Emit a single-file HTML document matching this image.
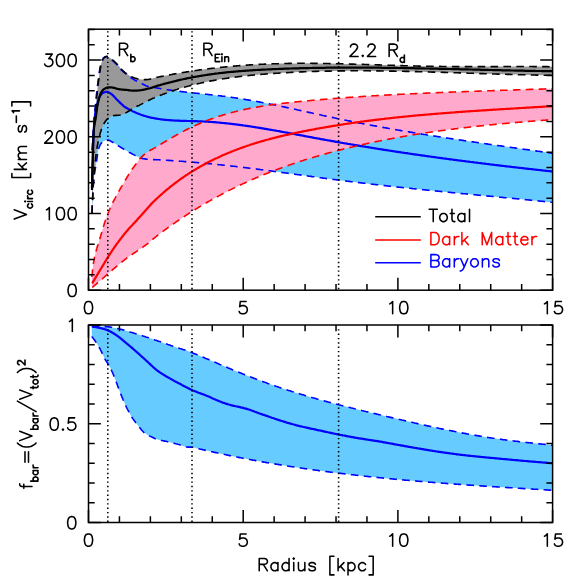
<!DOCTYPE html>
<html><head><meta charset="utf-8"><title>Rotation curve</title>
<style>html,body{margin:0;padding:0;background:#fff;font-family:"Liberation Sans",sans-serif}svg{display:block}</style>
</head><body>
<svg width="581" height="581" viewBox="0 0 581 581">
<rect width="581" height="581" fill="#fff"/>
<path d="M92.6 150.0 L92.8 146.4 L93.1 142.6 L93.3 138.9 L93.6 135.0 L93.8 130.9 L94.1 126.6 L94.3 122.4 L94.6 118.9 L94.8 116.0 L95.1 113.4 L95.3 111.1 L95.6 108.8 L95.8 106.5 L96.1 104.1 L96.3 101.6 L96.6 99.0 L96.8 96.5 L97.1 94.1 L97.3 91.7 L97.6 89.5 L97.8 87.3 L98.1 85.2 L98.3 83.2 L98.6 81.2 L98.8 79.3 L99.1 77.5 L99.3 75.8 L99.6 74.0 L99.8 72.3 L100.1 70.6 L100.3 69.0 L100.6 67.5 L100.8 66.2 L101.1 65.0 L101.3 64.0 L101.6 63.1 L101.8 62.3 L102.1 61.6 L102.3 60.9 L102.6 60.2 L102.8 59.6 L103.1 59.1 L103.3 58.6 L103.6 58.3 L103.8 57.9 L104.1 57.7 L104.3 57.5 L104.6 57.3 L104.8 57.1 L105.1 56.9 L105.3 56.8 L105.6 56.7 L105.8 56.5 L106.1 56.5 L106.3 56.4 L106.6 56.4 L106.8 56.4 L107.1 56.4 L107.3 56.5 L107.6 56.6 L107.8 56.7 L108.1 56.8 L108.3 56.9 L108.6 57.1 L108.8 57.2 L109.1 57.4 L109.3 57.5 L109.6 57.7 L109.8 57.9 L110.1 58.1 L110.3 58.3 L110.6 58.4 L110.8 58.6 L111.1 58.8 L111.3 59.0 L111.6 59.1 L111.8 59.3 L112.1 59.5 L112.3 59.7 L112.6 59.9 L112.8 60.1 L113.1 60.3 L113.3 60.5 L113.6 60.7 L113.8 60.9 L114.1 61.1 L114.3 61.3 L114.6 61.6 L114.8 61.8 L115.1 62.0 L115.3 62.3 L115.6 62.5 L115.8 62.7 L116.1 63.0 L116.3 63.2 L116.6 63.5 L116.8 63.7 L117.1 64.0 L117.3 64.3 L117.6 64.6 L117.8 64.9 L118.1 65.2 L118.3 65.5 L118.6 65.8 L118.8 66.1 L119.1 66.4 L119.3 66.8 L119.6 67.1 L119.8 67.4 L120.1 67.7 L120.3 68.0 L120.6 68.3 L120.8 68.5 L121.1 68.8 L121.3 69.1 L121.6 69.3 L121.8 69.6 L122.1 69.8 L122.3 70.0 L122.6 70.3 L122.8 70.5 L123.1 70.8 L123.3 71.0 L123.6 71.2 L123.8 71.4 L124.1 71.7 L124.3 71.9 L124.6 72.1 L124.8 72.3 L125.1 72.5 L125.3 72.7 L125.6 72.9 L125.8 73.1 L126.1 73.3 L126.3 73.5 L126.6 73.7 L126.8 73.9 L127.1 74.1 L127.3 74.3 L127.6 74.5 L127.8 74.7 L128.1 74.9 L128.3 75.1 L128.6 75.3 L128.8 75.5 L129.1 75.7 L129.3 75.8 L129.6 76.0 L129.8 76.2 L130.6 76.7 L131.6 77.4 L132.6 78.1 L133.6 78.8 L134.6 79.4 L135.6 80.0 L136.6 80.7 L137.6 81.3 L138.6 81.9 L139.6 82.4 L140.6 83.0 L141.6 83.5 L142.6 84.1 L143.6 84.6 L144.6 85.1 L145.6 85.5 L146.6 85.9 L147.6 86.2 L148.6 86.5 L149.6 86.7 L150.6 86.9 L151.6 87.1 L152.6 87.2 L153.6 87.4 L154.6 87.5 L155.6 87.7 L156.6 87.9 L157.6 88.1 L158.6 88.3 L159.6 88.5 L160.6 88.6 L161.6 88.8 L162.6 89.0 L163.6 89.1 L164.6 89.3 L165.6 89.5 L166.6 89.6 L167.6 89.8 L168.6 89.9 L169.6 90.0 L170.6 90.2 L171.6 90.3 L172.6 90.5 L173.6 90.6 L174.6 90.7 L175.6 90.8 L176.6 91.0 L177.6 91.1 L178.6 91.2 L179.6 91.3 L180.6 91.5 L181.6 91.6 L182.6 91.7 L183.6 91.8 L184.6 91.9 L185.6 92.0 L186.6 92.2 L187.6 92.3 L188.6 92.4 L189.6 92.5 L190.6 92.6 L191.6 92.7 L192.6 92.8 L193.6 92.9 L194.6 93.0 L195.6 93.1 L196.6 93.2 L197.6 93.3 L198.6 93.5 L199.6 93.6 L200.6 93.7 L201.6 93.8 L202.6 93.9 L203.6 94.0 L204.6 94.1 L205.6 94.2 L206.6 94.3 L207.6 94.4 L208.6 94.5 L209.6 94.6 L210.6 94.7 L211.6 94.8 L212.6 95.0 L213.6 95.1 L214.6 95.2 L215.6 95.3 L216.6 95.4 L217.6 95.5 L218.6 95.6 L219.6 95.8 L220.6 95.9 L221.6 96.0 L222.6 96.1 L223.6 96.3 L224.6 96.4 L225.6 96.5 L226.6 96.6 L227.6 96.8 L228.6 96.9 L229.6 97.0 L230.6 97.2 L231.6 97.3 L232.6 97.5 L233.6 97.6 L234.6 97.8 L235.6 97.9 L236.6 98.1 L237.6 98.2 L238.6 98.4 L239.6 98.5 L240.6 98.7 L241.6 98.8 L242.6 99.0 L243.6 99.2 L244.6 99.3 L245.6 99.5 L246.6 99.7 L247.6 99.8 L248.6 100.0 L249.6 100.2 L250.6 100.4 L251.6 100.5 L252.6 100.7 L253.6 100.9 L254.6 101.1 L255.6 101.3 L256.6 101.4 L257.6 101.6 L258.6 101.8 L259.6 102.0 L260.6 102.2 L261.6 102.4 L262.6 102.6 L263.6 102.8 L264.6 103.0 L265.6 103.2 L266.6 103.4 L267.6 103.6 L268.6 103.8 L269.6 104.0 L270.6 104.2 L271.6 104.4 L272.6 104.6 L273.6 104.8 L274.6 105.0 L275.6 105.2 L276.6 105.4 L277.6 105.6 L278.6 105.8 L279.6 106.0 L280.6 106.2 L281.6 106.4 L282.6 106.6 L283.6 106.8 L284.6 107.1 L285.6 107.3 L286.6 107.5 L287.6 107.7 L288.6 107.9 L289.6 108.1 L290.6 108.3 L291.6 108.6 L292.6 108.8 L293.6 109.0 L294.6 109.2 L295.6 109.4 L296.6 109.7 L297.6 109.9 L298.6 110.1 L299.6 110.3 L300.6 110.5 L301.6 110.7 L302.6 111.0 L303.6 111.2 L304.6 111.4 L305.6 111.6 L306.6 111.8 L307.6 112.1 L308.6 112.3 L309.6 112.5 L310.6 112.7 L311.6 113.0 L312.6 113.2 L313.6 113.4 L314.6 113.6 L315.6 113.8 L316.6 114.1 L317.6 114.3 L318.6 114.5 L319.6 114.7 L320.6 114.9 L321.6 115.1 L322.6 115.4 L323.6 115.6 L324.6 115.8 L325.6 116.0 L326.6 116.2 L327.6 116.4 L328.6 116.7 L329.6 116.9 L330.6 117.1 L331.6 117.3 L332.6 117.5 L333.6 117.7 L334.6 117.9 L335.6 118.2 L336.6 118.4 L337.6 118.6 L338.6 118.8 L339.6 119.0 L340.6 119.2 L341.6 119.4 L342.6 119.6 L343.6 119.8 L344.6 120.0 L345.6 120.2 L346.6 120.4 L347.6 120.6 L348.6 120.8 L349.6 121.0 L350.6 121.2 L351.6 121.4 L352.6 121.6 L353.6 121.8 L354.6 122.0 L355.6 122.2 L356.6 122.4 L357.6 122.6 L358.6 122.8 L359.6 123.0 L360.6 123.2 L361.6 123.4 L362.6 123.6 L363.6 123.8 L364.6 124.0 L365.6 124.2 L366.6 124.4 L367.6 124.6 L368.6 124.7 L369.6 124.9 L370.6 125.1 L371.6 125.3 L372.6 125.5 L373.6 125.7 L374.6 125.9 L375.6 126.0 L376.6 126.2 L377.6 126.4 L378.6 126.6 L379.6 126.8 L380.6 127.0 L381.6 127.1 L382.6 127.3 L383.6 127.5 L384.6 127.7 L385.6 127.9 L386.6 128.0 L387.6 128.2 L388.6 128.4 L389.6 128.6 L390.6 128.8 L391.6 128.9 L392.6 129.1 L393.6 129.3 L394.6 129.5 L395.6 129.6 L396.6 129.8 L397.6 130.0 L398.6 130.2 L399.6 130.3 L400.6 130.5 L401.6 130.7 L402.6 130.8 L403.6 131.0 L404.6 131.2 L405.6 131.3 L406.6 131.5 L407.6 131.7 L408.6 131.9 L409.6 132.0 L410.6 132.2 L411.6 132.4 L412.6 132.5 L413.6 132.7 L414.6 132.9 L415.6 133.0 L416.6 133.2 L417.6 133.3 L418.6 133.5 L419.6 133.7 L420.6 133.8 L421.6 134.0 L422.6 134.2 L423.6 134.3 L424.6 134.5 L425.6 134.6 L426.6 134.8 L427.6 135.0 L428.6 135.1 L429.6 135.3 L430.6 135.4 L431.6 135.6 L432.6 135.8 L433.6 135.9 L434.6 136.1 L435.6 136.2 L436.6 136.4 L437.6 136.5 L438.6 136.7 L439.6 136.9 L440.6 137.0 L441.6 137.2 L442.6 137.3 L443.6 137.5 L444.6 137.6 L445.6 137.8 L446.6 137.9 L447.6 138.1 L448.6 138.2 L449.6 138.4 L450.6 138.6 L451.6 138.7 L452.6 138.9 L453.6 139.0 L454.6 139.2 L455.6 139.3 L456.6 139.5 L457.6 139.6 L458.6 139.8 L459.6 139.9 L460.6 140.1 L461.6 140.2 L462.6 140.4 L463.6 140.5 L464.6 140.7 L465.6 140.8 L466.6 141.0 L467.6 141.1 L468.6 141.3 L469.6 141.4 L470.6 141.5 L471.6 141.7 L472.6 141.8 L473.6 142.0 L474.6 142.1 L475.6 142.3 L476.6 142.4 L477.6 142.6 L478.6 142.7 L479.6 142.9 L480.6 143.0 L481.6 143.2 L482.6 143.3 L483.6 143.4 L484.6 143.6 L485.6 143.7 L486.6 143.9 L487.6 144.0 L488.6 144.2 L489.6 144.3 L490.6 144.5 L491.6 144.6 L492.6 144.7 L493.6 144.9 L494.6 145.0 L495.6 145.2 L496.6 145.3 L497.6 145.5 L498.6 145.6 L499.6 145.7 L500.6 145.9 L501.6 146.0 L502.6 146.2 L503.6 146.3 L504.6 146.5 L505.6 146.6 L506.6 146.7 L507.6 146.9 L508.6 147.0 L509.6 147.2 L510.6 147.3 L511.6 147.5 L512.6 147.6 L513.6 147.7 L514.6 147.9 L515.6 148.0 L516.6 148.2 L517.6 148.3 L518.6 148.5 L519.6 148.6 L520.6 148.7 L521.6 148.9 L522.6 149.0 L523.6 149.2 L524.6 149.3 L525.6 149.4 L526.6 149.6 L527.6 149.7 L528.6 149.9 L529.6 150.0 L530.6 150.2 L531.6 150.3 L532.6 150.4 L533.6 150.6 L534.6 150.7 L535.6 150.9 L536.6 151.0 L537.6 151.1 L538.6 151.3 L539.6 151.4 L540.6 151.6 L541.6 151.7 L542.6 151.9 L543.6 152.0 L544.6 152.1 L545.6 152.3 L546.6 152.4 L547.6 152.6 L548.6 152.7 L549.6 152.8 L550.6 153.0 L551.6 153.1 L552.6 153.3 L552.6 202.3 L552.0 202.3 L551.0 202.2 L550.0 202.1 L549.0 202.0 L548.0 201.9 L547.0 201.8 L546.0 201.7 L545.0 201.6 L544.0 201.5 L543.0 201.4 L542.0 201.3 L541.0 201.2 L540.0 201.1 L539.0 201.0 L538.0 200.9 L537.0 200.8 L536.0 200.7 L535.0 200.6 L534.0 200.5 L533.0 200.4 L532.0 200.3 L531.0 200.2 L530.0 200.1 L529.0 200.0 L528.0 199.9 L527.0 199.8 L526.0 199.7 L525.0 199.6 L524.0 199.5 L523.0 199.4 L522.0 199.3 L521.0 199.2 L520.0 199.1 L519.0 199.0 L518.0 198.9 L517.0 198.8 L516.0 198.7 L515.0 198.6 L514.0 198.5 L513.0 198.4 L512.0 198.3 L511.0 198.3 L510.0 198.2 L509.0 198.1 L508.0 198.0 L507.0 197.9 L506.0 197.8 L505.0 197.7 L504.0 197.6 L503.0 197.5 L502.0 197.4 L501.0 197.3 L500.0 197.2 L499.0 197.1 L498.0 197.0 L497.0 196.9 L496.0 196.8 L495.0 196.7 L494.0 196.6 L493.0 196.5 L492.0 196.4 L491.0 196.3 L490.0 196.2 L489.0 196.1 L488.0 196.1 L487.0 196.0 L486.0 195.9 L485.0 195.8 L484.0 195.7 L483.0 195.6 L482.0 195.5 L481.0 195.4 L480.0 195.3 L479.0 195.2 L478.0 195.1 L477.0 195.0 L476.0 194.9 L475.0 194.8 L474.0 194.7 L473.0 194.6 L472.0 194.5 L471.0 194.4 L470.0 194.3 L469.0 194.2 L468.0 194.1 L467.0 194.0 L466.0 193.9 L465.0 193.8 L464.0 193.7 L463.0 193.7 L462.0 193.6 L461.0 193.5 L460.0 193.4 L459.0 193.3 L458.0 193.2 L457.0 193.1 L456.0 193.0 L455.0 192.9 L454.0 192.8 L453.0 192.7 L452.0 192.6 L451.0 192.5 L450.0 192.4 L449.0 192.3 L448.0 192.2 L447.0 192.1 L446.0 192.0 L445.0 191.9 L444.0 191.8 L443.0 191.7 L442.0 191.6 L441.0 191.5 L440.0 191.4 L439.0 191.3 L438.0 191.2 L437.0 191.1 L436.0 191.0 L435.0 190.9 L434.0 190.8 L433.0 190.7 L432.0 190.6 L431.0 190.5 L430.0 190.4 L429.0 190.3 L428.0 190.2 L427.0 190.1 L426.0 190.0 L425.0 189.9 L424.0 189.8 L423.0 189.7 L422.0 189.6 L421.0 189.5 L420.0 189.4 L419.0 189.3 L418.0 189.2 L417.0 189.1 L416.0 189.0 L415.0 188.9 L414.0 188.8 L413.0 188.7 L412.0 188.5 L411.0 188.4 L410.0 188.3 L409.0 188.2 L408.0 188.1 L407.0 188.0 L406.0 187.9 L405.0 187.8 L404.0 187.7 L403.0 187.6 L402.0 187.5 L401.0 187.4 L400.0 187.3 L399.0 187.2 L398.0 187.1 L397.0 187.0 L396.0 186.8 L395.0 186.7 L394.0 186.6 L393.0 186.5 L392.0 186.4 L391.0 186.3 L390.0 186.2 L389.0 186.1 L388.0 186.0 L387.0 185.9 L386.0 185.7 L385.0 185.6 L384.0 185.5 L383.0 185.4 L382.0 185.3 L381.0 185.2 L380.0 185.1 L379.0 185.0 L378.0 184.8 L377.0 184.7 L376.0 184.6 L375.0 184.5 L374.0 184.4 L373.0 184.3 L372.0 184.2 L371.0 184.0 L370.0 183.9 L369.0 183.8 L368.0 183.7 L367.0 183.6 L366.0 183.5 L365.0 183.3 L364.0 183.2 L363.0 183.1 L362.0 183.0 L361.0 182.9 L360.0 182.8 L359.0 182.6 L358.0 182.5 L357.0 182.4 L356.0 182.3 L355.0 182.1 L354.0 182.0 L353.0 181.9 L352.0 181.8 L351.0 181.7 L350.0 181.5 L349.0 181.4 L348.0 181.3 L347.0 181.2 L346.0 181.0 L345.0 180.9 L344.0 180.8 L343.0 180.7 L342.0 180.5 L341.0 180.4 L340.0 180.3 L339.0 180.2 L338.0 180.0 L337.0 179.9 L336.0 179.8 L335.0 179.6 L334.0 179.5 L333.0 179.4 L332.0 179.2 L331.0 179.1 L330.0 179.0 L329.0 178.9 L328.0 178.7 L327.0 178.6 L326.0 178.5 L325.0 178.3 L324.0 178.2 L323.0 178.1 L322.0 177.9 L321.0 177.8 L320.0 177.7 L319.0 177.5 L318.0 177.4 L317.0 177.3 L316.0 177.1 L315.0 177.0 L314.0 176.8 L313.0 176.7 L312.0 176.6 L311.0 176.4 L310.0 176.3 L309.0 176.2 L308.0 176.0 L307.0 175.9 L306.0 175.8 L305.0 175.6 L304.0 175.5 L303.0 175.3 L302.0 175.2 L301.0 175.1 L300.0 174.9 L299.0 174.8 L298.0 174.7 L297.0 174.5 L296.0 174.4 L295.0 174.2 L294.0 174.1 L293.0 174.0 L292.0 173.8 L291.0 173.7 L290.0 173.6 L289.0 173.4 L288.0 173.3 L287.0 173.1 L286.0 173.0 L285.0 172.9 L284.0 172.7 L283.0 172.6 L282.0 172.5 L281.0 172.3 L280.0 172.2 L279.0 172.1 L278.0 171.9 L277.0 171.8 L276.0 171.6 L275.0 171.5 L274.0 171.4 L273.0 171.2 L272.0 171.1 L271.0 171.0 L270.0 170.8 L269.0 170.7 L268.0 170.6 L267.0 170.4 L266.0 170.3 L265.0 170.2 L264.0 170.0 L263.0 169.9 L262.0 169.8 L261.0 169.7 L260.0 169.5 L259.0 169.4 L258.0 169.3 L257.0 169.1 L256.0 169.0 L255.0 168.9 L254.0 168.8 L253.0 168.6 L252.0 168.5 L251.0 168.4 L250.0 168.2 L249.0 168.1 L248.0 168.0 L247.0 167.9 L246.0 167.8 L245.0 167.6 L244.0 167.5 L243.0 167.4 L242.0 167.3 L241.0 167.1 L240.0 167.0 L239.0 166.9 L238.0 166.8 L237.0 166.7 L236.0 166.5 L235.0 166.4 L234.0 166.3 L233.0 166.2 L232.0 166.1 L231.0 166.0 L230.0 165.9 L229.0 165.7 L228.0 165.6 L227.0 165.5 L226.0 165.4 L225.0 165.3 L224.0 165.2 L223.0 165.1 L222.0 165.0 L221.0 164.9 L220.0 164.8 L219.0 164.7 L218.0 164.6 L217.0 164.5 L216.0 164.3 L215.0 164.2 L214.0 164.1 L213.0 164.0 L212.0 163.9 L211.0 163.8 L210.0 163.7 L209.0 163.7 L208.0 163.6 L207.0 163.5 L206.0 163.4 L205.0 163.3 L204.0 163.2 L203.0 163.1 L202.0 163.0 L201.0 162.9 L200.0 162.8 L199.0 162.7 L198.0 162.6 L197.0 162.5 L196.0 162.5 L195.0 162.4 L194.0 162.3 L193.0 162.2 L192.0 162.1 L191.0 162.0 L190.0 162.0 L189.0 161.9 L188.0 161.8 L187.0 161.7 L186.0 161.6 L185.0 161.6 L184.0 161.5 L183.0 161.4 L182.0 161.3 L181.0 161.3 L180.0 161.2 L179.0 161.1 L178.0 161.0 L177.0 161.0 L176.0 160.9 L175.0 160.8 L174.0 160.8 L173.0 160.7 L172.0 160.6 L171.0 160.6 L170.0 160.5 L169.0 160.4 L168.0 160.4 L167.0 160.3 L166.0 160.2 L165.0 160.2 L164.0 160.1 L163.0 160.1 L162.0 160.0 L161.0 159.9 L160.0 159.9 L159.0 159.8 L158.0 159.8 L157.0 159.7 L156.0 159.7 L155.0 159.6 L154.0 159.6 L153.0 159.6 L152.0 159.6 L151.0 159.6 L150.0 159.5 L149.0 159.5 L148.0 159.3 L147.0 159.2 L146.0 159.1 L145.0 158.9 L144.0 158.7 L143.0 158.6 L142.0 158.4 L141.0 158.1 L140.0 157.9 L139.0 157.5 L138.0 157.0 L137.0 156.5 L136.0 155.9 L135.0 155.4 L134.0 154.9 L133.0 154.4 L132.0 153.8 L131.0 153.3 L130.0 152.7 L129.8 152.6 L129.5 152.4 L129.2 152.3 L129.0 152.2 L128.8 152.0 L128.5 151.9 L128.2 151.7 L128.0 151.6 L127.8 151.5 L127.5 151.3 L127.2 151.2 L127.0 151.0 L126.8 150.9 L126.5 150.7 L126.2 150.6 L126.0 150.5 L125.8 150.3 L125.5 150.2 L125.2 150.0 L125.0 149.9 L124.8 149.7 L124.5 149.6 L124.2 149.4 L124.0 149.3 L123.8 149.1 L123.5 149.0 L123.2 148.8 L123.0 148.7 L122.8 148.5 L122.5 148.4 L122.2 148.2 L122.0 148.1 L121.8 147.9 L121.5 147.8 L121.2 147.6 L121.0 147.5 L120.8 147.3 L120.5 147.2 L120.2 147.0 L120.0 146.9 L119.8 146.7 L119.5 146.6 L119.2 146.4 L119.0 146.3 L118.8 146.1 L118.5 145.9 L118.2 145.8 L118.0 145.6 L117.8 145.5 L117.5 145.3 L117.2 145.1 L117.0 145.0 L116.8 144.8 L116.5 144.6 L116.2 144.5 L116.0 144.3 L115.8 144.1 L115.5 144.0 L115.2 143.8 L115.0 143.6 L114.8 143.5 L114.5 143.3 L114.2 143.2 L114.0 143.0 L113.8 142.9 L113.5 142.7 L113.2 142.6 L113.0 142.5 L112.8 142.3 L112.5 142.2 L112.2 142.1 L112.0 141.9 L111.8 141.8 L111.5 141.7 L111.2 141.5 L111.0 141.4 L110.8 141.2 L110.5 141.1 L110.2 140.9 L110.0 140.8 L109.8 140.7 L109.5 140.6 L109.2 140.4 L109.0 140.3 L108.8 140.2 L108.5 140.2 L108.2 140.1 L108.0 140.1 L107.8 140.0 L107.5 140.0 L107.2 140.0 L107.0 140.0 L106.8 140.0 L106.5 140.1 L106.2 140.1 L106.0 140.2 L105.8 140.3 L105.5 140.4 L105.2 140.4 L105.0 140.5 L104.8 140.7 L104.5 140.8 L104.2 140.9 L104.0 141.0 L103.8 141.2 L103.5 141.3 L103.2 141.5 L103.0 141.7 L102.8 141.8 L102.5 142.0 L102.2 142.2 L102.0 142.4 L101.8 142.6 L101.5 142.9 L101.2 143.2 L101.0 143.5 L100.8 143.9 L100.5 144.3 L100.2 144.8 L100.0 145.3 L99.8 145.8 L99.5 146.4 L99.2 147.0 L99.0 147.7 L98.8 148.3 L98.5 149.2 L98.2 150.4 L98.0 151.7 L97.8 153.2 L97.5 154.8 L97.2 156.5 L97.0 158.3 L96.8 160.0 L96.5 161.7 L96.2 163.4 L96.0 164.9 L95.8 166.3 L95.5 167.7 L95.2 169.1 L95.0 170.4 L94.8 171.9 L94.5 173.5 L94.2 175.3 L94.0 177.2 L93.8 179.5 L93.5 182.1 L93.2 185.6 L93.0 190.0 L92.8 195.1 L92.5 200.8 L92.2 206.8 L92.0 213.0Z" fill="#66ccff"/>
<path d="M91.8 277.0 L92.0 274.8 L92.3 272.7 L92.5 270.6 L92.8 268.6 L93.0 266.6 L93.3 264.7 L93.5 263.0 L93.8 261.3 L94.0 259.8 L94.3 258.5 L94.5 257.3 L94.8 256.1 L95.0 255.0 L95.3 254.0 L95.5 253.0 L95.8 252.0 L96.0 251.1 L96.3 250.2 L96.5 249.3 L96.8 248.5 L97.0 247.7 L97.3 246.9 L97.5 246.1 L97.8 245.4 L98.0 244.6 L98.3 243.8 L98.5 243.1 L98.8 242.3 L99.0 241.5 L99.3 240.7 L99.5 239.8 L99.8 239.0 L100.0 238.1 L100.3 237.3 L100.5 236.4 L100.8 235.6 L101.0 234.7 L101.3 233.9 L101.5 233.0 L101.8 232.2 L102.0 231.3 L102.3 230.5 L102.5 229.6 L102.8 228.8 L103.0 228.0 L103.3 227.1 L103.5 226.3 L103.8 225.5 L104.0 224.7 L104.3 223.9 L104.5 223.1 L104.8 222.3 L105.0 221.5 L105.3 220.7 L105.5 220.0 L105.8 219.2 L106.0 218.5 L106.3 217.8 L106.5 217.1 L106.8 216.4 L107.0 215.7 L107.3 215.0 L107.5 214.4 L107.8 213.7 L108.0 213.1 L108.3 212.5 L108.5 211.9 L108.8 211.3 L109.0 210.7 L109.3 210.1 L109.5 209.6 L109.8 209.0 L110.0 208.4 L110.3 207.9 L110.5 207.3 L110.8 206.8 L111.0 206.3 L111.3 205.7 L111.5 205.2 L111.8 204.7 L112.0 204.2 L112.3 203.7 L112.5 203.2 L112.8 202.7 L113.0 202.2 L113.3 201.7 L113.5 201.2 L113.8 200.7 L114.0 200.2 L114.3 199.8 L114.5 199.3 L114.8 198.8 L115.0 198.3 L115.3 197.8 L115.5 197.4 L115.8 196.9 L116.0 196.4 L116.3 195.9 L116.5 195.5 L116.8 195.0 L117.0 194.5 L117.3 194.1 L117.5 193.6 L117.8 193.2 L118.0 192.7 L118.3 192.3 L118.5 191.8 L118.8 191.4 L119.0 190.9 L119.3 190.5 L119.5 190.1 L119.8 189.6 L120.0 189.2 L120.3 188.8 L120.5 188.4 L120.8 187.9 L121.0 187.5 L121.3 187.1 L121.5 186.7 L121.8 186.2 L122.0 185.8 L122.3 185.4 L122.5 185.0 L122.8 184.5 L123.0 184.1 L123.3 183.7 L123.5 183.3 L123.8 182.9 L124.0 182.4 L124.3 182.0 L124.5 181.6 L124.8 181.1 L125.0 180.7 L125.3 180.3 L125.5 179.8 L125.8 179.4 L126.0 179.0 L126.3 178.5 L126.5 178.1 L126.8 177.7 L127.0 177.2 L127.3 176.8 L127.5 176.4 L127.8 176.0 L128.1 175.5 L128.3 175.1 L128.6 174.7 L128.8 174.3 L129.1 173.9 L129.3 173.5 L129.6 173.1 L129.8 172.7 L130.8 171.2 L131.8 169.7 L132.8 168.3 L133.8 167.0 L134.8 165.6 L135.8 164.3 L136.8 162.9 L137.8 161.5 L138.8 160.1 L139.8 158.8 L140.8 157.7 L141.8 156.7 L142.8 155.8 L143.8 154.9 L144.8 154.0 L145.8 153.2 L146.8 152.5 L147.8 151.8 L148.8 151.1 L149.8 150.5 L150.8 150.0 L151.8 149.5 L152.8 148.9 L153.8 148.4 L154.8 147.9 L155.8 147.3 L156.8 146.7 L157.8 146.0 L158.8 145.4 L159.8 144.8 L160.8 144.2 L161.8 143.6 L162.8 143.0 L163.8 142.4 L164.8 141.8 L165.8 141.2 L166.8 140.6 L167.8 140.0 L168.8 139.4 L169.8 138.8 L170.8 138.3 L171.8 137.7 L172.8 137.1 L173.8 136.5 L174.8 136.0 L175.8 135.4 L176.8 134.8 L177.8 134.3 L178.8 133.7 L179.8 133.2 L180.8 132.7 L181.8 132.1 L182.8 131.6 L183.8 131.1 L184.8 130.5 L185.8 130.0 L186.8 129.5 L187.8 129.0 L188.8 128.5 L189.8 128.0 L190.8 127.5 L191.8 127.1 L192.8 126.6 L193.8 126.1 L194.8 125.7 L195.8 125.2 L196.8 124.8 L197.8 124.3 L198.8 123.9 L199.8 123.5 L200.8 123.0 L201.8 122.6 L202.8 122.2 L203.8 121.8 L204.8 121.4 L205.8 121.0 L206.8 120.6 L207.8 120.2 L208.8 119.8 L209.8 119.5 L210.8 119.1 L211.8 118.7 L212.8 118.4 L213.8 118.0 L214.8 117.7 L215.8 117.3 L216.8 117.0 L217.8 116.7 L218.8 116.3 L219.8 116.0 L220.8 115.7 L221.8 115.4 L222.8 115.1 L223.8 114.8 L224.8 114.5 L225.8 114.2 L226.8 113.9 L227.8 113.6 L228.8 113.3 L229.8 113.1 L230.8 112.8 L231.8 112.5 L232.8 112.2 L233.8 112.0 L234.8 111.7 L235.8 111.5 L236.8 111.2 L237.8 111.0 L238.8 110.8 L239.8 110.5 L240.8 110.3 L241.8 110.1 L242.8 109.8 L243.8 109.6 L244.8 109.4 L245.8 109.2 L246.8 109.0 L247.8 108.8 L248.8 108.6 L249.8 108.4 L250.8 108.2 L251.8 108.0 L252.8 107.8 L253.8 107.6 L254.8 107.4 L255.8 107.2 L256.8 107.1 L257.8 106.9 L258.8 106.7 L259.8 106.6 L260.8 106.4 L261.8 106.2 L262.8 106.1 L263.8 105.9 L264.8 105.7 L265.8 105.6 L266.8 105.4 L267.8 105.3 L268.8 105.2 L269.8 105.0 L270.8 104.9 L271.8 104.7 L272.8 104.6 L273.8 104.5 L274.8 104.3 L275.8 104.2 L276.8 104.1 L277.8 103.9 L278.8 103.8 L279.8 103.7 L280.8 103.6 L281.8 103.5 L282.8 103.3 L283.8 103.2 L284.8 103.1 L285.8 103.0 L286.8 102.9 L287.8 102.8 L288.8 102.7 L289.8 102.5 L290.8 102.4 L291.8 102.3 L292.8 102.2 L293.8 102.1 L294.8 102.0 L295.8 101.9 L296.8 101.8 L297.8 101.7 L298.8 101.6 L299.8 101.5 L300.8 101.4 L301.8 101.3 L302.8 101.2 L303.8 101.1 L304.8 101.0 L305.8 101.0 L306.8 100.9 L307.8 100.8 L308.8 100.7 L309.8 100.6 L310.8 100.5 L311.8 100.4 L312.8 100.3 L313.8 100.2 L314.8 100.1 L315.8 100.0 L316.8 100.0 L317.8 99.9 L318.8 99.8 L319.8 99.7 L320.8 99.6 L321.8 99.5 L322.8 99.4 L323.8 99.4 L324.8 99.3 L325.8 99.2 L326.8 99.1 L327.8 99.0 L328.8 98.9 L329.8 98.9 L330.8 98.8 L331.8 98.7 L332.8 98.6 L333.8 98.5 L334.8 98.5 L335.8 98.4 L336.8 98.3 L337.8 98.2 L338.8 98.2 L339.8 98.1 L340.8 98.0 L341.8 97.9 L342.8 97.9 L343.8 97.8 L344.8 97.7 L345.8 97.6 L346.8 97.6 L347.8 97.5 L348.8 97.4 L349.8 97.4 L350.8 97.3 L351.8 97.2 L352.8 97.1 L353.8 97.1 L354.8 97.0 L355.8 96.9 L356.8 96.9 L357.8 96.8 L358.8 96.7 L359.8 96.7 L360.8 96.6 L361.8 96.5 L362.8 96.5 L363.8 96.4 L364.8 96.3 L365.8 96.3 L366.8 96.2 L367.8 96.2 L368.8 96.1 L369.8 96.0 L370.8 96.0 L371.8 95.9 L372.8 95.8 L373.8 95.8 L374.8 95.7 L375.8 95.7 L376.8 95.6 L377.8 95.5 L378.8 95.5 L379.8 95.4 L380.8 95.4 L381.8 95.3 L382.8 95.3 L383.8 95.2 L384.8 95.1 L385.8 95.1 L386.8 95.0 L387.8 95.0 L388.8 94.9 L389.8 94.9 L390.8 94.8 L391.8 94.8 L392.8 94.7 L393.8 94.7 L394.8 94.6 L395.8 94.5 L396.8 94.5 L397.8 94.4 L398.8 94.4 L399.8 94.3 L400.8 94.3 L401.8 94.2 L402.8 94.2 L403.8 94.1 L404.8 94.1 L405.8 94.0 L406.8 94.0 L407.8 93.9 L408.8 93.9 L409.8 93.8 L410.8 93.8 L411.8 93.8 L412.8 93.7 L413.8 93.7 L414.8 93.6 L415.8 93.6 L416.8 93.5 L417.8 93.5 L418.8 93.4 L419.8 93.4 L420.8 93.3 L421.8 93.3 L422.8 93.3 L423.8 93.2 L424.8 93.2 L425.8 93.1 L426.8 93.1 L427.8 93.0 L428.8 93.0 L429.8 92.9 L430.8 92.9 L431.8 92.9 L432.8 92.8 L433.8 92.8 L434.8 92.7 L435.8 92.7 L436.8 92.7 L437.8 92.6 L438.8 92.6 L439.8 92.5 L440.8 92.5 L441.8 92.5 L442.8 92.4 L443.8 92.4 L444.8 92.3 L445.8 92.3 L446.8 92.3 L447.8 92.2 L448.8 92.2 L449.8 92.1 L450.8 92.1 L451.8 92.1 L452.8 92.0 L453.8 92.0 L454.8 92.0 L455.8 91.9 L456.8 91.9 L457.8 91.8 L458.8 91.8 L459.8 91.8 L460.8 91.7 L461.8 91.7 L462.8 91.7 L463.8 91.6 L464.8 91.6 L465.8 91.6 L466.8 91.5 L467.8 91.5 L468.8 91.5 L469.8 91.4 L470.8 91.4 L471.8 91.3 L472.8 91.3 L473.8 91.3 L474.8 91.2 L475.8 91.2 L476.8 91.2 L477.8 91.1 L478.8 91.1 L479.8 91.1 L480.8 91.0 L481.8 91.0 L482.8 91.0 L483.8 90.9 L484.8 90.9 L485.8 90.9 L486.8 90.8 L487.8 90.8 L488.8 90.8 L489.8 90.7 L490.8 90.7 L491.8 90.7 L492.8 90.6 L493.8 90.6 L494.8 90.6 L495.8 90.5 L496.8 90.5 L497.8 90.5 L498.8 90.4 L499.8 90.4 L500.8 90.4 L501.8 90.3 L502.8 90.3 L503.8 90.3 L504.8 90.3 L505.8 90.2 L506.8 90.2 L507.8 90.2 L508.8 90.1 L509.8 90.1 L510.8 90.1 L511.8 90.0 L512.8 90.0 L513.8 90.0 L514.8 89.9 L515.8 89.9 L516.8 89.9 L517.8 89.8 L518.8 89.8 L519.8 89.8 L520.8 89.7 L521.8 89.7 L522.8 89.7 L523.8 89.6 L524.8 89.6 L525.8 89.6 L526.8 89.5 L527.8 89.5 L528.8 89.5 L529.8 89.4 L530.8 89.4 L531.8 89.4 L532.8 89.3 L533.8 89.3 L534.8 89.3 L535.8 89.3 L536.8 89.2 L537.8 89.2 L538.8 89.2 L539.8 89.1 L540.8 89.1 L541.8 89.1 L542.8 89.0 L543.8 89.0 L544.8 89.0 L545.8 88.9 L546.8 88.9 L547.8 88.9 L548.8 88.8 L549.8 88.8 L550.8 88.8 L551.8 88.7 L552.6 88.7 L552.6 119.6 L552.2 119.6 L551.2 119.7 L550.2 119.8 L549.2 119.9 L548.2 119.9 L547.2 120.0 L546.2 120.1 L545.2 120.2 L544.2 120.2 L543.2 120.3 L542.2 120.4 L541.2 120.5 L540.2 120.5 L539.2 120.6 L538.2 120.7 L537.2 120.8 L536.2 120.8 L535.2 120.9 L534.2 121.0 L533.2 121.1 L532.2 121.2 L531.2 121.2 L530.2 121.3 L529.2 121.4 L528.2 121.5 L527.2 121.6 L526.2 121.6 L525.2 121.7 L524.2 121.8 L523.2 121.9 L522.2 122.0 L521.2 122.1 L520.2 122.1 L519.2 122.2 L518.2 122.3 L517.2 122.4 L516.2 122.5 L515.2 122.6 L514.2 122.7 L513.2 122.7 L512.2 122.8 L511.2 122.9 L510.2 123.0 L509.2 123.1 L508.2 123.2 L507.2 123.3 L506.2 123.4 L505.2 123.5 L504.2 123.5 L503.2 123.6 L502.2 123.7 L501.2 123.8 L500.2 123.9 L499.2 124.0 L498.2 124.1 L497.2 124.2 L496.2 124.3 L495.2 124.4 L494.2 124.5 L493.2 124.6 L492.2 124.7 L491.2 124.8 L490.2 124.9 L489.2 125.0 L488.2 125.1 L487.2 125.2 L486.2 125.3 L485.2 125.4 L484.2 125.5 L483.2 125.6 L482.2 125.7 L481.2 125.8 L480.2 125.9 L479.2 126.0 L478.2 126.1 L477.2 126.2 L476.2 126.4 L475.2 126.5 L474.2 126.6 L473.2 126.7 L472.2 126.8 L471.2 126.9 L470.2 127.0 L469.2 127.1 L468.2 127.2 L467.2 127.4 L466.2 127.5 L465.2 127.6 L464.2 127.7 L463.2 127.8 L462.2 127.9 L461.2 128.1 L460.2 128.2 L459.2 128.3 L458.2 128.4 L457.2 128.6 L456.2 128.7 L455.2 128.8 L454.2 128.9 L453.2 129.1 L452.2 129.2 L451.2 129.3 L450.2 129.4 L449.2 129.6 L448.2 129.7 L447.2 129.8 L446.2 130.0 L445.2 130.1 L444.2 130.2 L443.2 130.4 L442.2 130.5 L441.2 130.6 L440.2 130.8 L439.2 130.9 L438.2 131.0 L437.2 131.2 L436.2 131.3 L435.2 131.5 L434.2 131.6 L433.2 131.8 L432.2 131.9 L431.2 132.0 L430.2 132.2 L429.2 132.3 L428.2 132.5 L427.2 132.6 L426.2 132.8 L425.2 132.9 L424.2 133.1 L423.2 133.2 L422.2 133.4 L421.2 133.5 L420.2 133.7 L419.2 133.9 L418.2 134.0 L417.2 134.2 L416.2 134.3 L415.2 134.5 L414.2 134.7 L413.2 134.8 L412.2 135.0 L411.2 135.2 L410.2 135.3 L409.2 135.5 L408.2 135.7 L407.2 135.8 L406.2 136.0 L405.2 136.2 L404.2 136.3 L403.2 136.5 L402.2 136.7 L401.2 136.9 L400.2 137.0 L399.2 137.2 L398.2 137.4 L397.2 137.6 L396.2 137.8 L395.2 137.9 L394.2 138.1 L393.2 138.3 L392.2 138.5 L391.2 138.7 L390.2 138.9 L389.2 139.1 L388.2 139.3 L387.2 139.4 L386.2 139.6 L385.2 139.8 L384.2 140.0 L383.2 140.2 L382.2 140.4 L381.2 140.6 L380.2 140.8 L379.2 141.0 L378.2 141.2 L377.2 141.4 L376.2 141.6 L375.2 141.8 L374.2 142.1 L373.2 142.3 L372.2 142.5 L371.2 142.7 L370.2 142.9 L369.2 143.1 L368.2 143.3 L367.2 143.5 L366.2 143.8 L365.2 144.0 L364.2 144.2 L363.2 144.4 L362.2 144.7 L361.2 144.9 L360.2 145.1 L359.2 145.3 L358.2 145.6 L357.2 145.8 L356.2 146.0 L355.2 146.3 L354.2 146.5 L353.2 146.7 L352.2 147.0 L351.2 147.2 L350.2 147.4 L349.2 147.7 L348.2 147.9 L347.2 148.2 L346.2 148.4 L345.2 148.7 L344.2 148.9 L343.2 149.2 L342.2 149.4 L341.2 149.7 L340.2 149.9 L339.2 150.2 L338.2 150.4 L337.2 150.7 L336.2 151.0 L335.2 151.2 L334.2 151.5 L333.2 151.7 L332.2 152.0 L331.2 152.3 L330.2 152.5 L329.2 152.8 L328.2 153.1 L327.2 153.4 L326.2 153.6 L325.2 153.9 L324.2 154.2 L323.2 154.5 L322.2 154.8 L321.2 155.0 L320.2 155.3 L319.2 155.6 L318.2 155.9 L317.2 156.2 L316.2 156.5 L315.2 156.8 L314.2 157.1 L313.2 157.4 L312.2 157.7 L311.2 158.0 L310.2 158.3 L309.2 158.6 L308.2 158.9 L307.2 159.2 L306.2 159.5 L305.2 159.8 L304.2 160.1 L303.2 160.5 L302.2 160.8 L301.2 161.1 L300.2 161.4 L299.2 161.7 L298.2 162.1 L297.2 162.4 L296.2 162.7 L295.2 163.1 L294.2 163.4 L293.2 163.7 L292.2 164.1 L291.2 164.4 L290.2 164.8 L289.2 165.1 L288.2 165.5 L287.2 165.8 L286.2 166.2 L285.2 166.5 L284.2 166.9 L283.2 167.2 L282.2 167.6 L281.2 168.0 L280.2 168.3 L279.2 168.7 L278.2 169.1 L277.2 169.4 L276.2 169.8 L275.2 170.2 L274.2 170.6 L273.2 171.0 L272.2 171.3 L271.2 171.7 L270.2 172.1 L269.2 172.5 L268.2 172.9 L267.2 173.3 L266.2 173.7 L265.2 174.1 L264.2 174.5 L263.2 174.9 L262.2 175.3 L261.2 175.7 L260.2 176.2 L259.2 176.6 L258.2 177.0 L257.2 177.4 L256.2 177.8 L255.2 178.3 L254.2 178.7 L253.2 179.1 L252.2 179.6 L251.2 180.0 L250.2 180.5 L249.2 180.9 L248.2 181.3 L247.2 181.8 L246.2 182.3 L245.2 182.7 L244.2 183.2 L243.2 183.6 L242.2 184.1 L241.2 184.6 L240.2 185.0 L239.2 185.5 L238.2 186.0 L237.2 186.5 L236.2 186.9 L235.2 187.4 L234.2 187.9 L233.2 188.4 L232.2 188.9 L231.2 189.4 L230.2 189.9 L229.2 190.4 L228.2 190.9 L227.2 191.4 L226.2 191.9 L225.2 192.5 L224.2 193.0 L223.2 193.5 L222.2 194.0 L221.2 194.5 L220.2 195.1 L219.2 195.6 L218.2 196.2 L217.2 196.7 L216.2 197.2 L215.2 197.8 L214.2 198.3 L213.2 198.9 L212.2 199.5 L211.2 200.0 L210.2 200.6 L209.2 201.1 L208.2 201.7 L207.2 202.3 L206.2 202.9 L205.2 203.5 L204.2 204.0 L203.2 204.6 L202.2 205.2 L201.2 205.8 L200.2 206.4 L199.2 207.0 L198.2 207.6 L197.2 208.2 L196.2 208.8 L195.2 209.5 L194.2 210.1 L193.2 210.7 L192.2 211.3 L191.2 212.0 L190.2 212.6 L189.2 213.2 L188.2 213.9 L187.2 214.5 L186.2 215.2 L185.2 215.8 L184.2 216.5 L183.2 217.1 L182.2 217.8 L181.2 218.5 L180.2 219.2 L179.2 219.8 L178.2 220.5 L177.2 221.2 L176.2 221.9 L175.2 222.6 L174.2 223.3 L173.2 224.0 L172.2 224.7 L171.2 225.4 L170.2 226.1 L169.2 226.8 L168.2 227.5 L167.2 228.2 L166.2 229.0 L165.2 229.7 L164.2 230.4 L163.2 231.2 L162.2 231.9 L161.2 232.7 L160.2 233.4 L159.2 234.2 L158.2 234.9 L157.2 235.7 L156.2 236.5 L155.2 237.3 L154.2 238.1 L153.2 238.9 L152.2 239.8 L151.2 240.6 L150.2 241.5 L149.2 242.3 L148.2 243.2 L147.2 244.0 L146.2 244.7 L145.2 245.5 L144.2 246.2 L143.2 246.9 L142.2 247.6 L141.2 248.3 L140.2 248.9 L139.2 249.6 L138.2 250.3 L137.2 251.0 L136.2 251.6 L135.2 252.3 L134.2 253.0 L133.2 253.7 L132.2 254.4 L131.2 255.0 L130.2 255.7 L129.9 255.9 L129.7 256.1 L129.4 256.2 L129.2 256.4 L128.9 256.6 L128.7 256.8 L128.4 256.9 L128.2 257.1 L128.0 257.3 L127.7 257.5 L127.5 257.7 L127.2 257.8 L127.0 258.0 L126.7 258.2 L126.5 258.4 L126.2 258.6 L126.0 258.8 L125.7 259.0 L125.5 259.1 L125.2 259.3 L125.0 259.5 L124.7 259.7 L124.5 259.9 L124.2 260.1 L124.0 260.3 L123.7 260.5 L123.5 260.7 L123.2 260.9 L123.0 261.1 L122.7 261.3 L122.5 261.5 L122.2 261.7 L122.0 261.9 L121.7 262.1 L121.5 262.3 L121.2 262.5 L121.0 262.7 L120.7 262.9 L120.5 263.1 L120.2 263.3 L120.0 263.5 L119.7 263.7 L119.5 263.9 L119.2 264.1 L119.0 264.3 L118.7 264.5 L118.5 264.8 L118.2 265.0 L118.0 265.2 L117.7 265.4 L117.5 265.6 L117.2 265.8 L117.0 266.0 L116.7 266.2 L116.5 266.4 L116.2 266.6 L116.0 266.8 L115.7 267.1 L115.5 267.3 L115.2 267.5 L115.0 267.7 L114.7 267.9 L114.5 268.1 L114.2 268.3 L114.0 268.5 L113.7 268.8 L113.5 269.0 L113.2 269.2 L113.0 269.4 L112.7 269.6 L112.5 269.8 L112.2 270.1 L112.0 270.3 L111.7 270.5 L111.5 270.7 L111.2 270.9 L111.0 271.2 L110.7 271.4 L110.5 271.6 L110.2 271.8 L110.0 272.0 L109.7 272.2 L109.5 272.5 L109.2 272.7 L109.0 272.9 L108.7 273.1 L108.5 273.3 L108.2 273.6 L108.0 273.8 L107.7 274.0 L107.5 274.2 L107.2 274.4 L107.0 274.7 L106.7 274.9 L106.5 275.1 L106.2 275.3 L106.0 275.5 L105.7 275.8 L105.5 276.0 L105.2 276.2 L105.0 276.4 L104.7 276.6 L104.5 276.9 L104.2 277.1 L104.0 277.3 L103.7 277.5 L103.5 277.7 L103.2 278.0 L103.0 278.2 L102.7 278.4 L102.5 278.6 L102.2 278.8 L102.0 279.1 L101.7 279.3 L101.5 279.5 L101.2 279.7 L101.0 279.9 L100.7 280.2 L100.5 280.4 L100.2 280.6 L100.0 280.8 L99.7 281.0 L99.5 281.2 L99.2 281.5 L99.0 281.7 L98.7 281.9 L98.5 282.1 L98.2 282.3 L98.0 282.5 L97.7 282.7 L97.5 283.0 L97.2 283.2 L97.0 283.4 L96.7 283.6 L96.5 283.8 L96.2 284.0 L96.0 284.2 L95.7 284.5 L95.5 284.7 L95.2 284.9 L95.0 285.1 L94.7 285.3 L94.5 285.5 L94.2 285.7 L94.0 285.9 L93.7 286.1 L93.5 286.4 L93.2 286.6 L93.0 286.8 L92.7 287.0 L92.5 287.2 L92.2 287.4Z" fill="#ffaacc"/>
<path d="M92.6 150.0 L92.8 146.4 L93.1 142.6 L93.3 138.9 L93.6 135.0 L93.8 130.9 L94.1 126.6 L94.3 122.4 L94.6 118.9 L94.8 116.0 L95.1 113.4 L95.3 111.1 L95.6 108.8 L95.8 106.5 L96.1 104.1 L96.3 101.6 L96.6 99.0 L96.8 96.5 L97.1 94.1 L97.3 91.7 L97.6 89.5 L97.8 87.3 L98.1 85.2 L98.3 83.2 L98.6 81.2 L98.8 79.3 L99.1 77.5 L99.3 75.8 L99.6 74.0 L99.8 72.3 L100.1 70.6 L100.3 69.0 L100.6 67.5 L100.8 66.2 L101.1 65.0 L101.3 64.0 L101.6 63.1 L101.8 62.3 L102.1 61.6 L102.3 60.9 L102.6 60.2 L102.8 59.6 L103.1 59.1 L103.3 58.6 L103.6 58.3 L103.8 57.9 L104.1 57.7 L104.3 57.5 L104.6 57.3 L104.8 57.1 L105.1 56.9 L105.3 56.8 L105.6 56.7 L105.8 56.5 L106.1 56.5 L106.3 56.4 L106.6 56.4 L106.8 56.4 L107.1 56.4 L107.3 56.5 L107.6 56.6 L107.8 56.7 L108.1 56.8 L108.3 56.9 L108.6 57.1 L108.8 57.2 L109.1 57.4 L109.3 57.5 L109.6 57.7 L109.8 57.9 L110.1 58.1 L110.3 58.3 L110.6 58.4 L110.8 58.6 L111.1 58.8 L111.3 59.0 L111.6 59.1 L111.8 59.3 L112.1 59.5 L112.3 59.7 L112.6 59.9 L112.8 60.1 L113.1 60.3 L113.3 60.5 L113.6 60.7 L113.8 60.9 L114.1 61.1 L114.3 61.3 L114.6 61.6 L114.8 61.8 L115.1 62.0 L115.3 62.3 L115.6 62.5 L115.8 62.7 L116.1 63.0 L116.3 63.2 L116.6 63.5 L116.8 63.7 L117.1 64.0 L117.3 64.3 L117.6 64.6 L117.8 64.9 L118.1 65.2 L118.3 65.5 L118.6 65.8 L118.8 66.1 L119.1 66.4 L119.3 66.8 L119.6 67.1 L119.8 67.4 L120.1 67.7 L120.3 68.0 L120.6 68.3 L120.8 68.5 L121.1 68.8 L121.3 69.1 L121.6 69.3 L121.8 69.6 L122.1 69.8 L122.3 70.1 L122.6 70.3 L122.8 70.6 L123.1 70.8 L123.3 71.0 L123.6 71.3 L123.8 71.5 L124.1 71.7 L124.3 71.9 L124.6 72.2 L124.8 72.4 L125.1 72.6 L125.3 72.8 L125.6 73.0 L125.8 73.2 L126.1 73.4 L126.3 73.5 L126.6 73.7 L126.8 73.9 L127.1 74.1 L127.3 74.2 L127.6 74.4 L127.8 74.6 L128.1 74.8 L128.3 74.9 L128.6 75.1 L128.8 75.2 L129.1 75.4 L129.3 75.6 L129.6 75.7 L129.8 75.9 L130.6 76.3 L131.6 76.8 L132.6 77.3 L133.6 77.6 L134.6 78.0 L135.6 78.3 L136.6 78.6 L137.6 78.9 L138.6 79.1 L139.6 79.3 L140.6 79.3 L141.6 79.4 L142.6 79.5 L143.6 79.5 L144.6 79.6 L145.6 79.6 L146.6 79.6 L147.6 79.5 L148.6 79.4 L149.6 79.2 L150.6 78.9 L151.6 78.6 L152.6 78.4 L153.6 78.1 L154.6 77.8 L155.6 77.6 L156.6 77.4 L157.6 77.2 L158.6 77.0 L159.6 76.8 L160.6 76.6 L161.6 76.4 L162.6 76.2 L163.6 76.0 L164.6 75.8 L165.6 75.6 L166.6 75.4 L167.6 75.2 L168.6 75.1 L169.6 74.9 L170.6 74.7 L171.6 74.5 L172.6 74.3 L173.6 74.1 L174.6 73.9 L175.6 73.8 L176.6 73.6 L177.6 73.4 L178.6 73.2 L179.6 73.1 L180.6 72.9 L181.6 72.7 L182.6 72.5 L183.6 72.4 L184.6 72.2 L185.6 72.1 L186.6 71.9 L187.6 71.7 L188.6 71.6 L189.6 71.4 L190.6 71.3 L191.6 71.1 L192.6 71.0 L193.6 70.8 L194.6 70.7 L195.6 70.5 L196.6 70.4 L197.6 70.2 L198.6 70.1 L199.6 69.9 L200.6 69.8 L201.6 69.7 L202.6 69.5 L203.6 69.4 L204.6 69.3 L205.6 69.1 L206.6 69.0 L207.6 68.9 L208.6 68.8 L209.6 68.6 L210.6 68.5 L211.6 68.4 L212.6 68.3 L213.6 68.2 L214.6 68.0 L215.6 67.9 L216.6 67.8 L217.6 67.7 L218.6 67.6 L219.6 67.5 L220.6 67.4 L221.6 67.3 L222.6 67.2 L223.6 67.1 L224.6 67.0 L225.6 66.9 L226.6 66.8 L227.6 66.7 L228.6 66.6 L229.6 66.5 L230.6 66.4 L231.6 66.3 L232.6 66.2 L233.6 66.1 L234.6 66.1 L235.6 66.0 L236.6 65.9 L237.6 65.8 L238.6 65.7 L239.6 65.6 L240.6 65.6 L241.6 65.5 L242.6 65.4 L243.6 65.3 L244.6 65.3 L245.6 65.2 L246.6 65.1 L247.6 65.1 L248.6 65.0 L249.6 64.9 L250.6 64.9 L251.6 64.8 L252.6 64.8 L253.6 64.7 L254.6 64.6 L255.6 64.6 L256.6 64.5 L257.6 64.5 L258.6 64.4 L259.6 64.4 L260.6 64.3 L261.6 64.3 L262.6 64.2 L263.6 64.2 L264.6 64.1 L265.6 64.1 L266.6 64.1 L267.6 64.0 L268.6 64.0 L269.6 63.9 L270.6 63.9 L271.6 63.9 L272.6 63.8 L273.6 63.8 L274.6 63.8 L275.6 63.7 L276.6 63.7 L277.6 63.7 L278.6 63.7 L279.6 63.6 L280.6 63.6 L281.6 63.6 L282.6 63.6 L283.6 63.5 L284.6 63.5 L285.6 63.5 L286.6 63.5 L287.6 63.5 L288.6 63.4 L289.6 63.4 L290.6 63.4 L291.6 63.4 L292.6 63.4 L293.6 63.4 L294.6 63.4 L295.6 63.4 L296.6 63.4 L297.6 63.3 L298.6 63.3 L299.6 63.3 L300.6 63.3 L301.6 63.3 L302.6 63.3 L303.6 63.3 L304.6 63.3 L305.6 63.3 L306.6 63.3 L307.6 63.3 L308.6 63.3 L309.6 63.3 L310.6 63.3 L311.6 63.3 L312.6 63.4 L313.6 63.4 L314.6 63.4 L315.6 63.4 L316.6 63.4 L317.6 63.4 L318.6 63.4 L319.6 63.4 L320.6 63.4 L321.6 63.4 L322.6 63.5 L323.6 63.5 L324.6 63.5 L325.6 63.5 L326.6 63.5 L327.6 63.5 L328.6 63.5 L329.6 63.6 L330.6 63.6 L331.6 63.6 L332.6 63.6 L333.6 63.6 L334.6 63.7 L335.6 63.7 L336.6 63.7 L337.6 63.7 L338.6 63.7 L339.6 63.8 L340.6 63.8 L341.6 63.8 L342.6 63.8 L343.6 63.9 L344.6 63.9 L345.6 63.9 L346.6 63.9 L347.6 64.0 L348.6 64.0 L349.6 64.0 L350.6 64.1 L351.6 64.1 L352.6 64.1 L353.6 64.1 L354.6 64.2 L355.6 64.2 L356.6 64.2 L357.6 64.3 L358.6 64.3 L359.6 64.3 L360.6 64.3 L361.6 64.4 L362.6 64.4 L363.6 64.4 L364.6 64.5 L365.6 64.5 L366.6 64.5 L367.6 64.6 L368.6 64.6 L369.6 64.6 L370.6 64.6 L371.6 64.7 L372.6 64.7 L373.6 64.7 L374.6 64.8 L375.6 64.8 L376.6 64.8 L377.6 64.9 L378.6 64.9 L379.6 64.9 L380.6 65.0 L381.6 65.0 L382.6 65.0 L383.6 65.1 L384.6 65.1 L385.6 65.1 L386.6 65.2 L387.6 65.2 L388.6 65.2 L389.6 65.3 L390.6 65.3 L391.6 65.3 L392.6 65.3 L393.6 65.4 L394.6 65.4 L395.6 65.4 L396.6 65.5 L397.6 65.5 L398.6 65.5 L399.6 65.6 L400.6 65.6 L401.6 65.6 L402.6 65.6 L403.6 65.7 L404.6 65.7 L405.6 65.7 L406.6 65.8 L407.6 65.8 L408.6 65.8 L409.6 65.8 L410.6 65.9 L411.6 65.9 L412.6 65.9 L413.6 65.9 L414.6 66.0 L415.6 66.0 L416.6 66.0 L417.6 66.0 L418.6 66.1 L419.6 66.1 L420.6 66.1 L421.6 66.1 L422.6 66.2 L423.6 66.2 L424.6 66.2 L425.6 66.2 L426.6 66.2 L427.6 66.3 L428.6 66.3 L429.6 66.3 L430.6 66.3 L431.6 66.3 L432.6 66.3 L433.6 66.4 L434.6 66.4 L435.6 66.4 L436.6 66.4 L437.6 66.4 L438.6 66.4 L439.6 66.4 L440.6 66.4 L441.6 66.5 L442.6 66.5 L443.6 66.5 L444.6 66.5 L445.6 66.5 L446.6 66.5 L447.6 66.5 L448.6 66.5 L449.6 66.5 L450.6 66.5 L451.6 66.5 L452.6 66.5 L453.6 66.6 L454.6 66.6 L455.6 66.6 L456.6 66.6 L457.6 66.6 L458.6 66.6 L459.6 66.6 L460.6 66.6 L461.6 66.6 L462.6 66.6 L463.6 66.6 L464.6 66.6 L465.6 66.6 L466.6 66.6 L467.6 66.6 L468.6 66.6 L469.6 66.6 L470.6 66.6 L471.6 66.6 L472.6 66.6 L473.6 66.6 L474.6 66.6 L475.6 66.6 L476.6 66.6 L477.6 66.6 L478.6 66.6 L479.6 66.6 L480.6 66.6 L481.6 66.6 L482.6 66.6 L483.6 66.6 L484.6 66.6 L485.6 66.6 L486.6 66.6 L487.6 66.6 L488.6 66.6 L489.6 66.6 L490.6 66.6 L491.6 66.6 L492.6 66.6 L493.6 66.6 L494.6 66.6 L495.6 66.6 L496.6 66.6 L497.6 66.6 L498.6 66.6 L499.6 66.6 L500.6 66.6 L501.6 66.5 L502.6 66.5 L503.6 66.5 L504.6 66.5 L505.6 66.5 L506.6 66.5 L507.6 66.5 L508.6 66.5 L509.6 66.5 L510.6 66.5 L511.6 66.5 L512.6 66.5 L513.6 66.5 L514.6 66.5 L515.6 66.5 L516.6 66.5 L517.6 66.5 L518.6 66.5 L519.6 66.5 L520.6 66.5 L521.6 66.5 L522.6 66.5 L523.6 66.5 L524.6 66.5 L525.6 66.5 L526.6 66.5 L527.6 66.5 L528.6 66.5 L529.6 66.5 L530.6 66.5 L531.6 66.5 L532.6 66.5 L533.6 66.6 L534.6 66.6 L535.6 66.6 L536.6 66.6 L537.6 66.6 L538.6 66.6 L539.6 66.6 L540.6 66.6 L541.6 66.6 L542.6 66.6 L543.6 66.6 L544.6 66.6 L545.6 66.6 L546.6 66.6 L547.6 66.6 L548.6 66.7 L549.6 66.7 L550.6 66.7 L551.6 66.7 L552.6 66.7 L552.6 75.3 L552.0 75.3 L551.0 75.3 L550.0 75.3 L549.0 75.3 L548.0 75.3 L547.0 75.3 L546.0 75.2 L545.0 75.2 L544.0 75.2 L543.0 75.2 L542.0 75.2 L541.0 75.2 L540.0 75.1 L539.0 75.1 L538.0 75.1 L537.0 75.1 L536.0 75.1 L535.0 75.0 L534.0 75.0 L533.0 75.0 L532.0 75.0 L531.0 75.0 L530.0 74.9 L529.0 74.9 L528.0 74.9 L527.0 74.9 L526.0 74.9 L525.0 74.8 L524.0 74.8 L523.0 74.8 L522.0 74.8 L521.0 74.7 L520.0 74.7 L519.0 74.7 L518.0 74.7 L517.0 74.6 L516.0 74.6 L515.0 74.6 L514.0 74.6 L513.0 74.5 L512.0 74.5 L511.0 74.5 L510.0 74.4 L509.0 74.4 L508.0 74.4 L507.0 74.4 L506.0 74.3 L505.0 74.3 L504.0 74.3 L503.0 74.3 L502.0 74.2 L501.0 74.2 L500.0 74.2 L499.0 74.1 L498.0 74.1 L497.0 74.1 L496.0 74.0 L495.0 74.0 L494.0 74.0 L493.0 74.0 L492.0 73.9 L491.0 73.9 L490.0 73.9 L489.0 73.8 L488.0 73.8 L487.0 73.8 L486.0 73.7 L485.0 73.7 L484.0 73.7 L483.0 73.6 L482.0 73.6 L481.0 73.6 L480.0 73.6 L479.0 73.5 L478.0 73.5 L477.0 73.5 L476.0 73.4 L475.0 73.4 L474.0 73.4 L473.0 73.3 L472.0 73.3 L471.0 73.3 L470.0 73.2 L469.0 73.2 L468.0 73.2 L467.0 73.1 L466.0 73.1 L465.0 73.1 L464.0 73.0 L463.0 73.0 L462.0 73.0 L461.0 72.9 L460.0 72.9 L459.0 72.9 L458.0 72.8 L457.0 72.8 L456.0 72.8 L455.0 72.8 L454.0 72.7 L453.0 72.7 L452.0 72.7 L451.0 72.6 L450.0 72.6 L449.0 72.6 L448.0 72.5 L447.0 72.5 L446.0 72.5 L445.0 72.4 L444.0 72.4 L443.0 72.4 L442.0 72.3 L441.0 72.3 L440.0 72.3 L439.0 72.3 L438.0 72.2 L437.0 72.2 L436.0 72.2 L435.0 72.1 L434.0 72.1 L433.0 72.1 L432.0 72.1 L431.0 72.0 L430.0 72.0 L429.0 72.0 L428.0 71.9 L427.0 71.9 L426.0 71.9 L425.0 71.9 L424.0 71.8 L423.0 71.8 L422.0 71.8 L421.0 71.7 L420.0 71.7 L419.0 71.7 L418.0 71.7 L417.0 71.6 L416.0 71.6 L415.0 71.6 L414.0 71.6 L413.0 71.5 L412.0 71.5 L411.0 71.5 L410.0 71.5 L409.0 71.5 L408.0 71.4 L407.0 71.4 L406.0 71.4 L405.0 71.4 L404.0 71.3 L403.0 71.3 L402.0 71.3 L401.0 71.3 L400.0 71.3 L399.0 71.2 L398.0 71.2 L397.0 71.2 L396.0 71.2 L395.0 71.2 L394.0 71.1 L393.0 71.1 L392.0 71.1 L391.0 71.1 L390.0 71.1 L389.0 71.1 L388.0 71.1 L387.0 71.0 L386.0 71.0 L385.0 71.0 L384.0 71.0 L383.0 71.0 L382.0 71.0 L381.0 71.0 L380.0 70.9 L379.0 70.9 L378.0 70.9 L377.0 70.9 L376.0 70.9 L375.0 70.9 L374.0 70.9 L373.0 70.9 L372.0 70.9 L371.0 70.9 L370.0 70.9 L369.0 70.8 L368.0 70.8 L367.0 70.8 L366.0 70.8 L365.0 70.8 L364.0 70.8 L363.0 70.8 L362.0 70.8 L361.0 70.8 L360.0 70.8 L359.0 70.8 L358.0 70.8 L357.0 70.8 L356.0 70.8 L355.0 70.8 L354.0 70.8 L353.0 70.8 L352.0 70.8 L351.0 70.8 L350.0 70.8 L349.0 70.8 L348.0 70.8 L347.0 70.9 L346.0 70.9 L345.0 70.9 L344.0 70.9 L343.0 70.9 L342.0 70.9 L341.0 70.9 L340.0 70.9 L339.0 70.9 L338.0 70.9 L337.0 71.0 L336.0 71.0 L335.0 71.0 L334.0 71.0 L333.0 71.0 L332.0 71.0 L331.0 71.0 L330.0 71.1 L329.0 71.1 L328.0 71.1 L327.0 71.1 L326.0 71.1 L325.0 71.2 L324.0 71.2 L323.0 71.2 L322.0 71.2 L321.0 71.3 L320.0 71.3 L319.0 71.3 L318.0 71.3 L317.0 71.4 L316.0 71.4 L315.0 71.4 L314.0 71.5 L313.0 71.5 L312.0 71.5 L311.0 71.6 L310.0 71.6 L309.0 71.6 L308.0 71.7 L307.0 71.7 L306.0 71.7 L305.0 71.8 L304.0 71.8 L303.0 71.9 L302.0 71.9 L301.0 71.9 L300.0 72.0 L299.0 72.0 L298.0 72.1 L297.0 72.1 L296.0 72.2 L295.0 72.2 L294.0 72.3 L293.0 72.3 L292.0 72.4 L291.0 72.4 L290.0 72.5 L289.0 72.5 L288.0 72.6 L287.0 72.6 L286.0 72.7 L285.0 72.7 L284.0 72.8 L283.0 72.8 L282.0 72.9 L281.0 73.0 L280.0 73.0 L279.0 73.1 L278.0 73.2 L277.0 73.2 L276.0 73.3 L275.0 73.4 L274.0 73.4 L273.0 73.5 L272.0 73.6 L271.0 73.6 L270.0 73.7 L269.0 73.8 L268.0 73.8 L267.0 73.9 L266.0 74.0 L265.0 74.1 L264.0 74.2 L263.0 74.2 L262.0 74.3 L261.0 74.4 L260.0 74.5 L259.0 74.6 L258.0 74.7 L257.0 74.7 L256.0 74.8 L255.0 74.9 L254.0 75.0 L253.0 75.1 L252.0 75.2 L251.0 75.3 L250.0 75.4 L249.0 75.5 L248.0 75.6 L247.0 75.7 L246.0 75.8 L245.0 75.9 L244.0 76.0 L243.0 76.2 L242.0 76.3 L241.0 76.4 L240.0 76.5 L239.0 76.6 L238.0 76.7 L237.0 76.9 L236.0 77.0 L235.0 77.1 L234.0 77.3 L233.0 77.4 L232.0 77.5 L231.0 77.7 L230.0 77.8 L229.0 77.9 L228.0 78.1 L227.0 78.2 L226.0 78.4 L225.0 78.5 L224.0 78.7 L223.0 78.8 L222.0 79.0 L221.0 79.2 L220.0 79.3 L219.0 79.5 L218.0 79.7 L217.0 79.8 L216.0 80.0 L215.0 80.2 L214.0 80.4 L213.0 80.6 L212.0 80.8 L211.0 80.9 L210.0 81.1 L209.0 81.3 L208.0 81.5 L207.0 81.7 L206.0 82.0 L205.0 82.2 L204.0 82.4 L203.0 82.6 L202.0 82.8 L201.0 83.0 L200.0 83.3 L199.0 83.5 L198.0 83.7 L197.0 84.0 L196.0 84.2 L195.0 84.4 L194.0 84.7 L193.0 84.9 L192.0 85.2 L191.0 85.4 L190.0 85.7 L189.0 86.0 L188.0 86.2 L187.0 86.5 L186.0 86.8 L185.0 87.1 L184.0 87.4 L183.0 87.6 L182.0 87.9 L181.0 88.2 L180.0 88.5 L179.0 88.8 L178.0 89.1 L177.0 89.5 L176.0 89.8 L175.0 90.1 L174.0 90.4 L173.0 90.7 L172.0 91.1 L171.0 91.4 L170.0 91.8 L169.0 92.1 L168.0 92.5 L167.0 92.8 L166.0 93.2 L165.0 93.5 L164.0 93.9 L163.0 94.3 L162.0 94.7 L161.0 95.0 L160.0 95.4 L159.0 95.8 L158.0 96.2 L157.0 96.6 L156.0 97.0 L155.0 97.4 L154.0 97.9 L153.0 98.3 L152.0 98.8 L151.0 99.2 L150.0 99.7 L149.0 100.2 L148.0 100.7 L147.0 101.3 L146.0 101.8 L145.0 102.4 L144.0 102.9 L143.0 103.4 L142.0 103.9 L141.0 104.4 L140.0 104.9 L139.0 105.4 L138.0 105.8 L137.0 106.3 L136.0 106.9 L135.0 107.4 L134.0 107.9 L133.0 108.5 L132.0 109.1 L131.0 109.7 L130.0 110.4 L129.8 110.5 L129.5 110.7 L129.2 110.8 L129.0 111.0 L128.8 111.1 L128.5 111.3 L128.2 111.4 L128.0 111.6 L127.8 111.7 L127.5 111.9 L127.2 112.0 L127.0 112.2 L126.8 112.3 L126.5 112.4 L126.2 112.6 L126.0 112.7 L125.8 112.8 L125.5 113.0 L125.2 113.1 L125.0 113.2 L124.8 113.4 L124.5 113.5 L124.2 113.6 L124.0 113.8 L123.8 113.9 L123.5 114.1 L123.2 114.2 L123.0 114.3 L122.8 114.4 L122.5 114.6 L122.2 114.7 L122.0 114.8 L121.8 114.8 L121.5 114.9 L121.2 115.0 L121.0 115.1 L120.8 115.1 L120.5 115.1 L120.2 115.2 L120.0 115.2 L119.8 115.2 L119.5 115.2 L119.2 115.2 L119.0 115.3 L118.8 115.3 L118.5 115.3 L118.2 115.3 L118.0 115.3 L117.8 115.3 L117.5 115.3 L117.2 115.4 L117.0 115.4 L116.8 115.4 L116.5 115.4 L116.2 115.4 L116.0 115.4 L115.8 115.4 L115.5 115.4 L115.2 115.5 L115.0 115.5 L114.8 115.5 L114.5 115.5 L114.2 115.5 L114.0 115.6 L113.8 115.6 L113.5 115.6 L113.2 115.7 L113.0 115.8 L112.8 115.8 L112.5 115.9 L112.2 116.0 L112.0 116.1 L111.8 116.2 L111.5 116.3 L111.2 116.4 L111.0 116.5 L110.8 116.7 L110.5 116.8 L110.2 117.0 L110.0 117.1 L109.8 117.3 L109.5 117.4 L109.2 117.6 L109.0 117.8 L108.8 118.0 L108.5 118.2 L108.2 118.4 L108.0 118.6 L107.8 118.8 L107.5 119.0 L107.2 119.2 L107.0 119.4 L106.8 119.6 L106.5 119.9 L106.2 120.2 L106.0 120.5 L105.8 120.8 L105.5 121.1 L105.2 121.5 L105.0 121.9 L104.8 122.3 L104.5 122.7 L104.2 123.2 L104.0 123.7 L103.8 124.1 L103.5 124.6 L103.2 125.2 L103.0 125.7 L102.8 126.2 L102.5 126.8 L102.2 127.4 L102.0 128.0 L101.8 128.6 L101.5 129.3 L101.2 130.0 L101.0 130.7 L100.8 131.5 L100.5 132.3 L100.2 133.1 L100.0 134.0 L99.8 134.9 L99.5 135.9 L99.2 136.9 L99.0 137.9 L98.8 139.0 L98.5 140.1 L98.2 141.3 L98.0 142.5 L97.8 143.8 L97.5 145.1 L97.2 146.5 L97.0 148.1 L96.8 149.7 L96.5 151.4 L96.2 153.3 L96.0 155.2 L95.8 157.2 L95.5 159.4 L95.2 161.6 L95.0 164.0 L94.8 166.4 L94.5 169.0 L94.2 171.8 L94.0 174.9 L93.8 178.3 L93.5 182.1 L93.2 186.1 L93.0 190.4 L92.8 195.0 L92.5 200.2 L92.2 206.4 L92.0 213.0Z" fill="#999999"/>
<path d="M91.8 326.2 L92.0 326.2 L92.3 326.2 L92.5 326.2 L92.8 326.2 L93.0 326.2 L93.3 326.2 L93.5 326.2 L93.8 326.2 L94.0 326.2 L94.3 326.2 L94.5 326.2 L94.8 326.2 L95.0 326.2 L95.3 326.2 L95.5 326.2 L95.8 326.2 L96.0 326.3 L96.3 326.3 L96.5 326.3 L96.8 326.3 L97.0 326.3 L97.3 326.3 L97.5 326.3 L97.8 326.3 L98.0 326.3 L98.3 326.3 L98.5 326.3 L98.8 326.3 L99.0 326.3 L99.3 326.4 L99.5 326.4 L99.8 326.4 L100.0 326.4 L100.3 326.4 L100.5 326.4 L100.8 326.4 L101.0 326.4 L101.3 326.4 L101.5 326.4 L101.8 326.5 L102.0 326.5 L102.3 326.5 L102.5 326.5 L102.8 326.5 L103.0 326.5 L103.3 326.5 L103.5 326.6 L103.8 326.6 L104.0 326.6 L104.3 326.6 L104.5 326.6 L104.8 326.6 L105.0 326.6 L105.3 326.7 L105.5 326.7 L105.8 326.7 L106.0 326.7 L106.3 326.7 L106.5 326.7 L106.8 326.7 L107.0 326.8 L107.3 326.8 L107.5 326.8 L107.8 326.8 L108.0 326.8 L108.3 326.8 L108.5 326.9 L108.8 326.9 L109.0 326.9 L109.3 326.9 L109.5 327.0 L109.8 327.0 L110.0 327.0 L110.3 327.1 L110.5 327.1 L110.8 327.2 L111.0 327.2 L111.3 327.2 L111.5 327.3 L111.8 327.3 L112.0 327.4 L112.3 327.4 L112.5 327.5 L112.8 327.5 L113.0 327.6 L113.3 327.6 L113.5 327.7 L113.8 327.7 L114.0 327.8 L114.3 327.8 L114.5 327.9 L114.8 327.9 L115.0 328.0 L115.3 328.0 L115.5 328.1 L115.8 328.1 L116.0 328.2 L116.3 328.3 L116.5 328.3 L116.8 328.4 L117.0 328.4 L117.3 328.5 L117.5 328.5 L117.8 328.6 L118.0 328.7 L118.3 328.7 L118.5 328.8 L118.8 328.8 L119.0 328.9 L119.3 328.9 L119.5 329.0 L119.8 329.1 L120.0 329.1 L120.3 329.2 L120.5 329.2 L120.8 329.3 L121.0 329.4 L121.3 329.4 L121.5 329.5 L121.8 329.5 L122.0 329.6 L122.3 329.7 L122.5 329.7 L122.8 329.8 L123.0 329.9 L123.3 329.9 L123.5 330.0 L123.8 330.1 L124.0 330.1 L124.3 330.2 L124.5 330.3 L124.8 330.4 L125.0 330.4 L125.3 330.5 L125.5 330.6 L125.8 330.6 L126.0 330.7 L126.3 330.8 L126.5 330.9 L126.8 330.9 L127.0 331.0 L127.3 331.1 L127.5 331.2 L127.8 331.2 L128.1 331.3 L128.3 331.4 L128.6 331.5 L128.8 331.5 L129.1 331.6 L129.3 331.7 L129.6 331.8 L129.8 331.9 L130.8 332.2 L131.8 332.5 L132.8 332.8 L133.8 333.1 L134.8 333.4 L135.8 333.7 L136.8 334.0 L137.8 334.3 L138.8 334.6 L139.8 335.0 L140.8 335.3 L141.8 335.6 L142.8 335.9 L143.8 336.2 L144.8 336.5 L145.8 336.9 L146.8 337.2 L147.8 337.5 L148.8 337.8 L149.8 338.2 L150.8 338.5 L151.8 338.8 L152.8 339.2 L153.8 339.5 L154.8 339.9 L155.8 340.2 L156.8 340.6 L157.8 340.9 L158.8 341.3 L159.8 341.6 L160.8 342.0 L161.8 342.4 L162.8 342.7 L163.8 343.1 L164.8 343.4 L165.8 343.8 L166.8 344.1 L167.8 344.5 L168.8 344.8 L169.8 345.1 L170.8 345.5 L171.8 345.8 L172.8 346.2 L173.8 346.5 L174.8 346.8 L175.8 347.2 L176.8 347.5 L177.8 347.8 L178.8 348.1 L179.8 348.5 L180.8 348.8 L181.8 349.1 L182.8 349.4 L183.8 349.7 L184.8 350.0 L185.8 350.3 L186.8 350.6 L187.8 351.0 L188.8 351.4 L189.8 351.8 L190.8 352.2 L191.8 352.6 L192.8 353.0 L193.8 353.4 L194.8 353.8 L195.8 354.2 L196.8 354.6 L197.8 355.0 L198.8 355.4 L199.8 355.8 L200.8 356.3 L201.8 356.7 L202.8 357.1 L203.8 357.5 L204.8 357.9 L205.8 358.4 L206.8 358.8 L207.8 359.2 L208.8 359.6 L209.8 360.1 L210.8 360.5 L211.8 360.9 L212.8 361.4 L213.8 361.8 L214.8 362.2 L215.8 362.6 L216.8 363.1 L217.8 363.5 L218.8 363.9 L219.8 364.4 L220.8 364.8 L221.8 365.2 L222.8 365.6 L223.8 366.1 L224.8 366.5 L225.8 366.9 L226.8 367.3 L227.8 367.8 L228.8 368.2 L229.8 368.6 L230.8 369.0 L231.8 369.4 L232.8 369.9 L233.8 370.3 L234.8 370.7 L235.8 371.1 L236.8 371.5 L237.8 371.9 L238.8 372.3 L239.8 372.7 L240.8 373.1 L241.8 373.5 L242.8 373.9 L243.8 374.3 L244.8 374.7 L245.8 375.1 L246.8 375.5 L247.8 375.9 L248.8 376.3 L249.8 376.7 L250.8 377.0 L251.8 377.4 L252.8 377.8 L253.8 378.2 L254.8 378.6 L255.8 379.0 L256.8 379.3 L257.8 379.7 L258.8 380.1 L259.8 380.4 L260.8 380.8 L261.8 381.2 L262.8 381.6 L263.8 381.9 L264.8 382.3 L265.8 382.6 L266.8 383.0 L267.8 383.4 L268.8 383.7 L269.8 384.1 L270.8 384.4 L271.8 384.8 L272.8 385.1 L273.8 385.5 L274.8 385.8 L275.8 386.2 L276.8 386.5 L277.8 386.8 L278.8 387.2 L279.8 387.5 L280.8 387.9 L281.8 388.2 L282.8 388.5 L283.8 388.9 L284.8 389.2 L285.8 389.5 L286.8 389.8 L287.8 390.2 L288.8 390.5 L289.8 390.8 L290.8 391.1 L291.8 391.5 L292.8 391.8 L293.8 392.1 L294.8 392.4 L295.8 392.7 L296.8 393.0 L297.8 393.3 L298.8 393.6 L299.8 393.9 L300.8 394.2 L301.8 394.5 L302.8 394.8 L303.8 395.1 L304.8 395.4 L305.8 395.7 L306.8 396.0 L307.8 396.3 L308.8 396.6 L309.8 396.9 L310.8 397.2 L311.8 397.5 L312.8 397.8 L313.8 398.0 L314.8 398.3 L315.8 398.6 L316.8 398.9 L317.8 399.2 L318.8 399.4 L319.8 399.7 L320.8 400.0 L321.8 400.3 L322.8 400.5 L323.8 400.8 L324.8 401.1 L325.8 401.4 L326.8 401.6 L327.8 401.9 L328.8 402.2 L329.8 402.4 L330.8 402.7 L331.8 403.0 L332.8 403.2 L333.8 403.5 L334.8 403.7 L335.8 404.0 L336.8 404.3 L337.8 404.5 L338.8 404.8 L339.8 405.0 L340.8 405.3 L341.8 405.5 L342.8 405.8 L343.8 406.0 L344.8 406.3 L345.8 406.6 L346.8 406.8 L347.8 407.1 L348.8 407.3 L349.8 407.5 L350.8 407.8 L351.8 408.0 L352.8 408.3 L353.8 408.5 L354.8 408.8 L355.8 409.0 L356.8 409.3 L357.8 409.5 L358.8 409.8 L359.8 410.0 L360.8 410.2 L361.8 410.5 L362.8 410.7 L363.8 411.0 L364.8 411.2 L365.8 411.5 L366.8 411.7 L367.8 411.9 L368.8 412.2 L369.8 412.4 L370.8 412.7 L371.8 412.9 L372.8 413.1 L373.8 413.4 L374.8 413.6 L375.8 413.8 L376.8 414.1 L377.8 414.3 L378.8 414.6 L379.8 414.8 L380.8 415.0 L381.8 415.3 L382.8 415.5 L383.8 415.7 L384.8 416.0 L385.8 416.2 L386.8 416.5 L387.8 416.7 L388.8 416.9 L389.8 417.2 L390.8 417.4 L391.8 417.6 L392.8 417.9 L393.8 418.1 L394.8 418.3 L395.8 418.6 L396.8 418.8 L397.8 419.0 L398.8 419.3 L399.8 419.5 L400.8 419.7 L401.8 420.0 L402.8 420.2 L403.8 420.4 L404.8 420.7 L405.8 420.9 L406.8 421.1 L407.8 421.4 L408.8 421.6 L409.8 421.8 L410.8 422.1 L411.8 422.3 L412.8 422.5 L413.8 422.7 L414.8 423.0 L415.8 423.2 L416.8 423.4 L417.8 423.7 L418.8 423.9 L419.8 424.1 L420.8 424.3 L421.8 424.6 L422.8 424.8 L423.8 425.0 L424.8 425.2 L425.8 425.4 L426.8 425.7 L427.8 425.9 L428.8 426.1 L429.8 426.3 L430.8 426.5 L431.8 426.8 L432.8 427.0 L433.8 427.2 L434.8 427.4 L435.8 427.6 L436.8 427.8 L437.8 428.0 L438.8 428.3 L439.8 428.5 L440.8 428.7 L441.8 428.9 L442.8 429.1 L443.8 429.3 L444.8 429.5 L445.8 429.7 L446.8 429.9 L447.8 430.1 L448.8 430.3 L449.8 430.5 L450.8 430.7 L451.8 430.9 L452.8 431.1 L453.8 431.3 L454.8 431.5 L455.8 431.7 L456.8 431.9 L457.8 432.1 L458.8 432.3 L459.8 432.5 L460.8 432.7 L461.8 432.9 L462.8 433.1 L463.8 433.3 L464.8 433.4 L465.8 433.6 L466.8 433.8 L467.8 434.0 L468.8 434.2 L469.8 434.4 L470.8 434.5 L471.8 434.7 L472.8 434.9 L473.8 435.1 L474.8 435.2 L475.8 435.4 L476.8 435.6 L477.8 435.8 L478.8 435.9 L479.8 436.1 L480.8 436.3 L481.8 436.4 L482.8 436.6 L483.8 436.8 L484.8 436.9 L485.8 437.1 L486.8 437.2 L487.8 437.4 L488.8 437.5 L489.8 437.7 L490.8 437.9 L491.8 438.0 L492.8 438.2 L493.8 438.3 L494.8 438.5 L495.8 438.6 L496.8 438.7 L497.8 438.9 L498.8 439.0 L499.8 439.2 L500.8 439.3 L501.8 439.4 L502.8 439.6 L503.8 439.7 L504.8 439.8 L505.8 440.0 L506.8 440.1 L507.8 440.2 L508.8 440.4 L509.8 440.5 L510.8 440.6 L511.8 440.7 L512.8 440.8 L513.8 441.0 L514.8 441.1 L515.8 441.2 L516.8 441.3 L517.8 441.4 L518.8 441.6 L519.8 441.7 L520.8 441.8 L521.8 441.9 L522.8 442.0 L523.8 442.1 L524.8 442.2 L525.8 442.4 L526.8 442.5 L527.8 442.6 L528.8 442.7 L529.8 442.8 L530.8 442.9 L531.8 443.0 L532.8 443.1 L533.8 443.2 L534.8 443.3 L535.8 443.4 L536.8 443.6 L537.8 443.7 L538.8 443.8 L539.8 443.9 L540.8 444.0 L541.8 444.1 L542.8 444.2 L543.8 444.3 L544.8 444.4 L545.8 444.5 L546.8 444.6 L547.8 444.7 L548.8 444.8 L549.8 445.0 L550.8 445.1 L551.8 445.2 L552.6 445.3 L552.6 490.3 L551.8 490.2 L550.8 490.2 L549.8 490.1 L548.8 490.1 L547.8 490.0 L546.8 489.9 L545.8 489.9 L544.8 489.8 L543.8 489.8 L542.8 489.7 L541.8 489.6 L540.8 489.6 L539.8 489.5 L538.8 489.5 L537.8 489.4 L536.8 489.3 L535.8 489.3 L534.8 489.2 L533.8 489.2 L532.8 489.1 L531.8 489.0 L530.8 489.0 L529.8 488.9 L528.8 488.9 L527.8 488.8 L526.8 488.7 L525.8 488.7 L524.8 488.6 L523.8 488.6 L522.8 488.5 L521.8 488.4 L520.8 488.4 L519.8 488.3 L518.8 488.3 L517.8 488.2 L516.8 488.1 L515.8 488.1 L514.8 488.0 L513.8 488.0 L512.8 487.9 L511.8 487.8 L510.8 487.8 L509.8 487.7 L508.8 487.6 L507.8 487.6 L506.8 487.5 L505.8 487.5 L504.8 487.4 L503.8 487.3 L502.8 487.3 L501.8 487.2 L500.8 487.2 L499.8 487.1 L498.8 487.0 L497.8 487.0 L496.8 486.9 L495.8 486.8 L494.8 486.8 L493.8 486.7 L492.8 486.6 L491.8 486.6 L490.8 486.5 L489.8 486.5 L488.8 486.4 L487.8 486.3 L486.8 486.3 L485.8 486.2 L484.8 486.1 L483.8 486.1 L482.8 486.0 L481.8 485.9 L480.8 485.9 L479.8 485.8 L478.8 485.7 L477.8 485.7 L476.8 485.6 L475.8 485.5 L474.8 485.5 L473.8 485.4 L472.8 485.3 L471.8 485.3 L470.8 485.2 L469.8 485.1 L468.8 485.1 L467.8 485.0 L466.8 484.9 L465.8 484.9 L464.8 484.8 L463.8 484.7 L462.8 484.6 L461.8 484.6 L460.8 484.5 L459.8 484.4 L458.8 484.4 L457.8 484.3 L456.8 484.2 L455.8 484.1 L454.8 484.1 L453.8 484.0 L452.8 483.9 L451.8 483.9 L450.8 483.8 L449.8 483.7 L448.8 483.6 L447.8 483.6 L446.8 483.5 L445.8 483.4 L444.8 483.3 L443.8 483.3 L442.8 483.2 L441.8 483.1 L440.8 483.0 L439.8 483.0 L438.8 482.9 L437.8 482.8 L436.8 482.7 L435.8 482.7 L434.8 482.6 L433.8 482.5 L432.8 482.4 L431.8 482.3 L430.8 482.3 L429.8 482.2 L428.8 482.1 L427.8 482.0 L426.8 481.9 L425.8 481.9 L424.8 481.8 L423.8 481.7 L422.8 481.6 L421.8 481.5 L420.8 481.5 L419.8 481.4 L418.8 481.3 L417.8 481.2 L416.8 481.1 L415.8 481.0 L414.8 480.9 L413.8 480.9 L412.8 480.8 L411.8 480.7 L410.8 480.6 L409.8 480.5 L408.8 480.4 L407.8 480.3 L406.8 480.3 L405.8 480.2 L404.8 480.1 L403.8 480.0 L402.8 479.9 L401.8 479.8 L400.8 479.7 L399.8 479.6 L398.8 479.5 L397.8 479.4 L396.8 479.4 L395.8 479.3 L394.8 479.2 L393.8 479.1 L392.8 479.0 L391.8 478.9 L390.8 478.8 L389.8 478.7 L388.8 478.6 L387.8 478.5 L386.8 478.4 L385.8 478.3 L384.8 478.2 L383.8 478.1 L382.8 478.0 L381.8 477.9 L380.8 477.8 L379.8 477.7 L378.8 477.6 L377.8 477.5 L376.8 477.4 L375.8 477.3 L374.8 477.2 L373.8 477.1 L372.8 477.0 L371.8 476.9 L370.8 476.8 L369.8 476.7 L368.8 476.6 L367.8 476.5 L366.8 476.4 L365.8 476.3 L364.8 476.2 L363.8 476.0 L362.8 475.9 L361.8 475.8 L360.8 475.7 L359.8 475.6 L358.8 475.5 L357.8 475.4 L356.8 475.3 L355.8 475.2 L354.8 475.0 L353.8 474.9 L352.8 474.8 L351.8 474.7 L350.8 474.6 L349.8 474.5 L348.8 474.4 L347.8 474.2 L346.8 474.1 L345.8 474.0 L344.8 473.9 L343.8 473.8 L342.8 473.6 L341.8 473.5 L340.8 473.4 L339.8 473.3 L338.8 473.2 L337.8 473.0 L336.8 472.9 L335.8 472.8 L334.8 472.7 L333.8 472.5 L332.8 472.4 L331.8 472.3 L330.8 472.2 L329.8 472.0 L328.8 471.9 L327.8 471.8 L326.8 471.6 L325.8 471.5 L324.8 471.4 L323.8 471.2 L322.8 471.1 L321.8 471.0 L320.8 470.8 L319.8 470.7 L318.8 470.6 L317.8 470.4 L316.8 470.3 L315.8 470.2 L314.8 470.0 L313.8 469.9 L312.8 469.8 L311.8 469.6 L310.8 469.5 L309.8 469.3 L308.8 469.2 L307.8 469.0 L306.8 468.9 L305.8 468.8 L304.8 468.6 L303.8 468.5 L302.8 468.3 L301.8 468.2 L300.8 468.0 L299.8 467.9 L298.8 467.7 L297.8 467.6 L296.8 467.4 L295.8 467.3 L294.8 467.1 L293.8 467.0 L292.8 466.8 L291.8 466.7 L290.8 466.5 L289.8 466.4 L288.8 466.2 L287.8 466.0 L286.8 465.9 L285.8 465.7 L284.8 465.6 L283.8 465.4 L282.8 465.3 L281.8 465.1 L280.8 464.9 L279.8 464.8 L278.8 464.6 L277.8 464.4 L276.8 464.3 L275.8 464.1 L274.8 463.9 L273.8 463.8 L272.8 463.6 L271.8 463.4 L270.8 463.3 L269.8 463.1 L268.8 462.9 L267.8 462.7 L266.8 462.6 L265.8 462.4 L264.8 462.2 L263.8 462.1 L262.8 461.9 L261.8 461.7 L260.8 461.5 L259.8 461.3 L258.8 461.2 L257.8 461.0 L256.8 460.8 L255.8 460.6 L254.8 460.4 L253.8 460.2 L252.8 460.1 L251.8 459.9 L250.8 459.7 L249.8 459.5 L248.8 459.3 L247.8 459.1 L246.8 458.9 L245.8 458.7 L244.8 458.6 L243.8 458.4 L242.8 458.2 L241.8 458.0 L240.8 457.8 L239.8 457.6 L238.8 457.4 L237.8 457.2 L236.8 457.0 L235.8 456.8 L234.8 456.6 L233.8 456.4 L232.8 456.2 L231.8 456.0 L230.8 455.8 L229.8 455.6 L228.8 455.4 L227.8 455.2 L226.8 454.9 L225.8 454.7 L224.8 454.5 L223.8 454.3 L222.8 454.1 L221.8 453.9 L220.8 453.7 L219.8 453.5 L218.8 453.2 L217.8 453.0 L216.8 452.8 L215.8 452.6 L214.8 452.4 L213.8 452.2 L212.8 451.9 L211.8 451.7 L210.8 451.5 L209.8 451.3 L208.8 451.0 L207.8 450.8 L206.8 450.6 L205.8 450.4 L204.8 450.1 L203.8 449.9 L202.8 449.7 L201.8 449.4 L200.8 449.2 L199.8 449.0 L198.8 448.7 L197.8 448.5 L196.8 448.3 L195.8 448.0 L194.8 447.8 L193.8 447.5 L192.8 447.3 L191.8 447.1 L190.8 447.1 L189.8 447.1 L188.8 447.1 L187.8 447.1 L186.8 447.0 L185.8 446.8 L184.8 446.6 L183.8 446.3 L182.8 445.9 L181.8 445.6 L180.8 445.2 L179.8 444.8 L178.8 444.5 L177.8 444.3 L176.8 444.0 L175.8 443.8 L174.8 443.5 L173.8 443.2 L172.8 443.0 L171.8 442.7 L170.8 442.5 L169.8 442.2 L168.8 442.0 L167.8 441.8 L166.8 441.5 L165.8 441.3 L164.8 441.1 L163.8 440.9 L162.8 440.7 L161.8 440.5 L160.8 440.3 L159.8 440.1 L158.8 439.8 L157.8 439.5 L156.8 439.2 L155.8 438.9 L154.8 438.5 L153.8 438.0 L152.8 437.5 L151.8 437.0 L150.8 436.6 L149.8 436.1 L148.8 435.6 L147.8 435.0 L146.8 434.5 L145.8 433.8 L144.8 433.1 L143.8 432.3 L142.8 431.3 L141.8 430.2 L140.8 429.0 L139.8 427.7 L138.8 426.5 L137.8 425.3 L136.8 424.1 L135.8 422.8 L134.8 421.4 L133.8 420.0 L132.8 418.6 L131.8 417.0 L130.8 415.3 L129.8 413.6 L129.6 413.1 L129.3 412.7 L129.1 412.2 L128.8 411.7 L128.6 411.3 L128.3 410.8 L128.1 410.3 L127.8 409.8 L127.5 409.3 L127.3 408.8 L127.0 408.3 L126.8 407.8 L126.5 407.3 L126.3 406.8 L126.0 406.3 L125.8 405.8 L125.5 405.2 L125.3 404.7 L125.0 404.1 L124.8 403.6 L124.5 403.0 L124.3 402.5 L124.0 401.9 L123.8 401.3 L123.5 400.7 L123.3 400.1 L123.0 399.5 L122.8 398.9 L122.5 398.3 L122.3 397.7 L122.0 397.1 L121.8 396.5 L121.5 395.9 L121.3 395.3 L121.0 394.7 L120.8 394.0 L120.5 393.4 L120.3 392.8 L120.0 392.2 L119.8 391.5 L119.5 390.9 L119.3 390.2 L119.0 389.6 L118.8 388.9 L118.5 388.2 L118.3 387.5 L118.0 386.9 L117.8 386.2 L117.5 385.5 L117.3 384.8 L117.0 384.1 L116.8 383.4 L116.5 382.7 L116.3 382.0 L116.0 381.3 L115.8 380.6 L115.5 380.0 L115.3 379.3 L115.0 378.7 L114.8 378.0 L114.5 377.4 L114.3 376.8 L114.0 376.2 L113.8 375.6 L113.5 375.0 L113.3 374.4 L113.0 373.8 L112.8 373.2 L112.5 372.7 L112.3 372.1 L112.0 371.5 L111.8 371.0 L111.5 370.4 L111.3 369.9 L111.0 369.4 L110.8 368.8 L110.5 368.3 L110.3 367.8 L110.0 367.3 L109.8 366.8 L109.5 366.4 L109.3 365.9 L109.0 365.4 L108.8 365.0 L108.5 364.6 L108.3 364.2 L108.0 363.8 L107.8 363.4 L107.5 363.1 L107.3 362.7 L107.0 362.3 L106.8 362.0 L106.5 361.6 L106.3 361.3 L106.0 360.9 L105.8 360.5 L105.5 360.0 L105.3 359.6 L105.0 359.1 L104.8 358.7 L104.5 358.2 L104.3 357.7 L104.0 357.2 L103.8 356.7 L103.5 356.1 L103.3 355.6 L103.0 355.1 L102.8 354.5 L102.5 354.0 L102.3 353.5 L102.0 352.9 L101.8 352.4 L101.5 351.9 L101.3 351.3 L101.0 350.8 L100.8 350.3 L100.5 349.8 L100.3 349.4 L100.0 348.9 L99.8 348.4 L99.5 348.0 L99.3 347.6 L99.0 347.1 L98.8 346.7 L98.5 346.3 L98.3 345.9 L98.0 345.5 L97.8 345.1 L97.5 344.7 L97.3 344.3 L97.0 343.9 L96.8 343.5 L96.5 343.1 L96.3 342.7 L96.0 342.3 L95.8 341.9 L95.5 341.6 L95.3 341.2 L95.0 340.8 L94.8 340.5 L94.5 340.1 L94.3 339.7 L94.0 339.4 L93.8 339.1 L93.5 338.7 L93.3 338.4 L93.0 338.1 L92.8 337.7 L92.5 337.4 L92.3 337.1 L92.0 336.8 L91.8 336.5Z" fill="#66ccff"/>
<path d="M92.0 150.3 L92.2 146.7 L92.5 142.9 L92.8 139.2 L93.0 135.3 L93.2 131.2 L93.5 126.9 L93.8 122.7 L94.0 119.2 L94.2 116.3 L94.5 113.7 L94.8 111.4 L95.0 109.1 L95.2 106.8 L95.5 104.4 L95.8 101.9 L96.0 99.3 L96.2 96.8 L96.5 94.4 L96.8 92.0 L97.0 89.8 L97.2 87.6 L97.5 85.5 L97.8 83.5 L98.0 81.5 L98.2 79.6 L98.5 77.8 L98.8 76.1 L99.0 74.3 L99.2 72.6 L99.5 70.9 L99.8 69.3 L100.0 67.8 L100.2 66.5 L100.5 65.3 L100.8 64.3 L101.0 63.4 L101.2 62.6 L101.5 61.9 L101.8 61.2 L102.0 60.5 L102.2 59.9 L102.5 59.4 L102.8 58.9 L103.0 58.6 L103.2 58.2 L103.5 58.0 L103.8 57.8 L104.0 57.6 L104.2 57.4 L104.5 57.2 L104.8 57.1 L105.0 57.0 L105.2 56.8 L105.5 56.8 L105.8 56.7 L106.0 56.7 L106.2 56.7 L106.5 56.7 L106.8 56.8 L107.0 56.9 L107.2 57.0 L107.5 57.1 L107.8 57.2 L108.0 57.4 L108.2 57.5 L108.5 57.7 L108.8 57.8 L109.0 58.0 L109.2 58.2 L109.5 58.4 L109.8 58.6 L110.0 58.7 L110.2 58.9 L110.5 59.1 L110.8 59.3 L111.0 59.4 L111.2 59.6 L111.5 59.8 L111.8 60.0 L112.0 60.2 L112.2 60.4 L112.5 60.6 L112.8 60.8 L113.0 61.0 L113.2 61.2 L113.5 61.4 L113.8 61.6 L114.0 61.9 L114.2 62.1 L114.5 62.3 L114.8 62.6 L115.0 62.8 L115.2 63.0 L115.5 63.3 L115.8 63.5 L116.0 63.8 L116.2 64.0 L116.5 64.3 L116.8 64.6 L117.0 64.9 L117.2 65.2 L117.5 65.5 L117.8 65.8 L118.0 66.1 L118.2 66.4 L118.5 66.7 L118.8 67.1 L119.0 67.4 L119.2 67.7 L119.5 68.0 L119.8 68.3 L120.0 68.6 L120.2 68.8 L120.5 69.1 L120.8 69.4 L121.0 69.6 L121.2 69.9 L121.5 70.1 L121.8 70.3 L122.0 70.6 L122.2 70.8 L122.5 71.1 L122.8 71.3 L123.0 71.5 L123.2 71.7 L123.5 72.0 L123.8 72.2 L124.0 72.4 L124.2 72.6 L124.5 72.8 L124.8 73.0 L125.0 73.2 L125.2 73.4 L125.5 73.6 L125.8 73.8 L126.0 74.0 L126.2 74.2 L126.5 74.4 L126.8 74.6 L127.0 74.8 L127.2 75.0 L127.5 75.2 L127.8 75.4 L128.0 75.6 L128.2 75.8 L128.5 76.0 L128.8 76.2 L129.0 76.4 L129.2 76.5 L129.5 76.7 L129.8 76.9 L130.0 77.1 L131.0 77.8 L132.0 78.4 L133.0 79.0 L134.0 79.6 L135.0 80.2 L136.0 80.7 L137.0 81.2 L138.0 81.7 L139.0 82.2 L140.0 82.6 L141.0 83.2 L142.0 83.7 L143.0 84.2 L144.0 84.7 L145.0 85.2 L146.0 85.7 L147.0 86.1 L148.0 86.4 L149.0 86.6 L150.0 86.8 L151.0 87.0 L152.0 87.1 L153.0 87.3 L154.0 87.4 L155.0 87.6 L156.0 87.8 L157.0 88.0 L158.0 88.2 L159.0 88.3 L160.0 88.5 L161.0 88.7 L162.0 88.9 L163.0 89.0 L164.0 89.2 L165.0 89.4 L166.0 89.5 L167.0 89.7 L168.0 89.8 L169.0 90.0 L170.0 90.1 L171.0 90.2 L172.0 90.4 L173.0 90.5 L174.0 90.6 L175.0 90.8 L176.0 90.9 L177.0 91.0 L178.0 91.2 L179.0 91.3 L180.0 91.4 L181.0 91.5 L182.0 91.6 L183.0 91.7 L184.0 91.9 L185.0 92.0 L186.0 92.1 L187.0 92.2 L188.0 92.3 L189.0 92.4 L190.0 92.5 L191.0 92.6 L192.0 92.7 L193.0 92.9 L194.0 93.0 L195.0 93.1 L196.0 93.2 L197.0 93.3 L198.0 93.4 L199.0 93.5 L200.0 93.6 L201.0 93.7 L202.0 93.8 L203.0 93.9 L204.0 94.0 L205.0 94.1 L206.0 94.2 L207.0 94.3 L208.0 94.5 L209.0 94.6 L210.0 94.7 L211.0 94.8 L212.0 94.9 L213.0 95.0 L214.0 95.1 L215.0 95.2 L216.0 95.3 L217.0 95.5 L218.0 95.6 L219.0 95.7 L220.0 95.8 L221.0 95.9 L222.0 96.1 L223.0 96.2 L224.0 96.3 L225.0 96.4 L226.0 96.6 L227.0 96.7 L228.0 96.8 L229.0 97.0 L230.0 97.1 L231.0 97.2 L232.0 97.4 L233.0 97.5 L234.0 97.7 L235.0 97.8 L236.0 98.0 L237.0 98.1 L238.0 98.3 L239.0 98.4 L240.0 98.6 L241.0 98.7 L242.0 98.9 L243.0 99.1 L244.0 99.2 L245.0 99.4 L246.0 99.6 L247.0 99.7 L248.0 99.9 L249.0 100.1 L250.0 100.3 L251.0 100.4 L252.0 100.6 L253.0 100.8 L254.0 101.0 L255.0 101.1 L256.0 101.3 L257.0 101.5 L258.0 101.7 L259.0 101.9 L260.0 102.1 L261.0 102.3 L262.0 102.5 L263.0 102.7 L264.0 102.8 L265.0 103.0 L266.0 103.2 L267.0 103.4 L268.0 103.6 L269.0 103.8 L270.0 104.0 L271.0 104.2 L272.0 104.4 L273.0 104.6 L274.0 104.8 L275.0 105.0 L276.0 105.3 L277.0 105.5 L278.0 105.7 L279.0 105.9 L280.0 106.1 L281.0 106.3 L282.0 106.5 L283.0 106.7 L284.0 106.9 L285.0 107.1 L286.0 107.4 L287.0 107.6 L288.0 107.8 L289.0 108.0 L290.0 108.2 L291.0 108.4 L292.0 108.6 L293.0 108.9 L294.0 109.1 L295.0 109.3 L296.0 109.5 L297.0 109.7 L298.0 110.0 L299.0 110.2 L300.0 110.4 L301.0 110.6 L302.0 110.8 L303.0 111.1 L304.0 111.3 L305.0 111.5 L306.0 111.7 L307.0 111.9 L308.0 112.2 L309.0 112.4 L310.0 112.6 L311.0 112.8 L312.0 113.0 L313.0 113.3 L314.0 113.5 L315.0 113.7 L316.0 113.9 L317.0 114.1 L318.0 114.4 L319.0 114.6 L320.0 114.8 L321.0 115.0 L322.0 115.2 L323.0 115.5 L324.0 115.7 L325.0 115.9 L326.0 116.1 L327.0 116.3 L328.0 116.5 L329.0 116.8 L330.0 117.0 L331.0 117.2 L332.0 117.4 L333.0 117.6 L334.0 117.8 L335.0 118.0 L336.0 118.2 L337.0 118.5 L338.0 118.7 L339.0 118.9 L340.0 119.1 L341.0 119.3 L342.0 119.5 L343.0 119.7 L344.0 119.9 L345.0 120.1 L346.0 120.3 L347.0 120.5 L348.0 120.7 L349.0 120.9 L350.0 121.1 L351.0 121.3 L352.0 121.5 L353.0 121.7 L354.0 121.9 L355.0 122.1 L356.0 122.3 L357.0 122.5 L358.0 122.7 L359.0 122.9 L360.0 123.1 L361.0 123.3 L362.0 123.5 L363.0 123.7 L364.0 123.9 L365.0 124.1 L366.0 124.2 L367.0 124.4 L368.0 124.6 L369.0 124.8 L370.0 125.0 L371.0 125.2 L372.0 125.4 L373.0 125.6 L374.0 125.8 L375.0 125.9 L376.0 126.1 L377.0 126.3 L378.0 126.5 L379.0 126.7 L380.0 126.9 L381.0 127.0 L382.0 127.2 L383.0 127.4 L384.0 127.6 L385.0 127.8 L386.0 127.9 L387.0 128.1 L388.0 128.3 L389.0 128.5 L390.0 128.7 L391.0 128.8 L392.0 129.0 L393.0 129.2 L394.0 129.4 L395.0 129.5 L396.0 129.7 L397.0 129.9 L398.0 130.0 L399.0 130.2 L400.0 130.4 L401.0 130.6 L402.0 130.7 L403.0 130.9 L404.0 131.1 L405.0 131.2 L406.0 131.4 L407.0 131.6 L408.0 131.8 L409.0 131.9 L410.0 132.1 L411.0 132.3 L412.0 132.4 L413.0 132.6 L414.0 132.8 L415.0 132.9 L416.0 133.1 L417.0 133.2 L418.0 133.4 L419.0 133.6 L420.0 133.7 L421.0 133.9 L422.0 134.1 L423.0 134.2 L424.0 134.4 L425.0 134.5 L426.0 134.7 L427.0 134.9 L428.0 135.0 L429.0 135.2 L430.0 135.3 L431.0 135.5 L432.0 135.7 L433.0 135.8 L434.0 136.0 L435.0 136.1 L436.0 136.3 L437.0 136.5 L438.0 136.6 L439.0 136.8 L440.0 136.9 L441.0 137.1 L442.0 137.2 L443.0 137.4 L444.0 137.5 L445.0 137.7 L446.0 137.9 L447.0 138.0 L448.0 138.2 L449.0 138.3 L450.0 138.5 L451.0 138.6 L452.0 138.8 L453.0 138.9 L454.0 139.1 L455.0 139.2 L456.0 139.4 L457.0 139.5 L458.0 139.7 L459.0 139.8 L460.0 140.0 L461.0 140.1 L462.0 140.3 L463.0 140.4 L464.0 140.6 L465.0 140.7 L466.0 140.9 L467.0 141.0 L468.0 141.2 L469.0 141.3 L470.0 141.5 L471.0 141.6 L472.0 141.8 L473.0 141.9 L474.0 142.0 L475.0 142.2 L476.0 142.3 L477.0 142.5 L478.0 142.6 L479.0 142.8 L480.0 142.9 L481.0 143.1 L482.0 143.2 L483.0 143.4 L484.0 143.5 L485.0 143.7 L486.0 143.8 L487.0 143.9 L488.0 144.1 L489.0 144.2 L490.0 144.4 L491.0 144.5 L492.0 144.7 L493.0 144.8 L494.0 144.9 L495.0 145.1 L496.0 145.2 L497.0 145.4 L498.0 145.5 L499.0 145.7 L500.0 145.8 L501.0 145.9 L502.0 146.1 L503.0 146.2 L504.0 146.4 L505.0 146.5 L506.0 146.7 L507.0 146.8 L508.0 146.9 L509.0 147.1 L510.0 147.2 L511.0 147.4 L512.0 147.5 L513.0 147.7 L514.0 147.8 L515.0 147.9 L516.0 148.1 L517.0 148.2 L518.0 148.4 L519.0 148.5 L520.0 148.6 L521.0 148.8 L522.0 148.9 L523.0 149.1 L524.0 149.2 L525.0 149.4 L526.0 149.5 L527.0 149.6 L528.0 149.8 L529.0 149.9 L530.0 150.1 L531.0 150.2 L532.0 150.3 L533.0 150.5 L534.0 150.6 L535.0 150.8 L536.0 150.9 L537.0 151.1 L538.0 151.2 L539.0 151.3 L540.0 151.5 L541.0 151.6 L542.0 151.8 L543.0 151.9 L544.0 152.1 L545.0 152.2 L546.0 152.3 L547.0 152.5 L548.0 152.6 L549.0 152.8 L550.0 152.9 L551.0 153.0 L552.0 153.2 L552.6 153.3" fill="none" stroke="#0000ff" stroke-width="1.6" stroke-dasharray="7.6 5.3"/>
<path d="M92.0 213.0 L92.2 206.8 L92.5 200.8 L92.8 195.1 L93.0 190.0 L93.2 185.6 L93.5 182.1 L93.8 179.5 L94.0 177.2 L94.2 175.3 L94.5 173.5 L94.8 171.9 L95.0 170.4 L95.2 169.1 L95.5 167.7 L95.8 166.3 L96.0 164.9 L96.2 163.4 L96.5 161.7 L96.8 160.0 L97.0 158.3 L97.2 156.5 L97.5 154.8 L97.8 153.2 L98.0 151.7 L98.2 150.4 L98.5 149.2 L98.8 148.3 L99.0 147.7 L99.2 147.0 L99.5 146.4 L99.8 145.8 L100.0 145.3 L100.2 144.8 L100.5 144.3 L100.8 143.9 L101.0 143.5 L101.2 143.2 L101.5 142.9 L101.8 142.6 L102.0 142.4 L102.2 142.2 L102.5 142.0 L102.8 141.8 L103.0 141.7 L103.2 141.5 L103.5 141.3 L103.8 141.2 L104.0 141.0 L104.2 140.9 L104.5 140.8 L104.8 140.7 L105.0 140.5 L105.2 140.4 L105.5 140.4 L105.8 140.3 L106.0 140.2 L106.2 140.1 L106.5 140.1 L106.8 140.0 L107.0 140.0 L107.2 140.0 L107.5 140.0 L107.8 140.0 L108.0 140.1 L108.2 140.1 L108.5 140.2 L108.8 140.2 L109.0 140.3 L109.2 140.4 L109.5 140.6 L109.8 140.7 L110.0 140.8 L110.2 140.9 L110.5 141.1 L110.8 141.2 L111.0 141.4 L111.2 141.5 L111.5 141.7 L111.8 141.8 L112.0 141.9 L112.2 142.1 L112.5 142.2 L112.8 142.3 L113.0 142.5 L113.2 142.6 L113.5 142.7 L113.8 142.9 L114.0 143.0 L114.2 143.2 L114.5 143.3 L114.8 143.5 L115.0 143.6 L115.2 143.8 L115.5 144.0 L115.8 144.1 L116.0 144.3 L116.2 144.5 L116.5 144.6 L116.8 144.8 L117.0 145.0 L117.2 145.1 L117.5 145.3 L117.8 145.5 L118.0 145.6 L118.2 145.8 L118.5 145.9 L118.8 146.1 L119.0 146.3 L119.2 146.4 L119.5 146.6 L119.8 146.7 L120.0 146.9 L120.2 147.0 L120.5 147.2 L120.8 147.3 L121.0 147.5 L121.2 147.6 L121.5 147.8 L121.8 147.9 L122.0 148.1 L122.2 148.2 L122.5 148.4 L122.8 148.5 L123.0 148.7 L123.2 148.8 L123.5 149.0 L123.8 149.1 L124.0 149.3 L124.2 149.4 L124.5 149.6 L124.8 149.7 L125.0 149.9 L125.2 150.0 L125.5 150.2 L125.8 150.3 L126.0 150.5 L126.2 150.6 L126.5 150.7 L126.8 150.9 L127.0 151.0 L127.2 151.2 L127.5 151.3 L127.8 151.5 L128.0 151.6 L128.2 151.7 L128.5 151.9 L128.8 152.0 L129.0 152.2 L129.2 152.3 L129.5 152.4 L129.8 152.6 L130.0 152.7 L131.0 153.3 L132.0 153.8 L133.0 154.4 L134.0 154.9 L135.0 155.4 L136.0 155.9 L137.0 156.5 L138.0 157.0 L139.0 157.5 L140.0 157.9 L141.0 158.1 L142.0 158.4 L143.0 158.6 L144.0 158.7 L145.0 158.9 L146.0 159.1 L147.0 159.2 L148.0 159.3 L149.0 159.5 L150.0 159.5 L151.0 159.6 L152.0 159.6 L153.0 159.6 L154.0 159.6 L155.0 159.6 L156.0 159.7 L157.0 159.7 L158.0 159.8 L159.0 159.8 L160.0 159.9 L161.0 159.9 L162.0 160.0 L163.0 160.1 L164.0 160.1 L165.0 160.2 L166.0 160.2 L167.0 160.3 L168.0 160.4 L169.0 160.4 L170.0 160.5 L171.0 160.6 L172.0 160.6 L173.0 160.7 L174.0 160.8 L175.0 160.8 L176.0 160.9 L177.0 161.0 L178.0 161.0 L179.0 161.1 L180.0 161.2 L181.0 161.3 L182.0 161.3 L183.0 161.4 L184.0 161.5 L185.0 161.6 L186.0 161.6 L187.0 161.7 L188.0 161.8 L189.0 161.9 L190.0 162.0 L191.0 162.0 L192.0 162.1 L193.0 162.2 L194.0 162.3 L195.0 162.4 L196.0 162.5 L197.0 162.5 L198.0 162.6 L199.0 162.7 L200.0 162.8 L201.0 162.9 L202.0 163.0 L203.0 163.1 L204.0 163.2 L205.0 163.3 L206.0 163.4 L207.0 163.5 L208.0 163.6 L209.0 163.7 L210.0 163.7 L211.0 163.8 L212.0 163.9 L213.0 164.0 L214.0 164.1 L215.0 164.2 L216.0 164.3 L217.0 164.5 L218.0 164.6 L219.0 164.7 L220.0 164.8 L221.0 164.9 L222.0 165.0 L223.0 165.1 L224.0 165.2 L225.0 165.3 L226.0 165.4 L227.0 165.5 L228.0 165.6 L229.0 165.7 L230.0 165.9 L231.0 166.0 L232.0 166.1 L233.0 166.2 L234.0 166.3 L235.0 166.4 L236.0 166.5 L237.0 166.7 L238.0 166.8 L239.0 166.9 L240.0 167.0 L241.0 167.1 L242.0 167.3 L243.0 167.4 L244.0 167.5 L245.0 167.6 L246.0 167.8 L247.0 167.9 L248.0 168.0 L249.0 168.1 L250.0 168.2 L251.0 168.4 L252.0 168.5 L253.0 168.6 L254.0 168.8 L255.0 168.9 L256.0 169.0 L257.0 169.1 L258.0 169.3 L259.0 169.4 L260.0 169.5 L261.0 169.7 L262.0 169.8 L263.0 169.9 L264.0 170.0 L265.0 170.2 L266.0 170.3 L267.0 170.4 L268.0 170.6 L269.0 170.7 L270.0 170.8 L271.0 171.0 L272.0 171.1 L273.0 171.2 L274.0 171.4 L275.0 171.5 L276.0 171.6 L277.0 171.8 L278.0 171.9 L279.0 172.1 L280.0 172.2 L281.0 172.3 L282.0 172.5 L283.0 172.6 L284.0 172.7 L285.0 172.9 L286.0 173.0 L287.0 173.1 L288.0 173.3 L289.0 173.4 L290.0 173.6 L291.0 173.7 L292.0 173.8 L293.0 174.0 L294.0 174.1 L295.0 174.2 L296.0 174.4 L297.0 174.5 L298.0 174.7 L299.0 174.8 L300.0 174.9 L301.0 175.1 L302.0 175.2 L303.0 175.3 L304.0 175.5 L305.0 175.6 L306.0 175.8 L307.0 175.9 L308.0 176.0 L309.0 176.2 L310.0 176.3 L311.0 176.4 L312.0 176.6 L313.0 176.7 L314.0 176.8 L315.0 177.0 L316.0 177.1 L317.0 177.3 L318.0 177.4 L319.0 177.5 L320.0 177.7 L321.0 177.8 L322.0 177.9 L323.0 178.1 L324.0 178.2 L325.0 178.3 L326.0 178.5 L327.0 178.6 L328.0 178.7 L329.0 178.9 L330.0 179.0 L331.0 179.1 L332.0 179.2 L333.0 179.4 L334.0 179.5 L335.0 179.6 L336.0 179.8 L337.0 179.9 L338.0 180.0 L339.0 180.2 L340.0 180.3 L341.0 180.4 L342.0 180.5 L343.0 180.7 L344.0 180.8 L345.0 180.9 L346.0 181.0 L347.0 181.2 L348.0 181.3 L349.0 181.4 L350.0 181.5 L351.0 181.7 L352.0 181.8 L353.0 181.9 L354.0 182.0 L355.0 182.1 L356.0 182.3 L357.0 182.4 L358.0 182.5 L359.0 182.6 L360.0 182.8 L361.0 182.9 L362.0 183.0 L363.0 183.1 L364.0 183.2 L365.0 183.3 L366.0 183.5 L367.0 183.6 L368.0 183.7 L369.0 183.8 L370.0 183.9 L371.0 184.0 L372.0 184.2 L373.0 184.3 L374.0 184.4 L375.0 184.5 L376.0 184.6 L377.0 184.7 L378.0 184.8 L379.0 185.0 L380.0 185.1 L381.0 185.2 L382.0 185.3 L383.0 185.4 L384.0 185.5 L385.0 185.6 L386.0 185.7 L387.0 185.9 L388.0 186.0 L389.0 186.1 L390.0 186.2 L391.0 186.3 L392.0 186.4 L393.0 186.5 L394.0 186.6 L395.0 186.7 L396.0 186.8 L397.0 187.0 L398.0 187.1 L399.0 187.2 L400.0 187.3 L401.0 187.4 L402.0 187.5 L403.0 187.6 L404.0 187.7 L405.0 187.8 L406.0 187.9 L407.0 188.0 L408.0 188.1 L409.0 188.2 L410.0 188.3 L411.0 188.4 L412.0 188.5 L413.0 188.7 L414.0 188.8 L415.0 188.9 L416.0 189.0 L417.0 189.1 L418.0 189.2 L419.0 189.3 L420.0 189.4 L421.0 189.5 L422.0 189.6 L423.0 189.7 L424.0 189.8 L425.0 189.9 L426.0 190.0 L427.0 190.1 L428.0 190.2 L429.0 190.3 L430.0 190.4 L431.0 190.5 L432.0 190.6 L433.0 190.7 L434.0 190.8 L435.0 190.9 L436.0 191.0 L437.0 191.1 L438.0 191.2 L439.0 191.3 L440.0 191.4 L441.0 191.5 L442.0 191.6 L443.0 191.7 L444.0 191.8 L445.0 191.9 L446.0 192.0 L447.0 192.1 L448.0 192.2 L449.0 192.3 L450.0 192.4 L451.0 192.5 L452.0 192.6 L453.0 192.7 L454.0 192.8 L455.0 192.9 L456.0 193.0 L457.0 193.1 L458.0 193.2 L459.0 193.3 L460.0 193.4 L461.0 193.5 L462.0 193.6 L463.0 193.7 L464.0 193.7 L465.0 193.8 L466.0 193.9 L467.0 194.0 L468.0 194.1 L469.0 194.2 L470.0 194.3 L471.0 194.4 L472.0 194.5 L473.0 194.6 L474.0 194.7 L475.0 194.8 L476.0 194.9 L477.0 195.0 L478.0 195.1 L479.0 195.2 L480.0 195.3 L481.0 195.4 L482.0 195.5 L483.0 195.6 L484.0 195.7 L485.0 195.8 L486.0 195.9 L487.0 196.0 L488.0 196.1 L489.0 196.1 L490.0 196.2 L491.0 196.3 L492.0 196.4 L493.0 196.5 L494.0 196.6 L495.0 196.7 L496.0 196.8 L497.0 196.9 L498.0 197.0 L499.0 197.1 L500.0 197.2 L501.0 197.3 L502.0 197.4 L503.0 197.5 L504.0 197.6 L505.0 197.7 L506.0 197.8 L507.0 197.9 L508.0 198.0 L509.0 198.1 L510.0 198.2 L511.0 198.3 L512.0 198.3 L513.0 198.4 L514.0 198.5 L515.0 198.6 L516.0 198.7 L517.0 198.8 L518.0 198.9 L519.0 199.0 L520.0 199.1 L521.0 199.2 L522.0 199.3 L523.0 199.4 L524.0 199.5 L525.0 199.6 L526.0 199.7 L527.0 199.8 L528.0 199.9 L529.0 200.0 L530.0 200.1 L531.0 200.2 L532.0 200.3 L533.0 200.4 L534.0 200.5 L535.0 200.6 L536.0 200.7 L537.0 200.8 L538.0 200.9 L539.0 201.0 L540.0 201.1 L541.0 201.2 L542.0 201.3 L543.0 201.4 L544.0 201.5 L545.0 201.6 L546.0 201.7 L547.0 201.8 L548.0 201.9 L549.0 202.0 L550.0 202.1 L551.0 202.2 L552.0 202.3 L552.6 202.3" fill="none" stroke="#0000ff" stroke-width="1.6" stroke-dasharray="7.6 5.3"/>
<path d="M92.0 188.0 L92.2 177.1 L92.5 167.1 L92.8 158.0 L93.0 150.0 L93.2 142.7 L93.5 136.2 L93.8 130.9 L94.0 126.7 L94.2 123.1 L94.5 119.9 L94.8 117.4 L95.0 115.3 L95.2 113.6 L95.5 112.0 L95.8 110.6 L96.0 109.4 L96.2 108.2 L96.5 107.1 L96.8 106.1 L97.0 105.1 L97.2 104.1 L97.5 103.2 L97.8 102.3 L98.0 101.4 L98.2 100.5 L98.5 99.7 L98.8 99.0 L99.0 98.3 L99.2 97.7 L99.5 97.2 L99.8 96.7 L100.0 96.3 L100.2 95.9 L100.5 95.5 L100.8 95.1 L101.0 94.8 L101.2 94.4 L101.5 94.1 L101.8 93.8 L102.0 93.6 L102.2 93.3 L102.5 93.1 L102.8 92.9 L103.0 92.8 L103.2 92.7 L103.5 92.6 L103.8 92.5 L104.0 92.4 L104.2 92.3 L104.5 92.2 L104.8 92.1 L105.0 92.1 L105.2 92.0 L105.5 92.0 L105.8 91.9 L106.0 91.9 L106.2 91.8 L106.5 91.8 L106.8 91.8 L107.0 91.8 L107.2 91.8 L107.5 91.9 L107.8 91.9 L108.0 92.0 L108.2 92.1 L108.5 92.2 L108.8 92.3 L109.0 92.5 L109.2 92.6 L109.5 92.8 L109.8 93.0 L110.0 93.1 L110.2 93.3 L110.5 93.5 L110.8 93.7 L111.0 93.8 L111.2 94.0 L111.5 94.2 L111.8 94.3 L112.0 94.5 L112.2 94.7 L112.5 95.0 L112.8 95.2 L113.0 95.4 L113.2 95.7 L113.5 95.9 L113.8 96.2 L114.0 96.5 L114.2 96.7 L114.5 97.0 L114.8 97.3 L115.0 97.6 L115.2 97.8 L115.5 98.1 L115.8 98.4 L116.0 98.7 L116.2 98.9 L116.5 99.2 L116.8 99.5 L117.0 99.7 L117.2 99.9 L117.5 100.2 L117.8 100.4 L118.0 100.7 L118.2 100.9 L118.5 101.2 L118.8 101.4 L119.0 101.6 L119.2 101.9 L119.5 102.1 L119.8 102.4 L120.0 102.6 L120.2 102.9 L120.5 103.1 L120.8 103.3 L121.0 103.6 L121.2 103.8 L121.5 104.1 L121.8 104.3 L122.0 104.5 L122.2 104.8 L122.5 105.0 L122.8 105.2 L123.0 105.4 L123.2 105.6 L123.5 105.9 L123.8 106.1 L124.0 106.3 L124.2 106.4 L124.5 106.6 L124.8 106.8 L125.0 107.0 L125.2 107.2 L125.5 107.3 L125.8 107.5 L126.0 107.6 L126.2 107.8 L126.5 107.9 L126.8 108.1 L127.0 108.2 L127.2 108.4 L127.5 108.5 L127.8 108.7 L128.0 108.8 L128.2 108.9 L128.5 109.1 L128.8 109.2 L129.0 109.3 L129.2 109.5 L129.5 109.6 L129.8 109.7 L130.0 109.8 L131.0 110.3 L132.0 110.9 L133.0 111.4 L134.0 111.8 L135.0 112.3 L136.0 112.7 L137.0 113.2 L138.0 113.6 L139.0 114.0 L140.0 114.3 L141.0 114.7 L142.0 115.0 L143.0 115.4 L144.0 115.7 L145.0 116.0 L146.0 116.3 L147.0 116.6 L148.0 116.8 L149.0 117.1 L150.0 117.3 L151.0 117.6 L152.0 117.8 L153.0 118.0 L154.0 118.2 L155.0 118.4 L156.0 118.6 L157.0 118.7 L158.0 118.9 L159.0 119.0 L160.0 119.2 L161.0 119.3 L162.0 119.5 L163.0 119.6 L164.0 119.7 L165.0 119.8 L166.0 119.9 L167.0 120.0 L168.0 120.1 L169.0 120.2 L170.0 120.2 L171.0 120.3 L172.0 120.4 L173.0 120.4 L174.0 120.5 L175.0 120.6 L176.0 120.6 L177.0 120.7 L178.0 120.7 L179.0 120.7 L180.0 120.8 L181.0 120.8 L182.0 120.8 L183.0 120.9 L184.0 120.9 L185.0 120.9 L186.0 120.9 L187.0 121.0 L188.0 121.0 L189.0 121.0 L190.0 121.0 L191.0 121.1 L192.0 121.1 L193.0 121.1 L194.0 121.1 L195.0 121.2 L196.0 121.2 L197.0 121.2 L198.0 121.3 L199.0 121.3 L200.0 121.3 L201.0 121.4 L202.0 121.4 L203.0 121.5 L204.0 121.5 L205.0 121.6 L206.0 121.6 L207.0 121.7 L208.0 121.7 L209.0 121.8 L210.0 121.9 L211.0 121.9 L212.0 122.0 L213.0 122.1 L214.0 122.2 L215.0 122.2 L216.0 122.3 L217.0 122.4 L218.0 122.5 L219.0 122.6 L220.0 122.7 L221.0 122.8 L222.0 122.9 L223.0 123.0 L224.0 123.1 L225.0 123.2 L226.0 123.3 L227.0 123.4 L228.0 123.5 L229.0 123.6 L230.0 123.7 L231.0 123.8 L232.0 123.9 L233.0 124.1 L234.0 124.2 L235.0 124.3 L236.0 124.4 L237.0 124.6 L238.0 124.7 L239.0 124.8 L240.0 124.9 L241.0 125.1 L242.0 125.2 L243.0 125.4 L244.0 125.5 L245.0 125.6 L246.0 125.8 L247.0 125.9 L248.0 126.1 L249.0 126.2 L250.0 126.4 L251.0 126.5 L252.0 126.7 L253.0 126.8 L254.0 127.0 L255.0 127.1 L256.0 127.3 L257.0 127.5 L258.0 127.6 L259.0 127.8 L260.0 127.9 L261.0 128.1 L262.0 128.3 L263.0 128.4 L264.0 128.6 L265.0 128.8 L266.0 128.9 L267.0 129.1 L268.0 129.3 L269.0 129.5 L270.0 129.6 L271.0 129.8 L272.0 130.0 L273.0 130.2 L274.0 130.3 L275.0 130.5 L276.0 130.7 L277.0 130.9 L278.0 131.0 L279.0 131.2 L280.0 131.4 L281.0 131.6 L282.0 131.8 L283.0 132.0 L284.0 132.1 L285.0 132.3 L286.0 132.5 L287.0 132.7 L288.0 132.9 L289.0 133.1 L290.0 133.3 L291.0 133.4 L292.0 133.6 L293.0 133.8 L294.0 134.0 L295.0 134.2 L296.0 134.4 L297.0 134.6 L298.0 134.8 L299.0 134.9 L300.0 135.1 L301.0 135.3 L302.0 135.5 L303.0 135.7 L304.0 135.9 L305.0 136.1 L306.0 136.3 L307.0 136.5 L308.0 136.6 L309.0 136.8 L310.0 137.0 L311.0 137.2 L312.0 137.4 L313.0 137.6 L314.0 137.8 L315.0 138.0 L316.0 138.1 L317.0 138.3 L318.0 138.5 L319.0 138.7 L320.0 138.9 L321.0 139.1 L322.0 139.3 L323.0 139.4 L324.0 139.6 L325.0 139.8 L326.0 140.0 L327.0 140.2 L328.0 140.3 L329.0 140.5 L330.0 140.7 L331.0 140.9 L332.0 141.1 L333.0 141.2 L334.0 141.4 L335.0 141.6 L336.0 141.8 L337.0 141.9 L338.0 142.1 L339.0 142.3 L340.0 142.5 L341.0 142.7 L342.0 142.8 L343.0 143.0 L344.0 143.2 L345.0 143.3 L346.0 143.5 L347.0 143.7 L348.0 143.9 L349.0 144.0 L350.0 144.2 L351.0 144.4 L352.0 144.5 L353.0 144.7 L354.0 144.9 L355.0 145.1 L356.0 145.2 L357.0 145.4 L358.0 145.6 L359.0 145.7 L360.0 145.9 L361.0 146.1 L362.0 146.2 L363.0 146.4 L364.0 146.5 L365.0 146.7 L366.0 146.9 L367.0 147.0 L368.0 147.2 L369.0 147.4 L370.0 147.5 L371.0 147.7 L372.0 147.9 L373.0 148.0 L374.0 148.2 L375.0 148.3 L376.0 148.5 L377.0 148.7 L378.0 148.8 L379.0 149.0 L380.0 149.1 L381.0 149.3 L382.0 149.4 L383.0 149.6 L384.0 149.8 L385.0 149.9 L386.0 150.1 L387.0 150.2 L388.0 150.4 L389.0 150.5 L390.0 150.7 L391.0 150.8 L392.0 151.0 L393.0 151.1 L394.0 151.3 L395.0 151.5 L396.0 151.6 L397.0 151.8 L398.0 151.9 L399.0 152.1 L400.0 152.2 L401.0 152.4 L402.0 152.5 L403.0 152.7 L404.0 152.8 L405.0 153.0 L406.0 153.1 L407.0 153.2 L408.0 153.4 L409.0 153.5 L410.0 153.7 L411.0 153.8 L412.0 154.0 L413.0 154.1 L414.0 154.3 L415.0 154.4 L416.0 154.6 L417.0 154.7 L418.0 154.8 L419.0 155.0 L420.0 155.1 L421.0 155.3 L422.0 155.4 L423.0 155.6 L424.0 155.7 L425.0 155.8 L426.0 156.0 L427.0 156.1 L428.0 156.3 L429.0 156.4 L430.0 156.5 L431.0 156.7 L432.0 156.8 L433.0 157.0 L434.0 157.1 L435.0 157.2 L436.0 157.4 L437.0 157.5 L438.0 157.7 L439.0 157.8 L440.0 157.9 L441.0 158.1 L442.0 158.2 L443.0 158.3 L444.0 158.5 L445.0 158.6 L446.0 158.7 L447.0 158.9 L448.0 159.0 L449.0 159.1 L450.0 159.3 L451.0 159.4 L452.0 159.5 L453.0 159.7 L454.0 159.8 L455.0 159.9 L456.0 160.1 L457.0 160.2 L458.0 160.3 L459.0 160.5 L460.0 160.6 L461.0 160.7 L462.0 160.8 L463.0 161.0 L464.0 161.1 L465.0 161.2 L466.0 161.4 L467.0 161.5 L468.0 161.6 L469.0 161.7 L470.0 161.9 L471.0 162.0 L472.0 162.1 L473.0 162.2 L474.0 162.4 L475.0 162.5 L476.0 162.6 L477.0 162.7 L478.0 162.9 L479.0 163.0 L480.0 163.1 L481.0 163.2 L482.0 163.4 L483.0 163.5 L484.0 163.6 L485.0 163.7 L486.0 163.9 L487.0 164.0 L488.0 164.1 L489.0 164.2 L490.0 164.4 L491.0 164.5 L492.0 164.6 L493.0 164.7 L494.0 164.8 L495.0 165.0 L496.0 165.1 L497.0 165.2 L498.0 165.3 L499.0 165.4 L500.0 165.6 L501.0 165.7 L502.0 165.8 L503.0 165.9 L504.0 166.0 L505.0 166.1 L506.0 166.3 L507.0 166.4 L508.0 166.5 L509.0 166.6 L510.0 166.7 L511.0 166.8 L512.0 167.0 L513.0 167.1 L514.0 167.2 L515.0 167.3 L516.0 167.4 L517.0 167.5 L518.0 167.7 L519.0 167.8 L520.0 167.9 L521.0 168.0 L522.0 168.1 L523.0 168.2 L524.0 168.3 L525.0 168.5 L526.0 168.6 L527.0 168.7 L528.0 168.8 L529.0 168.9 L530.0 169.0 L531.0 169.1 L532.0 169.2 L533.0 169.3 L534.0 169.5 L535.0 169.6 L536.0 169.7 L537.0 169.8 L538.0 169.9 L539.0 170.0 L540.0 170.1 L541.0 170.2 L542.0 170.3 L543.0 170.5 L544.0 170.6 L545.0 170.7 L546.0 170.8 L547.0 170.9 L548.0 171.0 L549.0 171.1 L550.0 171.2 L551.0 171.3 L552.0 171.4 L552.6 171.5" fill="none" stroke="#0000ff" stroke-width="2.2"/>
<path d="M91.8 277.0 L92.0 274.8 L92.3 272.7 L92.5 270.6 L92.8 268.6 L93.0 266.6 L93.3 264.7 L93.5 263.0 L93.8 261.3 L94.0 259.8 L94.3 258.5 L94.5 257.3 L94.8 256.1 L95.0 255.0 L95.3 254.0 L95.5 253.0 L95.8 252.0 L96.0 251.1 L96.3 250.2 L96.5 249.3 L96.8 248.5 L97.0 247.7 L97.3 246.9 L97.5 246.1 L97.8 245.4 L98.0 244.6 L98.3 243.8 L98.5 243.1 L98.8 242.3 L99.0 241.5 L99.3 240.7 L99.5 239.8 L99.8 239.0 L100.0 238.1 L100.3 237.3 L100.5 236.4 L100.8 235.6 L101.0 234.7 L101.3 233.9 L101.5 233.0 L101.8 232.2 L102.0 231.3 L102.3 230.5 L102.5 229.6 L102.8 228.8 L103.0 228.0 L103.3 227.1 L103.5 226.3 L103.8 225.5 L104.0 224.7 L104.3 223.9 L104.5 223.1 L104.8 222.3 L105.0 221.5 L105.3 220.7 L105.5 220.0 L105.8 219.2 L106.0 218.5 L106.3 217.8 L106.5 217.1 L106.8 216.4 L107.0 215.7 L107.3 215.0 L107.5 214.4 L107.8 213.7 L108.0 213.1 L108.3 212.5 L108.5 211.9 L108.8 211.3 L109.0 210.7 L109.3 210.1 L109.5 209.6 L109.8 209.0 L110.0 208.4 L110.3 207.9 L110.5 207.3 L110.8 206.8 L111.0 206.3 L111.3 205.7 L111.5 205.2 L111.8 204.7 L112.0 204.2 L112.3 203.7 L112.5 203.2 L112.8 202.7 L113.0 202.2 L113.3 201.7 L113.5 201.2 L113.8 200.7 L114.0 200.2 L114.3 199.8 L114.5 199.3 L114.8 198.8 L115.0 198.3 L115.3 197.8 L115.5 197.4 L115.8 196.9 L116.0 196.4 L116.3 195.9 L116.5 195.5 L116.8 195.0 L117.0 194.5 L117.3 194.1 L117.5 193.6 L117.8 193.2 L118.0 192.7 L118.3 192.3 L118.5 191.8 L118.8 191.4 L119.0 190.9 L119.3 190.5 L119.5 190.1 L119.8 189.6 L120.0 189.2 L120.3 188.8 L120.5 188.4 L120.8 187.9 L121.0 187.5 L121.3 187.1 L121.5 186.7 L121.8 186.2 L122.0 185.8 L122.3 185.4 L122.5 185.0 L122.8 184.5 L123.0 184.1 L123.3 183.7 L123.5 183.3 L123.8 182.9 L124.0 182.4 L124.3 182.0 L124.5 181.6 L124.8 181.1 L125.0 180.7 L125.3 180.3 L125.5 179.8 L125.8 179.4 L126.0 179.0 L126.3 178.5 L126.5 178.1 L126.8 177.7 L127.0 177.2 L127.3 176.8 L127.5 176.4 L127.8 176.0 L128.1 175.5 L128.3 175.1 L128.6 174.7 L128.8 174.3 L129.1 173.9 L129.3 173.5 L129.6 173.1 L129.8 172.7 L130.8 171.2 L131.8 169.7 L132.8 168.3 L133.8 167.0 L134.8 165.6 L135.8 164.3 L136.8 162.9 L137.8 161.5 L138.8 160.1 L139.8 158.8 L140.8 157.7 L141.8 156.7 L142.8 155.8 L143.8 154.9 L144.8 154.0 L145.8 153.2 L146.8 152.5 L147.8 151.8 L148.8 151.1 L149.8 150.5 L150.8 150.0 L151.8 149.5 L152.8 148.9 L153.8 148.4 L154.8 147.9 L155.8 147.3 L156.8 146.7 L157.8 146.0 L158.8 145.4 L159.8 144.8 L160.8 144.2 L161.8 143.6 L162.8 143.0 L163.8 142.4 L164.8 141.8 L165.8 141.2 L166.8 140.6 L167.8 140.0 L168.8 139.4 L169.8 138.8 L170.8 138.3 L171.8 137.7 L172.8 137.1 L173.8 136.5 L174.8 136.0 L175.8 135.4 L176.8 134.8 L177.8 134.3 L178.8 133.7 L179.8 133.2 L180.8 132.7 L181.8 132.1 L182.8 131.6 L183.8 131.1 L184.8 130.5 L185.8 130.0 L186.8 129.5 L187.8 129.0 L188.8 128.5 L189.8 128.0 L190.8 127.5 L191.8 127.1 L192.8 126.6 L193.8 126.1 L194.8 125.7 L195.8 125.2 L196.8 124.8 L197.8 124.3 L198.8 123.9 L199.8 123.5 L200.8 123.0 L201.8 122.6 L202.8 122.2 L203.8 121.8 L204.8 121.4 L205.8 121.0 L206.8 120.6 L207.8 120.2 L208.8 119.8 L209.8 119.5 L210.8 119.1 L211.8 118.7 L212.8 118.4 L213.8 118.0 L214.8 117.7 L215.8 117.3 L216.8 117.0 L217.8 116.7 L218.8 116.3 L219.8 116.0 L220.8 115.7 L221.8 115.4 L222.8 115.1 L223.8 114.8 L224.8 114.5 L225.8 114.2 L226.8 113.9 L227.8 113.6 L228.8 113.3 L229.8 113.1 L230.8 112.8 L231.8 112.5 L232.8 112.2 L233.8 112.0 L234.8 111.7 L235.8 111.5 L236.8 111.2 L237.8 111.0 L238.8 110.8 L239.8 110.5 L240.8 110.3 L241.8 110.1 L242.8 109.8 L243.8 109.6 L244.8 109.4 L245.8 109.2 L246.8 109.0 L247.8 108.8 L248.8 108.6 L249.8 108.4 L250.8 108.2 L251.8 108.0 L252.8 107.8 L253.8 107.6 L254.8 107.4 L255.8 107.2 L256.8 107.1 L257.8 106.9 L258.8 106.7 L259.8 106.6 L260.8 106.4 L261.8 106.2 L262.8 106.1 L263.8 105.9 L264.8 105.7 L265.8 105.6 L266.8 105.4 L267.8 105.3 L268.8 105.2 L269.8 105.0 L270.8 104.9 L271.8 104.7 L272.8 104.6 L273.8 104.5 L274.8 104.3 L275.8 104.2 L276.8 104.1 L277.8 103.9 L278.8 103.8 L279.8 103.7 L280.8 103.6 L281.8 103.5 L282.8 103.3 L283.8 103.2 L284.8 103.1 L285.8 103.0 L286.8 102.9 L287.8 102.8 L288.8 102.7 L289.8 102.5 L290.8 102.4 L291.8 102.3 L292.8 102.2 L293.8 102.1 L294.8 102.0 L295.8 101.9 L296.8 101.8 L297.8 101.7 L298.8 101.6 L299.8 101.5 L300.8 101.4 L301.8 101.3 L302.8 101.2 L303.8 101.1 L304.8 101.0 L305.8 101.0 L306.8 100.9 L307.8 100.8 L308.8 100.7 L309.8 100.6 L310.8 100.5 L311.8 100.4 L312.8 100.3 L313.8 100.2 L314.8 100.1 L315.8 100.0 L316.8 100.0 L317.8 99.9 L318.8 99.8 L319.8 99.7 L320.8 99.6 L321.8 99.5 L322.8 99.4 L323.8 99.4 L324.8 99.3 L325.8 99.2 L326.8 99.1 L327.8 99.0 L328.8 98.9 L329.8 98.9 L330.8 98.8 L331.8 98.7 L332.8 98.6 L333.8 98.5 L334.8 98.5 L335.8 98.4 L336.8 98.3 L337.8 98.2 L338.8 98.2 L339.8 98.1 L340.8 98.0 L341.8 97.9 L342.8 97.9 L343.8 97.8 L344.8 97.7 L345.8 97.6 L346.8 97.6 L347.8 97.5 L348.8 97.4 L349.8 97.4 L350.8 97.3 L351.8 97.2 L352.8 97.1 L353.8 97.1 L354.8 97.0 L355.8 96.9 L356.8 96.9 L357.8 96.8 L358.8 96.7 L359.8 96.7 L360.8 96.6 L361.8 96.5 L362.8 96.5 L363.8 96.4 L364.8 96.3 L365.8 96.3 L366.8 96.2 L367.8 96.2 L368.8 96.1 L369.8 96.0 L370.8 96.0 L371.8 95.9 L372.8 95.8 L373.8 95.8 L374.8 95.7 L375.8 95.7 L376.8 95.6 L377.8 95.5 L378.8 95.5 L379.8 95.4 L380.8 95.4 L381.8 95.3 L382.8 95.3 L383.8 95.2 L384.8 95.1 L385.8 95.1 L386.8 95.0 L387.8 95.0 L388.8 94.9 L389.8 94.9 L390.8 94.8 L391.8 94.8 L392.8 94.7 L393.8 94.7 L394.8 94.6 L395.8 94.5 L396.8 94.5 L397.8 94.4 L398.8 94.4 L399.8 94.3 L400.8 94.3 L401.8 94.2 L402.8 94.2 L403.8 94.1 L404.8 94.1 L405.8 94.0 L406.8 94.0 L407.8 93.9 L408.8 93.9 L409.8 93.8 L410.8 93.8 L411.8 93.8 L412.8 93.7 L413.8 93.7 L414.8 93.6 L415.8 93.6 L416.8 93.5 L417.8 93.5 L418.8 93.4 L419.8 93.4 L420.8 93.3 L421.8 93.3 L422.8 93.3 L423.8 93.2 L424.8 93.2 L425.8 93.1 L426.8 93.1 L427.8 93.0 L428.8 93.0 L429.8 92.9 L430.8 92.9 L431.8 92.9 L432.8 92.8 L433.8 92.8 L434.8 92.7 L435.8 92.7 L436.8 92.7 L437.8 92.6 L438.8 92.6 L439.8 92.5 L440.8 92.5 L441.8 92.5 L442.8 92.4 L443.8 92.4 L444.8 92.3 L445.8 92.3 L446.8 92.3 L447.8 92.2 L448.8 92.2 L449.8 92.1 L450.8 92.1 L451.8 92.1 L452.8 92.0 L453.8 92.0 L454.8 92.0 L455.8 91.9 L456.8 91.9 L457.8 91.8 L458.8 91.8 L459.8 91.8 L460.8 91.7 L461.8 91.7 L462.8 91.7 L463.8 91.6 L464.8 91.6 L465.8 91.6 L466.8 91.5 L467.8 91.5 L468.8 91.5 L469.8 91.4 L470.8 91.4 L471.8 91.3 L472.8 91.3 L473.8 91.3 L474.8 91.2 L475.8 91.2 L476.8 91.2 L477.8 91.1 L478.8 91.1 L479.8 91.1 L480.8 91.0 L481.8 91.0 L482.8 91.0 L483.8 90.9 L484.8 90.9 L485.8 90.9 L486.8 90.8 L487.8 90.8 L488.8 90.8 L489.8 90.7 L490.8 90.7 L491.8 90.7 L492.8 90.6 L493.8 90.6 L494.8 90.6 L495.8 90.5 L496.8 90.5 L497.8 90.5 L498.8 90.4 L499.8 90.4 L500.8 90.4 L501.8 90.3 L502.8 90.3 L503.8 90.3 L504.8 90.3 L505.8 90.2 L506.8 90.2 L507.8 90.2 L508.8 90.1 L509.8 90.1 L510.8 90.1 L511.8 90.0 L512.8 90.0 L513.8 90.0 L514.8 89.9 L515.8 89.9 L516.8 89.9 L517.8 89.8 L518.8 89.8 L519.8 89.8 L520.8 89.7 L521.8 89.7 L522.8 89.7 L523.8 89.6 L524.8 89.6 L525.8 89.6 L526.8 89.5 L527.8 89.5 L528.8 89.5 L529.8 89.4 L530.8 89.4 L531.8 89.4 L532.8 89.3 L533.8 89.3 L534.8 89.3 L535.8 89.3 L536.8 89.2 L537.8 89.2 L538.8 89.2 L539.8 89.1 L540.8 89.1 L541.8 89.1 L542.8 89.0 L543.8 89.0 L544.8 89.0 L545.8 88.9 L546.8 88.9 L547.8 88.9 L548.8 88.8 L549.8 88.8 L550.8 88.8 L551.8 88.7 L552.6 88.7" fill="none" stroke="#ff0000" stroke-width="1.6" stroke-dasharray="7.6 5.3"/>
<path d="M92.2 287.4 L92.5 287.2 L92.7 287.0 L93.0 286.8 L93.2 286.6 L93.5 286.4 L93.7 286.1 L94.0 285.9 L94.2 285.7 L94.5 285.5 L94.7 285.3 L95.0 285.1 L95.2 284.9 L95.5 284.7 L95.7 284.5 L96.0 284.2 L96.2 284.0 L96.5 283.8 L96.7 283.6 L97.0 283.4 L97.2 283.2 L97.5 283.0 L97.7 282.7 L98.0 282.5 L98.2 282.3 L98.5 282.1 L98.7 281.9 L99.0 281.7 L99.2 281.5 L99.5 281.2 L99.7 281.0 L100.0 280.8 L100.2 280.6 L100.5 280.4 L100.7 280.2 L101.0 279.9 L101.2 279.7 L101.5 279.5 L101.7 279.3 L102.0 279.1 L102.2 278.8 L102.5 278.6 L102.7 278.4 L103.0 278.2 L103.2 278.0 L103.5 277.7 L103.7 277.5 L104.0 277.3 L104.2 277.1 L104.5 276.9 L104.7 276.6 L105.0 276.4 L105.2 276.2 L105.5 276.0 L105.7 275.8 L106.0 275.5 L106.2 275.3 L106.5 275.1 L106.7 274.9 L107.0 274.7 L107.2 274.4 L107.5 274.2 L107.7 274.0 L108.0 273.8 L108.2 273.6 L108.5 273.3 L108.7 273.1 L109.0 272.9 L109.2 272.7 L109.5 272.5 L109.7 272.2 L110.0 272.0 L110.2 271.8 L110.5 271.6 L110.7 271.4 L111.0 271.2 L111.2 270.9 L111.5 270.7 L111.7 270.5 L112.0 270.3 L112.2 270.1 L112.5 269.8 L112.7 269.6 L113.0 269.4 L113.2 269.2 L113.5 269.0 L113.7 268.8 L114.0 268.5 L114.2 268.3 L114.5 268.1 L114.7 267.9 L115.0 267.7 L115.2 267.5 L115.5 267.3 L115.7 267.1 L116.0 266.8 L116.2 266.6 L116.5 266.4 L116.7 266.2 L117.0 266.0 L117.2 265.8 L117.5 265.6 L117.7 265.4 L118.0 265.2 L118.2 265.0 L118.5 264.8 L118.7 264.5 L119.0 264.3 L119.2 264.1 L119.5 263.9 L119.7 263.7 L120.0 263.5 L120.2 263.3 L120.5 263.1 L120.7 262.9 L121.0 262.7 L121.2 262.5 L121.5 262.3 L121.7 262.1 L122.0 261.9 L122.2 261.7 L122.5 261.5 L122.7 261.3 L123.0 261.1 L123.2 260.9 L123.5 260.7 L123.7 260.5 L124.0 260.3 L124.2 260.1 L124.5 259.9 L124.7 259.7 L125.0 259.5 L125.2 259.3 L125.5 259.1 L125.7 259.0 L126.0 258.8 L126.2 258.6 L126.5 258.4 L126.7 258.2 L127.0 258.0 L127.2 257.8 L127.5 257.7 L127.7 257.5 L128.0 257.3 L128.2 257.1 L128.4 256.9 L128.7 256.8 L128.9 256.6 L129.2 256.4 L129.4 256.2 L129.7 256.1 L129.9 255.9 L130.2 255.7 L131.2 255.0 L132.2 254.4 L133.2 253.7 L134.2 253.0 L135.2 252.3 L136.2 251.6 L137.2 251.0 L138.2 250.3 L139.2 249.6 L140.2 248.9 L141.2 248.3 L142.2 247.6 L143.2 246.9 L144.2 246.2 L145.2 245.5 L146.2 244.7 L147.2 244.0 L148.2 243.2 L149.2 242.3 L150.2 241.5 L151.2 240.6 L152.2 239.8 L153.2 238.9 L154.2 238.1 L155.2 237.3 L156.2 236.5 L157.2 235.7 L158.2 234.9 L159.2 234.2 L160.2 233.4 L161.2 232.7 L162.2 231.9 L163.2 231.2 L164.2 230.4 L165.2 229.7 L166.2 229.0 L167.2 228.2 L168.2 227.5 L169.2 226.8 L170.2 226.1 L171.2 225.4 L172.2 224.7 L173.2 224.0 L174.2 223.3 L175.2 222.6 L176.2 221.9 L177.2 221.2 L178.2 220.5 L179.2 219.8 L180.2 219.2 L181.2 218.5 L182.2 217.8 L183.2 217.1 L184.2 216.5 L185.2 215.8 L186.2 215.2 L187.2 214.5 L188.2 213.9 L189.2 213.2 L190.2 212.6 L191.2 212.0 L192.2 211.3 L193.2 210.7 L194.2 210.1 L195.2 209.5 L196.2 208.8 L197.2 208.2 L198.2 207.6 L199.2 207.0 L200.2 206.4 L201.2 205.8 L202.2 205.2 L203.2 204.6 L204.2 204.0 L205.2 203.5 L206.2 202.9 L207.2 202.3 L208.2 201.7 L209.2 201.1 L210.2 200.6 L211.2 200.0 L212.2 199.5 L213.2 198.9 L214.2 198.3 L215.2 197.8 L216.2 197.2 L217.2 196.7 L218.2 196.2 L219.2 195.6 L220.2 195.1 L221.2 194.5 L222.2 194.0 L223.2 193.5 L224.2 193.0 L225.2 192.5 L226.2 191.9 L227.2 191.4 L228.2 190.9 L229.2 190.4 L230.2 189.9 L231.2 189.4 L232.2 188.9 L233.2 188.4 L234.2 187.9 L235.2 187.4 L236.2 186.9 L237.2 186.5 L238.2 186.0 L239.2 185.5 L240.2 185.0 L241.2 184.6 L242.2 184.1 L243.2 183.6 L244.2 183.2 L245.2 182.7 L246.2 182.3 L247.2 181.8 L248.2 181.3 L249.2 180.9 L250.2 180.5 L251.2 180.0 L252.2 179.6 L253.2 179.1 L254.2 178.7 L255.2 178.3 L256.2 177.8 L257.2 177.4 L258.2 177.0 L259.2 176.6 L260.2 176.2 L261.2 175.7 L262.2 175.3 L263.2 174.9 L264.2 174.5 L265.2 174.1 L266.2 173.7 L267.2 173.3 L268.2 172.9 L269.2 172.5 L270.2 172.1 L271.2 171.7 L272.2 171.3 L273.2 171.0 L274.2 170.6 L275.2 170.2 L276.2 169.8 L277.2 169.4 L278.2 169.1 L279.2 168.7 L280.2 168.3 L281.2 168.0 L282.2 167.6 L283.2 167.2 L284.2 166.9 L285.2 166.5 L286.2 166.2 L287.2 165.8 L288.2 165.5 L289.2 165.1 L290.2 164.8 L291.2 164.4 L292.2 164.1 L293.2 163.7 L294.2 163.4 L295.2 163.1 L296.2 162.7 L297.2 162.4 L298.2 162.1 L299.2 161.7 L300.2 161.4 L301.2 161.1 L302.2 160.8 L303.2 160.5 L304.2 160.1 L305.2 159.8 L306.2 159.5 L307.2 159.2 L308.2 158.9 L309.2 158.6 L310.2 158.3 L311.2 158.0 L312.2 157.7 L313.2 157.4 L314.2 157.1 L315.2 156.8 L316.2 156.5 L317.2 156.2 L318.2 155.9 L319.2 155.6 L320.2 155.3 L321.2 155.0 L322.2 154.8 L323.2 154.5 L324.2 154.2 L325.2 153.9 L326.2 153.6 L327.2 153.4 L328.2 153.1 L329.2 152.8 L330.2 152.5 L331.2 152.3 L332.2 152.0 L333.2 151.7 L334.2 151.5 L335.2 151.2 L336.2 151.0 L337.2 150.7 L338.2 150.4 L339.2 150.2 L340.2 149.9 L341.2 149.7 L342.2 149.4 L343.2 149.2 L344.2 148.9 L345.2 148.7 L346.2 148.4 L347.2 148.2 L348.2 147.9 L349.2 147.7 L350.2 147.4 L351.2 147.2 L352.2 147.0 L353.2 146.7 L354.2 146.5 L355.2 146.3 L356.2 146.0 L357.2 145.8 L358.2 145.6 L359.2 145.3 L360.2 145.1 L361.2 144.9 L362.2 144.7 L363.2 144.4 L364.2 144.2 L365.2 144.0 L366.2 143.8 L367.2 143.5 L368.2 143.3 L369.2 143.1 L370.2 142.9 L371.2 142.7 L372.2 142.5 L373.2 142.3 L374.2 142.1 L375.2 141.8 L376.2 141.6 L377.2 141.4 L378.2 141.2 L379.2 141.0 L380.2 140.8 L381.2 140.6 L382.2 140.4 L383.2 140.2 L384.2 140.0 L385.2 139.8 L386.2 139.6 L387.2 139.4 L388.2 139.3 L389.2 139.1 L390.2 138.9 L391.2 138.7 L392.2 138.5 L393.2 138.3 L394.2 138.1 L395.2 137.9 L396.2 137.8 L397.2 137.6 L398.2 137.4 L399.2 137.2 L400.2 137.0 L401.2 136.9 L402.2 136.7 L403.2 136.5 L404.2 136.3 L405.2 136.2 L406.2 136.0 L407.2 135.8 L408.2 135.7 L409.2 135.5 L410.2 135.3 L411.2 135.2 L412.2 135.0 L413.2 134.8 L414.2 134.7 L415.2 134.5 L416.2 134.3 L417.2 134.2 L418.2 134.0 L419.2 133.9 L420.2 133.7 L421.2 133.5 L422.2 133.4 L423.2 133.2 L424.2 133.1 L425.2 132.9 L426.2 132.8 L427.2 132.6 L428.2 132.5 L429.2 132.3 L430.2 132.2 L431.2 132.0 L432.2 131.9 L433.2 131.8 L434.2 131.6 L435.2 131.5 L436.2 131.3 L437.2 131.2 L438.2 131.0 L439.2 130.9 L440.2 130.8 L441.2 130.6 L442.2 130.5 L443.2 130.4 L444.2 130.2 L445.2 130.1 L446.2 130.0 L447.2 129.8 L448.2 129.7 L449.2 129.6 L450.2 129.4 L451.2 129.3 L452.2 129.2 L453.2 129.1 L454.2 128.9 L455.2 128.8 L456.2 128.7 L457.2 128.6 L458.2 128.4 L459.2 128.3 L460.2 128.2 L461.2 128.1 L462.2 127.9 L463.2 127.8 L464.2 127.7 L465.2 127.6 L466.2 127.5 L467.2 127.4 L468.2 127.2 L469.2 127.1 L470.2 127.0 L471.2 126.9 L472.2 126.8 L473.2 126.7 L474.2 126.6 L475.2 126.5 L476.2 126.4 L477.2 126.2 L478.2 126.1 L479.2 126.0 L480.2 125.9 L481.2 125.8 L482.2 125.7 L483.2 125.6 L484.2 125.5 L485.2 125.4 L486.2 125.3 L487.2 125.2 L488.2 125.1 L489.2 125.0 L490.2 124.9 L491.2 124.8 L492.2 124.7 L493.2 124.6 L494.2 124.5 L495.2 124.4 L496.2 124.3 L497.2 124.2 L498.2 124.1 L499.2 124.0 L500.2 123.9 L501.2 123.8 L502.2 123.7 L503.2 123.6 L504.2 123.5 L505.2 123.5 L506.2 123.4 L507.2 123.3 L508.2 123.2 L509.2 123.1 L510.2 123.0 L511.2 122.9 L512.2 122.8 L513.2 122.7 L514.2 122.7 L515.2 122.6 L516.2 122.5 L517.2 122.4 L518.2 122.3 L519.2 122.2 L520.2 122.1 L521.2 122.1 L522.2 122.0 L523.2 121.9 L524.2 121.8 L525.2 121.7 L526.2 121.6 L527.2 121.6 L528.2 121.5 L529.2 121.4 L530.2 121.3 L531.2 121.2 L532.2 121.2 L533.2 121.1 L534.2 121.0 L535.2 120.9 L536.2 120.8 L537.2 120.8 L538.2 120.7 L539.2 120.6 L540.2 120.5 L541.2 120.5 L542.2 120.4 L543.2 120.3 L544.2 120.2 L545.2 120.2 L546.2 120.1 L547.2 120.0 L548.2 119.9 L549.2 119.9 L550.2 119.8 L551.2 119.7 L552.2 119.6 L552.6 119.6" fill="none" stroke="#ff0000" stroke-width="1.6" stroke-dasharray="7.6 5.3"/>
<path d="M92.2 283.3 L92.5 282.9 L92.7 282.4 L93.0 282.0 L93.2 281.6 L93.5 281.2 L93.7 280.8 L94.0 280.3 L94.2 279.9 L94.5 279.5 L94.7 279.1 L95.0 278.6 L95.2 278.2 L95.5 277.8 L95.7 277.4 L96.0 276.9 L96.2 276.5 L96.5 276.1 L96.7 275.7 L97.0 275.3 L97.2 274.8 L97.5 274.4 L97.7 274.0 L98.0 273.6 L98.2 273.2 L98.5 272.8 L98.7 272.3 L99.0 271.9 L99.2 271.5 L99.5 271.1 L99.7 270.7 L100.0 270.2 L100.2 269.8 L100.5 269.4 L100.7 269.0 L101.0 268.6 L101.2 268.2 L101.5 267.7 L101.7 267.3 L102.0 266.9 L102.2 266.5 L102.5 266.1 L102.7 265.7 L103.0 265.2 L103.2 264.8 L103.5 264.4 L103.7 264.0 L104.0 263.6 L104.2 263.2 L104.5 262.7 L104.7 262.3 L105.0 261.9 L105.2 261.5 L105.5 261.1 L105.7 260.7 L106.0 260.3 L106.2 259.9 L106.5 259.5 L106.7 259.1 L107.0 258.7 L107.2 258.3 L107.5 257.9 L107.7 257.5 L108.0 257.1 L108.2 256.7 L108.5 256.3 L108.7 255.9 L109.0 255.5 L109.2 255.1 L109.5 254.8 L109.7 254.4 L110.0 254.0 L110.2 253.6 L110.5 253.2 L110.7 252.8 L111.0 252.4 L111.2 252.1 L111.5 251.7 L111.7 251.3 L112.0 250.9 L112.2 250.5 L112.5 250.2 L112.7 249.8 L113.0 249.4 L113.2 249.0 L113.5 248.7 L113.7 248.3 L114.0 247.9 L114.2 247.6 L114.5 247.2 L114.7 246.8 L115.0 246.5 L115.2 246.1 L115.5 245.8 L115.7 245.4 L116.0 245.1 L116.2 244.7 L116.5 244.4 L116.7 244.0 L117.0 243.7 L117.2 243.3 L117.5 243.0 L117.7 242.7 L118.0 242.3 L118.2 242.0 L118.5 241.6 L118.7 241.3 L119.0 241.0 L119.2 240.6 L119.5 240.3 L119.7 240.0 L120.0 239.6 L120.2 239.3 L120.5 239.0 L120.7 238.7 L121.0 238.3 L121.2 238.0 L121.5 237.7 L121.7 237.4 L122.0 237.1 L122.2 236.7 L122.5 236.4 L122.7 236.1 L123.0 235.8 L123.2 235.5 L123.5 235.2 L123.7 234.9 L124.0 234.5 L124.2 234.2 L124.5 233.9 L124.7 233.6 L125.0 233.3 L125.2 233.0 L125.5 232.7 L125.7 232.4 L126.0 232.1 L126.2 231.8 L126.5 231.5 L126.7 231.2 L127.0 230.9 L127.2 230.6 L127.5 230.4 L127.7 230.1 L128.0 229.8 L128.2 229.5 L128.4 229.2 L128.7 228.9 L128.9 228.7 L129.2 228.4 L129.4 228.1 L129.7 227.8 L129.9 227.6 L130.2 227.3 L131.2 226.2 L132.2 225.2 L133.2 224.1 L134.2 223.0 L135.2 221.9 L136.2 220.9 L137.2 219.7 L138.2 218.6 L139.2 217.5 L140.2 216.4 L141.2 215.3 L142.2 214.2 L143.2 213.0 L144.2 211.9 L145.2 210.8 L146.2 209.7 L147.2 208.5 L148.2 207.4 L149.2 206.3 L150.2 205.2 L151.2 204.1 L152.2 203.0 L153.2 202.0 L154.2 201.0 L155.2 200.1 L156.2 199.1 L157.2 198.2 L158.2 197.3 L159.2 196.4 L160.2 195.5 L161.2 194.6 L162.2 193.7 L163.2 192.8 L164.2 191.9 L165.2 191.1 L166.2 190.2 L167.2 189.4 L168.2 188.6 L169.2 187.8 L170.2 186.9 L171.2 186.1 L172.2 185.4 L173.2 184.6 L174.2 183.8 L175.2 183.0 L176.2 182.3 L177.2 181.6 L178.2 180.8 L179.2 180.1 L180.2 179.4 L181.2 178.7 L182.2 178.0 L183.2 177.3 L184.2 176.6 L185.2 175.9 L186.2 175.2 L187.2 174.6 L188.2 173.9 L189.2 173.3 L190.2 172.6 L191.2 172.0 L192.2 171.4 L193.2 170.8 L194.2 170.2 L195.2 169.6 L196.2 169.0 L197.2 168.4 L198.2 167.8 L199.2 167.2 L200.2 166.6 L201.2 166.1 L202.2 165.5 L203.2 165.0 L204.2 164.4 L205.2 163.9 L206.2 163.4 L207.2 162.8 L208.2 162.3 L209.2 161.8 L210.2 161.3 L211.2 160.8 L212.2 160.3 L213.2 159.8 L214.2 159.3 L215.2 158.8 L216.2 158.3 L217.2 157.9 L218.2 157.4 L219.2 156.9 L220.2 156.5 L221.2 156.0 L222.2 155.6 L223.2 155.1 L224.2 154.7 L225.2 154.3 L226.2 153.8 L227.2 153.4 L228.2 153.0 L229.2 152.6 L230.2 152.2 L231.2 151.7 L232.2 151.3 L233.2 151.0 L234.2 150.6 L235.2 150.2 L236.2 149.8 L237.2 149.4 L238.2 149.0 L239.2 148.7 L240.2 148.3 L241.2 147.9 L242.2 147.6 L243.2 147.2 L244.2 146.9 L245.2 146.5 L246.2 146.2 L247.2 145.8 L248.2 145.5 L249.2 145.2 L250.2 144.8 L251.2 144.5 L252.2 144.2 L253.2 143.9 L254.2 143.5 L255.2 143.2 L256.2 142.9 L257.2 142.6 L258.2 142.3 L259.2 142.0 L260.2 141.7 L261.2 141.4 L262.2 141.1 L263.2 140.9 L264.2 140.6 L265.2 140.3 L266.2 140.0 L267.2 139.7 L268.2 139.5 L269.2 139.2 L270.2 138.9 L271.2 138.7 L272.2 138.4 L273.2 138.2 L274.2 137.9 L275.2 137.6 L276.2 137.4 L277.2 137.1 L278.2 136.9 L279.2 136.7 L280.2 136.4 L281.2 136.2 L282.2 135.9 L283.2 135.7 L284.2 135.5 L285.2 135.2 L286.2 135.0 L287.2 134.8 L288.2 134.6 L289.2 134.3 L290.2 134.1 L291.2 133.9 L292.2 133.7 L293.2 133.5 L294.2 133.3 L295.2 133.0 L296.2 132.8 L297.2 132.6 L298.2 132.4 L299.2 132.2 L300.2 132.0 L301.2 131.8 L302.2 131.6 L303.2 131.4 L304.2 131.2 L305.2 131.0 L306.2 130.8 L307.2 130.6 L308.2 130.4 L309.2 130.2 L310.2 130.0 L311.2 129.8 L312.2 129.6 L313.2 129.5 L314.2 129.3 L315.2 129.1 L316.2 128.9 L317.2 128.7 L318.2 128.5 L319.2 128.4 L320.2 128.2 L321.2 128.0 L322.2 127.8 L323.2 127.6 L324.2 127.5 L325.2 127.3 L326.2 127.1 L327.2 127.0 L328.2 126.8 L329.2 126.6 L330.2 126.4 L331.2 126.3 L332.2 126.1 L333.2 125.9 L334.2 125.8 L335.2 125.6 L336.2 125.5 L337.2 125.3 L338.2 125.1 L339.2 125.0 L340.2 124.8 L341.2 124.7 L342.2 124.5 L343.2 124.4 L344.2 124.2 L345.2 124.0 L346.2 123.9 L347.2 123.7 L348.2 123.6 L349.2 123.4 L350.2 123.3 L351.2 123.2 L352.2 123.0 L353.2 122.9 L354.2 122.7 L355.2 122.6 L356.2 122.4 L357.2 122.3 L358.2 122.2 L359.2 122.0 L360.2 121.9 L361.2 121.7 L362.2 121.6 L363.2 121.5 L364.2 121.3 L365.2 121.2 L366.2 121.1 L367.2 120.9 L368.2 120.8 L369.2 120.7 L370.2 120.6 L371.2 120.4 L372.2 120.3 L373.2 120.2 L374.2 120.1 L375.2 119.9 L376.2 119.8 L377.2 119.7 L378.2 119.6 L379.2 119.4 L380.2 119.3 L381.2 119.2 L382.2 119.1 L383.2 119.0 L384.2 118.9 L385.2 118.7 L386.2 118.6 L387.2 118.5 L388.2 118.4 L389.2 118.3 L390.2 118.2 L391.2 118.1 L392.2 118.0 L393.2 117.8 L394.2 117.7 L395.2 117.6 L396.2 117.5 L397.2 117.4 L398.2 117.3 L399.2 117.2 L400.2 117.1 L401.2 117.0 L402.2 116.9 L403.2 116.8 L404.2 116.7 L405.2 116.6 L406.2 116.5 L407.2 116.4 L408.2 116.3 L409.2 116.2 L410.2 116.1 L411.2 116.0 L412.2 115.9 L413.2 115.8 L414.2 115.7 L415.2 115.6 L416.2 115.5 L417.2 115.4 L418.2 115.3 L419.2 115.2 L420.2 115.2 L421.2 115.1 L422.2 115.0 L423.2 114.9 L424.2 114.8 L425.2 114.7 L426.2 114.6 L427.2 114.5 L428.2 114.5 L429.2 114.4 L430.2 114.3 L431.2 114.2 L432.2 114.1 L433.2 114.0 L434.2 113.9 L435.2 113.9 L436.2 113.8 L437.2 113.7 L438.2 113.6 L439.2 113.5 L440.2 113.5 L441.2 113.4 L442.2 113.3 L443.2 113.2 L444.2 113.1 L445.2 113.1 L446.2 113.0 L447.2 112.9 L448.2 112.8 L449.2 112.8 L450.2 112.7 L451.2 112.6 L452.2 112.5 L453.2 112.5 L454.2 112.4 L455.2 112.3 L456.2 112.2 L457.2 112.2 L458.2 112.1 L459.2 112.0 L460.2 111.9 L461.2 111.9 L462.2 111.8 L463.2 111.7 L464.2 111.7 L465.2 111.6 L466.2 111.5 L467.2 111.4 L468.2 111.4 L469.2 111.3 L470.2 111.2 L471.2 111.2 L472.2 111.1 L473.2 111.0 L474.2 111.0 L475.2 110.9 L476.2 110.8 L477.2 110.8 L478.2 110.7 L479.2 110.6 L480.2 110.6 L481.2 110.5 L482.2 110.4 L483.2 110.4 L484.2 110.3 L485.2 110.3 L486.2 110.2 L487.2 110.1 L488.2 110.1 L489.2 110.0 L490.2 109.9 L491.2 109.9 L492.2 109.8 L493.2 109.7 L494.2 109.7 L495.2 109.6 L496.2 109.6 L497.2 109.5 L498.2 109.4 L499.2 109.4 L500.2 109.3 L501.2 109.2 L502.2 109.2 L503.2 109.1 L504.2 109.1 L505.2 109.0 L506.2 108.9 L507.2 108.9 L508.2 108.8 L509.2 108.8 L510.2 108.7 L511.2 108.6 L512.2 108.6 L513.2 108.5 L514.2 108.5 L515.2 108.4 L516.2 108.3 L517.2 108.3 L518.2 108.2 L519.2 108.2 L520.2 108.1 L521.2 108.0 L522.2 108.0 L523.2 107.9 L524.2 107.9 L525.2 107.8 L526.2 107.7 L527.2 107.7 L528.2 107.6 L529.2 107.6 L530.2 107.5 L531.2 107.4 L532.2 107.4 L533.2 107.3 L534.2 107.2 L535.2 107.2 L536.2 107.1 L537.2 107.1 L538.2 107.0 L539.2 106.9 L540.2 106.9 L541.2 106.8 L542.2 106.8 L543.2 106.7 L544.2 106.6 L545.2 106.6 L546.2 106.5 L547.2 106.5 L548.2 106.4 L549.2 106.3 L550.2 106.3 L551.2 106.2 L552.2 106.1 L552.6 106.1" fill="none" stroke="#ff0000" stroke-width="2.2"/>
<path d="M92.6 150.0 L92.8 146.4 L93.1 142.6 L93.3 138.9 L93.6 135.0 L93.8 130.9 L94.1 126.6 L94.3 122.4 L94.6 118.9 L94.8 116.0 L95.1 113.4 L95.3 111.1 L95.6 108.8 L95.8 106.5 L96.1 104.1 L96.3 101.6 L96.6 99.0 L96.8 96.5 L97.1 94.1 L97.3 91.7 L97.6 89.5 L97.8 87.3 L98.1 85.2 L98.3 83.2 L98.6 81.2 L98.8 79.3 L99.1 77.5 L99.3 75.8 L99.6 74.0 L99.8 72.3 L100.1 70.6 L100.3 69.0 L100.6 67.5 L100.8 66.2 L101.1 65.0 L101.3 64.0 L101.6 63.1 L101.8 62.3 L102.1 61.6 L102.3 60.9 L102.6 60.2 L102.8 59.6 L103.1 59.1 L103.3 58.6 L103.6 58.3 L103.8 57.9 L104.1 57.7 L104.3 57.5 L104.6 57.3 L104.8 57.1 L105.1 56.9 L105.3 56.8 L105.6 56.7 L105.8 56.5 L106.1 56.5 L106.3 56.4 L106.6 56.4 L106.8 56.4 L107.1 56.4 L107.3 56.5 L107.6 56.6 L107.8 56.7 L108.1 56.8 L108.3 56.9 L108.6 57.1 L108.8 57.2 L109.1 57.4 L109.3 57.5 L109.6 57.7 L109.8 57.9 L110.1 58.1 L110.3 58.3 L110.6 58.4 L110.8 58.6 L111.1 58.8 L111.3 59.0 L111.6 59.1 L111.8 59.3 L112.1 59.5 L112.3 59.7 L112.6 59.9 L112.8 60.1 L113.1 60.3 L113.3 60.5 L113.6 60.7 L113.8 60.9 L114.1 61.1 L114.3 61.3 L114.6 61.6 L114.8 61.8 L115.1 62.0 L115.3 62.3 L115.6 62.5 L115.8 62.7 L116.1 63.0 L116.3 63.2 L116.6 63.5 L116.8 63.7 L117.1 64.0 L117.3 64.3 L117.6 64.6 L117.8 64.9 L118.1 65.2 L118.3 65.5 L118.6 65.8 L118.8 66.1 L119.1 66.4 L119.3 66.8 L119.6 67.1 L119.8 67.4 L120.1 67.7 L120.3 68.0 L120.6 68.3 L120.8 68.5 L121.1 68.8 L121.3 69.1 L121.6 69.3 L121.8 69.6 L122.1 69.8 L122.3 70.1 L122.6 70.3 L122.8 70.6 L123.1 70.8 L123.3 71.0 L123.6 71.3 L123.8 71.5 L124.1 71.7 L124.3 71.9 L124.6 72.2 L124.8 72.4 L125.1 72.6 L125.3 72.8 L125.6 73.0 L125.8 73.2 L126.1 73.4 L126.3 73.5 L126.6 73.7 L126.8 73.9 L127.1 74.1 L127.3 74.2 L127.6 74.4 L127.8 74.6 L128.1 74.8 L128.3 74.9 L128.6 75.1 L128.8 75.2 L129.1 75.4 L129.3 75.6 L129.6 75.7 L129.8 75.9 L130.6 76.3 L131.6 76.8 L132.6 77.3 L133.6 77.6 L134.6 78.0 L135.6 78.3 L136.6 78.6 L137.6 78.9 L138.6 79.1 L139.6 79.3 L140.6 79.3 L141.6 79.4 L142.6 79.5 L143.6 79.5 L144.6 79.6 L145.6 79.6 L146.6 79.6 L147.6 79.5 L148.6 79.4 L149.6 79.2 L150.6 78.9 L151.6 78.6 L152.6 78.4 L153.6 78.1 L154.6 77.8 L155.6 77.6 L156.6 77.4 L157.6 77.2 L158.6 77.0 L159.6 76.8 L160.6 76.6 L161.6 76.4 L162.6 76.2 L163.6 76.0 L164.6 75.8 L165.6 75.6 L166.6 75.4 L167.6 75.2 L168.6 75.1 L169.6 74.9 L170.6 74.7 L171.6 74.5 L172.6 74.3 L173.6 74.1 L174.6 73.9 L175.6 73.8 L176.6 73.6 L177.6 73.4 L178.6 73.2 L179.6 73.1 L180.6 72.9 L181.6 72.7 L182.6 72.5 L183.6 72.4 L184.6 72.2 L185.6 72.1 L186.6 71.9 L187.6 71.7 L188.6 71.6 L189.6 71.4 L190.6 71.3 L191.6 71.1 L192.6 71.0 L193.6 70.8 L194.6 70.7 L195.6 70.5 L196.6 70.4 L197.6 70.2 L198.6 70.1 L199.6 69.9 L200.6 69.8 L201.6 69.7 L202.6 69.5 L203.6 69.4 L204.6 69.3 L205.6 69.1 L206.6 69.0 L207.6 68.9 L208.6 68.8 L209.6 68.6 L210.6 68.5 L211.6 68.4 L212.6 68.3 L213.6 68.2 L214.6 68.0 L215.6 67.9 L216.6 67.8 L217.6 67.7 L218.6 67.6 L219.6 67.5 L220.6 67.4 L221.6 67.3 L222.6 67.2 L223.6 67.1 L224.6 67.0 L225.6 66.9 L226.6 66.8 L227.6 66.7 L228.6 66.6 L229.6 66.5 L230.6 66.4 L231.6 66.3 L232.6 66.2 L233.6 66.1 L234.6 66.1 L235.6 66.0 L236.6 65.9 L237.6 65.8 L238.6 65.7 L239.6 65.6 L240.6 65.6 L241.6 65.5 L242.6 65.4 L243.6 65.3 L244.6 65.3 L245.6 65.2 L246.6 65.1 L247.6 65.1 L248.6 65.0 L249.6 64.9 L250.6 64.9 L251.6 64.8 L252.6 64.8 L253.6 64.7 L254.6 64.6 L255.6 64.6 L256.6 64.5 L257.6 64.5 L258.6 64.4 L259.6 64.4 L260.6 64.3 L261.6 64.3 L262.6 64.2 L263.6 64.2 L264.6 64.1 L265.6 64.1 L266.6 64.1 L267.6 64.0 L268.6 64.0 L269.6 63.9 L270.6 63.9 L271.6 63.9 L272.6 63.8 L273.6 63.8 L274.6 63.8 L275.6 63.7 L276.6 63.7 L277.6 63.7 L278.6 63.7 L279.6 63.6 L280.6 63.6 L281.6 63.6 L282.6 63.6 L283.6 63.5 L284.6 63.5 L285.6 63.5 L286.6 63.5 L287.6 63.5 L288.6 63.4 L289.6 63.4 L290.6 63.4 L291.6 63.4 L292.6 63.4 L293.6 63.4 L294.6 63.4 L295.6 63.4 L296.6 63.4 L297.6 63.3 L298.6 63.3 L299.6 63.3 L300.6 63.3 L301.6 63.3 L302.6 63.3 L303.6 63.3 L304.6 63.3 L305.6 63.3 L306.6 63.3 L307.6 63.3 L308.6 63.3 L309.6 63.3 L310.6 63.3 L311.6 63.3 L312.6 63.4 L313.6 63.4 L314.6 63.4 L315.6 63.4 L316.6 63.4 L317.6 63.4 L318.6 63.4 L319.6 63.4 L320.6 63.4 L321.6 63.4 L322.6 63.5 L323.6 63.5 L324.6 63.5 L325.6 63.5 L326.6 63.5 L327.6 63.5 L328.6 63.5 L329.6 63.6 L330.6 63.6 L331.6 63.6 L332.6 63.6 L333.6 63.6 L334.6 63.7 L335.6 63.7 L336.6 63.7 L337.6 63.7 L338.6 63.7 L339.6 63.8 L340.6 63.8 L341.6 63.8 L342.6 63.8 L343.6 63.9 L344.6 63.9 L345.6 63.9 L346.6 63.9 L347.6 64.0 L348.6 64.0 L349.6 64.0 L350.6 64.1 L351.6 64.1 L352.6 64.1 L353.6 64.1 L354.6 64.2 L355.6 64.2 L356.6 64.2 L357.6 64.3 L358.6 64.3 L359.6 64.3 L360.6 64.3 L361.6 64.4 L362.6 64.4 L363.6 64.4 L364.6 64.5 L365.6 64.5 L366.6 64.5 L367.6 64.6 L368.6 64.6 L369.6 64.6 L370.6 64.6 L371.6 64.7 L372.6 64.7 L373.6 64.7 L374.6 64.8 L375.6 64.8 L376.6 64.8 L377.6 64.9 L378.6 64.9 L379.6 64.9 L380.6 65.0 L381.6 65.0 L382.6 65.0 L383.6 65.1 L384.6 65.1 L385.6 65.1 L386.6 65.2 L387.6 65.2 L388.6 65.2 L389.6 65.3 L390.6 65.3 L391.6 65.3 L392.6 65.3 L393.6 65.4 L394.6 65.4 L395.6 65.4 L396.6 65.5 L397.6 65.5 L398.6 65.5 L399.6 65.6 L400.6 65.6 L401.6 65.6 L402.6 65.6 L403.6 65.7 L404.6 65.7 L405.6 65.7 L406.6 65.8 L407.6 65.8 L408.6 65.8 L409.6 65.8 L410.6 65.9 L411.6 65.9 L412.6 65.9 L413.6 65.9 L414.6 66.0 L415.6 66.0 L416.6 66.0 L417.6 66.0 L418.6 66.1 L419.6 66.1 L420.6 66.1 L421.6 66.1 L422.6 66.2 L423.6 66.2 L424.6 66.2 L425.6 66.2 L426.6 66.2 L427.6 66.3 L428.6 66.3 L429.6 66.3 L430.6 66.3 L431.6 66.3 L432.6 66.3 L433.6 66.4 L434.6 66.4 L435.6 66.4 L436.6 66.4 L437.6 66.4 L438.6 66.4 L439.6 66.4 L440.6 66.4 L441.6 66.5 L442.6 66.5 L443.6 66.5 L444.6 66.5 L445.6 66.5 L446.6 66.5 L447.6 66.5 L448.6 66.5 L449.6 66.5 L450.6 66.5 L451.6 66.5 L452.6 66.5 L453.6 66.6 L454.6 66.6 L455.6 66.6 L456.6 66.6 L457.6 66.6 L458.6 66.6 L459.6 66.6 L460.6 66.6 L461.6 66.6 L462.6 66.6 L463.6 66.6 L464.6 66.6 L465.6 66.6 L466.6 66.6 L467.6 66.6 L468.6 66.6 L469.6 66.6 L470.6 66.6 L471.6 66.6 L472.6 66.6 L473.6 66.6 L474.6 66.6 L475.6 66.6 L476.6 66.6 L477.6 66.6 L478.6 66.6 L479.6 66.6 L480.6 66.6 L481.6 66.6 L482.6 66.6 L483.6 66.6 L484.6 66.6 L485.6 66.6 L486.6 66.6 L487.6 66.6 L488.6 66.6 L489.6 66.6 L490.6 66.6 L491.6 66.6 L492.6 66.6 L493.6 66.6 L494.6 66.6 L495.6 66.6 L496.6 66.6 L497.6 66.6 L498.6 66.6 L499.6 66.6 L500.6 66.6 L501.6 66.5 L502.6 66.5 L503.6 66.5 L504.6 66.5 L505.6 66.5 L506.6 66.5 L507.6 66.5 L508.6 66.5 L509.6 66.5 L510.6 66.5 L511.6 66.5 L512.6 66.5 L513.6 66.5 L514.6 66.5 L515.6 66.5 L516.6 66.5 L517.6 66.5 L518.6 66.5 L519.6 66.5 L520.6 66.5 L521.6 66.5 L522.6 66.5 L523.6 66.5 L524.6 66.5 L525.6 66.5 L526.6 66.5 L527.6 66.5 L528.6 66.5 L529.6 66.5 L530.6 66.5 L531.6 66.5 L532.6 66.5 L533.6 66.6 L534.6 66.6 L535.6 66.6 L536.6 66.6 L537.6 66.6 L538.6 66.6 L539.6 66.6 L540.6 66.6 L541.6 66.6 L542.6 66.6 L543.6 66.6 L544.6 66.6 L545.6 66.6 L546.6 66.6 L547.6 66.6 L548.6 66.7 L549.6 66.7 L550.6 66.7 L551.6 66.7 L552.6 66.7" fill="none" stroke="#000" stroke-width="1.6" stroke-dasharray="7.6 5.3"/>
<path d="M92.0 213.0 L92.2 206.4 L92.5 200.2 L92.8 195.0 L93.0 190.4 L93.2 186.1 L93.5 182.1 L93.8 178.3 L94.0 174.9 L94.2 171.8 L94.5 169.0 L94.8 166.4 L95.0 164.0 L95.2 161.6 L95.5 159.4 L95.8 157.2 L96.0 155.2 L96.2 153.3 L96.5 151.4 L96.8 149.7 L97.0 148.1 L97.2 146.5 L97.5 145.1 L97.8 143.8 L98.0 142.5 L98.2 141.3 L98.5 140.1 L98.8 139.0 L99.0 137.9 L99.2 136.9 L99.5 135.9 L99.8 134.9 L100.0 134.0 L100.2 133.1 L100.5 132.3 L100.8 131.5 L101.0 130.7 L101.2 130.0 L101.5 129.3 L101.8 128.6 L102.0 128.0 L102.2 127.4 L102.5 126.8 L102.8 126.2 L103.0 125.7 L103.2 125.2 L103.5 124.6 L103.8 124.1 L104.0 123.7 L104.2 123.2 L104.5 122.7 L104.8 122.3 L105.0 121.9 L105.2 121.5 L105.5 121.1 L105.8 120.8 L106.0 120.5 L106.2 120.2 L106.5 119.9 L106.8 119.6 L107.0 119.4 L107.2 119.2 L107.5 119.0 L107.8 118.8 L108.0 118.6 L108.2 118.4 L108.5 118.2 L108.8 118.0 L109.0 117.8 L109.2 117.6 L109.5 117.4 L109.8 117.3 L110.0 117.1 L110.2 117.0 L110.5 116.8 L110.8 116.7 L111.0 116.5 L111.2 116.4 L111.5 116.3 L111.8 116.2 L112.0 116.1 L112.2 116.0 L112.5 115.9 L112.8 115.8 L113.0 115.8 L113.2 115.7 L113.5 115.6 L113.8 115.6 L114.0 115.6 L114.2 115.5 L114.5 115.5 L114.8 115.5 L115.0 115.5 L115.2 115.5 L115.5 115.4 L115.8 115.4 L116.0 115.4 L116.2 115.4 L116.5 115.4 L116.8 115.4 L117.0 115.4 L117.2 115.4 L117.5 115.3 L117.8 115.3 L118.0 115.3 L118.2 115.3 L118.5 115.3 L118.8 115.3 L119.0 115.3 L119.2 115.2 L119.5 115.2 L119.8 115.2 L120.0 115.2 L120.2 115.2 L120.5 115.1 L120.8 115.1 L121.0 115.1 L121.2 115.0 L121.5 114.9 L121.8 114.8 L122.0 114.8 L122.2 114.7 L122.5 114.6 L122.8 114.4 L123.0 114.3 L123.2 114.2 L123.5 114.1 L123.8 113.9 L124.0 113.8 L124.2 113.6 L124.5 113.5 L124.8 113.4 L125.0 113.2 L125.2 113.1 L125.5 113.0 L125.8 112.8 L126.0 112.7 L126.2 112.6 L126.5 112.4 L126.8 112.3 L127.0 112.2 L127.2 112.0 L127.5 111.9 L127.8 111.7 L128.0 111.6 L128.2 111.4 L128.5 111.3 L128.8 111.1 L129.0 111.0 L129.2 110.8 L129.5 110.7 L129.8 110.5 L130.0 110.4 L131.0 109.7 L132.0 109.1 L133.0 108.5 L134.0 107.9 L135.0 107.4 L136.0 106.9 L137.0 106.3 L138.0 105.8 L139.0 105.4 L140.0 104.9 L141.0 104.4 L142.0 103.9 L143.0 103.4 L144.0 102.9 L145.0 102.4 L146.0 101.8 L147.0 101.3 L148.0 100.7 L149.0 100.2 L150.0 99.7 L151.0 99.2 L152.0 98.8 L153.0 98.3 L154.0 97.9 L155.0 97.4 L156.0 97.0 L157.0 96.6 L158.0 96.2 L159.0 95.8 L160.0 95.4 L161.0 95.0 L162.0 94.7 L163.0 94.3 L164.0 93.9 L165.0 93.5 L166.0 93.2 L167.0 92.8 L168.0 92.5 L169.0 92.1 L170.0 91.8 L171.0 91.4 L172.0 91.1 L173.0 90.7 L174.0 90.4 L175.0 90.1 L176.0 89.8 L177.0 89.5 L178.0 89.1 L179.0 88.8 L180.0 88.5 L181.0 88.2 L182.0 87.9 L183.0 87.6 L184.0 87.4 L185.0 87.1 L186.0 86.8 L187.0 86.5 L188.0 86.2 L189.0 86.0 L190.0 85.7 L191.0 85.4 L192.0 85.2 L193.0 84.9 L194.0 84.7 L195.0 84.4 L196.0 84.2 L197.0 84.0 L198.0 83.7 L199.0 83.5 L200.0 83.3 L201.0 83.0 L202.0 82.8 L203.0 82.6 L204.0 82.4 L205.0 82.2 L206.0 82.0 L207.0 81.7 L208.0 81.5 L209.0 81.3 L210.0 81.1 L211.0 80.9 L212.0 80.8 L213.0 80.6 L214.0 80.4 L215.0 80.2 L216.0 80.0 L217.0 79.8 L218.0 79.7 L219.0 79.5 L220.0 79.3 L221.0 79.2 L222.0 79.0 L223.0 78.8 L224.0 78.7 L225.0 78.5 L226.0 78.4 L227.0 78.2 L228.0 78.1 L229.0 77.9 L230.0 77.8 L231.0 77.7 L232.0 77.5 L233.0 77.4 L234.0 77.3 L235.0 77.1 L236.0 77.0 L237.0 76.9 L238.0 76.7 L239.0 76.6 L240.0 76.5 L241.0 76.4 L242.0 76.3 L243.0 76.2 L244.0 76.0 L245.0 75.9 L246.0 75.8 L247.0 75.7 L248.0 75.6 L249.0 75.5 L250.0 75.4 L251.0 75.3 L252.0 75.2 L253.0 75.1 L254.0 75.0 L255.0 74.9 L256.0 74.8 L257.0 74.7 L258.0 74.7 L259.0 74.6 L260.0 74.5 L261.0 74.4 L262.0 74.3 L263.0 74.2 L264.0 74.2 L265.0 74.1 L266.0 74.0 L267.0 73.9 L268.0 73.8 L269.0 73.8 L270.0 73.7 L271.0 73.6 L272.0 73.6 L273.0 73.5 L274.0 73.4 L275.0 73.4 L276.0 73.3 L277.0 73.2 L278.0 73.2 L279.0 73.1 L280.0 73.0 L281.0 73.0 L282.0 72.9 L283.0 72.8 L284.0 72.8 L285.0 72.7 L286.0 72.7 L287.0 72.6 L288.0 72.6 L289.0 72.5 L290.0 72.5 L291.0 72.4 L292.0 72.4 L293.0 72.3 L294.0 72.3 L295.0 72.2 L296.0 72.2 L297.0 72.1 L298.0 72.1 L299.0 72.0 L300.0 72.0 L301.0 71.9 L302.0 71.9 L303.0 71.9 L304.0 71.8 L305.0 71.8 L306.0 71.7 L307.0 71.7 L308.0 71.7 L309.0 71.6 L310.0 71.6 L311.0 71.6 L312.0 71.5 L313.0 71.5 L314.0 71.5 L315.0 71.4 L316.0 71.4 L317.0 71.4 L318.0 71.3 L319.0 71.3 L320.0 71.3 L321.0 71.3 L322.0 71.2 L323.0 71.2 L324.0 71.2 L325.0 71.2 L326.0 71.1 L327.0 71.1 L328.0 71.1 L329.0 71.1 L330.0 71.1 L331.0 71.0 L332.0 71.0 L333.0 71.0 L334.0 71.0 L335.0 71.0 L336.0 71.0 L337.0 71.0 L338.0 70.9 L339.0 70.9 L340.0 70.9 L341.0 70.9 L342.0 70.9 L343.0 70.9 L344.0 70.9 L345.0 70.9 L346.0 70.9 L347.0 70.9 L348.0 70.8 L349.0 70.8 L350.0 70.8 L351.0 70.8 L352.0 70.8 L353.0 70.8 L354.0 70.8 L355.0 70.8 L356.0 70.8 L357.0 70.8 L358.0 70.8 L359.0 70.8 L360.0 70.8 L361.0 70.8 L362.0 70.8 L363.0 70.8 L364.0 70.8 L365.0 70.8 L366.0 70.8 L367.0 70.8 L368.0 70.8 L369.0 70.8 L370.0 70.9 L371.0 70.9 L372.0 70.9 L373.0 70.9 L374.0 70.9 L375.0 70.9 L376.0 70.9 L377.0 70.9 L378.0 70.9 L379.0 70.9 L380.0 70.9 L381.0 71.0 L382.0 71.0 L383.0 71.0 L384.0 71.0 L385.0 71.0 L386.0 71.0 L387.0 71.0 L388.0 71.1 L389.0 71.1 L390.0 71.1 L391.0 71.1 L392.0 71.1 L393.0 71.1 L394.0 71.1 L395.0 71.2 L396.0 71.2 L397.0 71.2 L398.0 71.2 L399.0 71.2 L400.0 71.3 L401.0 71.3 L402.0 71.3 L403.0 71.3 L404.0 71.3 L405.0 71.4 L406.0 71.4 L407.0 71.4 L408.0 71.4 L409.0 71.5 L410.0 71.5 L411.0 71.5 L412.0 71.5 L413.0 71.5 L414.0 71.6 L415.0 71.6 L416.0 71.6 L417.0 71.6 L418.0 71.7 L419.0 71.7 L420.0 71.7 L421.0 71.7 L422.0 71.8 L423.0 71.8 L424.0 71.8 L425.0 71.9 L426.0 71.9 L427.0 71.9 L428.0 71.9 L429.0 72.0 L430.0 72.0 L431.0 72.0 L432.0 72.1 L433.0 72.1 L434.0 72.1 L435.0 72.1 L436.0 72.2 L437.0 72.2 L438.0 72.2 L439.0 72.3 L440.0 72.3 L441.0 72.3 L442.0 72.3 L443.0 72.4 L444.0 72.4 L445.0 72.4 L446.0 72.5 L447.0 72.5 L448.0 72.5 L449.0 72.6 L450.0 72.6 L451.0 72.6 L452.0 72.7 L453.0 72.7 L454.0 72.7 L455.0 72.8 L456.0 72.8 L457.0 72.8 L458.0 72.8 L459.0 72.9 L460.0 72.9 L461.0 72.9 L462.0 73.0 L463.0 73.0 L464.0 73.0 L465.0 73.1 L466.0 73.1 L467.0 73.1 L468.0 73.2 L469.0 73.2 L470.0 73.2 L471.0 73.3 L472.0 73.3 L473.0 73.3 L474.0 73.4 L475.0 73.4 L476.0 73.4 L477.0 73.5 L478.0 73.5 L479.0 73.5 L480.0 73.6 L481.0 73.6 L482.0 73.6 L483.0 73.6 L484.0 73.7 L485.0 73.7 L486.0 73.7 L487.0 73.8 L488.0 73.8 L489.0 73.8 L490.0 73.9 L491.0 73.9 L492.0 73.9 L493.0 74.0 L494.0 74.0 L495.0 74.0 L496.0 74.0 L497.0 74.1 L498.0 74.1 L499.0 74.1 L500.0 74.2 L501.0 74.2 L502.0 74.2 L503.0 74.3 L504.0 74.3 L505.0 74.3 L506.0 74.3 L507.0 74.4 L508.0 74.4 L509.0 74.4 L510.0 74.4 L511.0 74.5 L512.0 74.5 L513.0 74.5 L514.0 74.6 L515.0 74.6 L516.0 74.6 L517.0 74.6 L518.0 74.7 L519.0 74.7 L520.0 74.7 L521.0 74.7 L522.0 74.8 L523.0 74.8 L524.0 74.8 L525.0 74.8 L526.0 74.9 L527.0 74.9 L528.0 74.9 L529.0 74.9 L530.0 74.9 L531.0 75.0 L532.0 75.0 L533.0 75.0 L534.0 75.0 L535.0 75.0 L536.0 75.1 L537.0 75.1 L538.0 75.1 L539.0 75.1 L540.0 75.1 L541.0 75.2 L542.0 75.2 L543.0 75.2 L544.0 75.2 L545.0 75.2 L546.0 75.2 L547.0 75.3 L548.0 75.3 L549.0 75.3 L550.0 75.3 L551.0 75.3 L552.0 75.3 L552.6 75.3" fill="none" stroke="#000" stroke-width="1.6" stroke-dasharray="7.6 5.3"/>
<path d="M92.0 190.0 L92.2 178.4 L92.5 167.8 L92.8 158.3 L93.0 150.0 L93.2 142.3 L93.5 135.4 L93.8 130.5 L94.0 128.0 L94.2 126.0 L94.5 124.5 L94.8 123.2 L95.0 122.1 L95.2 120.9 L95.5 119.5 L95.8 117.9 L96.0 116.1 L96.2 114.3 L96.5 112.4 L96.8 110.5 L97.0 108.8 L97.2 107.1 L97.5 105.6 L97.8 104.3 L98.0 103.1 L98.2 101.9 L98.5 100.7 L98.8 99.6 L99.0 98.6 L99.2 97.6 L99.5 96.7 L99.8 95.8 L100.0 95.1 L100.2 94.4 L100.5 93.9 L100.8 93.4 L101.0 92.9 L101.2 92.4 L101.5 92.0 L101.8 91.6 L102.0 91.2 L102.2 90.9 L102.5 90.5 L102.8 90.2 L103.0 90.0 L103.2 89.7 L103.5 89.5 L103.8 89.3 L104.0 89.2 L104.2 89.0 L104.5 88.9 L104.8 88.7 L105.0 88.6 L105.2 88.4 L105.5 88.3 L105.8 88.1 L106.0 88.0 L106.2 87.9 L106.5 87.8 L106.8 87.7 L107.0 87.6 L107.2 87.5 L107.5 87.5 L107.8 87.4 L108.0 87.4 L108.2 87.3 L108.5 87.3 L108.8 87.3 L109.0 87.3 L109.2 87.3 L109.5 87.3 L109.8 87.3 L110.0 87.3 L110.2 87.4 L110.5 87.4 L110.8 87.4 L111.0 87.4 L111.2 87.4 L111.5 87.5 L111.8 87.5 L112.0 87.5 L112.2 87.5 L112.5 87.6 L112.8 87.6 L113.0 87.6 L113.2 87.7 L113.5 87.7 L113.8 87.8 L114.0 87.8 L114.2 87.9 L114.5 88.0 L114.8 88.1 L115.0 88.1 L115.2 88.2 L115.5 88.3 L115.8 88.4 L116.0 88.5 L116.2 88.5 L116.5 88.6 L116.8 88.7 L117.0 88.8 L117.2 88.8 L117.5 88.9 L117.8 88.9 L118.0 89.0 L118.2 89.0 L118.5 89.1 L118.8 89.1 L119.0 89.2 L119.2 89.2 L119.5 89.3 L119.8 89.3 L120.0 89.3 L120.2 89.4 L120.5 89.4 L120.8 89.5 L121.0 89.5 L121.2 89.5 L121.5 89.5 L121.8 89.6 L122.0 89.6 L122.2 89.6 L122.5 89.6 L122.8 89.7 L123.0 89.7 L123.2 89.7 L123.5 89.7 L123.8 89.7 L124.0 89.7 L124.2 89.8 L124.5 89.8 L124.8 89.8 L125.0 89.8 L125.2 89.8 L125.5 89.8 L125.8 89.9 L126.0 89.9 L126.2 89.9 L126.5 89.9 L126.8 89.9 L127.0 90.0 L127.2 90.0 L127.5 90.0 L127.8 90.1 L128.0 90.1 L128.2 90.1 L128.5 90.2 L128.8 90.2 L129.0 90.3 L129.2 90.3 L129.5 90.3 L129.8 90.4 L130.0 90.4 L131.0 90.5 L132.0 90.7 L133.0 90.7 L134.0 90.7 L135.0 90.7 L136.0 90.6 L137.0 90.6 L138.0 90.5 L139.0 90.4 L140.0 90.3 L141.0 90.2 L142.0 90.0 L143.0 89.8 L144.0 89.6 L145.0 89.4 L146.0 89.1 L147.0 88.9 L148.0 88.7 L149.0 88.5 L150.0 88.2 L151.0 87.9 L152.0 87.6 L153.0 87.2 L154.0 86.9 L155.0 86.5 L156.0 86.2 L157.0 85.9 L158.0 85.6 L159.0 85.3 L160.0 85.1 L161.0 84.8 L162.0 84.5 L163.0 84.2 L164.0 83.9 L165.0 83.7 L166.0 83.4 L167.0 83.1 L168.0 82.9 L169.0 82.6 L170.0 82.4 L171.0 82.1 L172.0 81.9 L173.0 81.6 L174.0 81.4 L175.0 81.1 L176.0 80.9 L177.0 80.6 L178.0 80.4 L179.0 80.2 L180.0 79.9 L181.0 79.7 L182.0 79.5 L183.0 79.3 L184.0 79.0 L185.0 78.8 L186.0 78.6 L187.0 78.4 L188.0 78.2 L189.0 78.0 L190.0 77.8 L191.0 77.6 L192.0 77.4 L193.0 77.2 L194.0 77.0 L195.0 76.8 L196.0 76.7 L197.0 76.5 L198.0 76.3 L199.0 76.1 L200.0 76.0 L201.0 75.8 L202.0 75.6 L203.0 75.5 L204.0 75.3 L205.0 75.2 L206.0 75.0 L207.0 74.9 L208.0 74.7 L209.0 74.6 L210.0 74.4 L211.0 74.3 L212.0 74.1 L213.0 74.0 L214.0 73.9 L215.0 73.7 L216.0 73.6 L217.0 73.5 L218.0 73.4 L219.0 73.2 L220.0 73.1 L221.0 73.0 L222.0 72.9 L223.0 72.8 L224.0 72.7 L225.0 72.6 L226.0 72.4 L227.0 72.3 L228.0 72.2 L229.0 72.1 L230.0 72.0 L231.0 71.9 L232.0 71.8 L233.0 71.8 L234.0 71.7 L235.0 71.6 L236.0 71.5 L237.0 71.4 L238.0 71.3 L239.0 71.2 L240.0 71.1 L241.0 71.1 L242.0 71.0 L243.0 70.9 L244.0 70.8 L245.0 70.8 L246.0 70.7 L247.0 70.6 L248.0 70.6 L249.0 70.5 L250.0 70.4 L251.0 70.4 L252.0 70.3 L253.0 70.2 L254.0 70.2 L255.0 70.1 L256.0 70.0 L257.0 70.0 L258.0 69.9 L259.0 69.9 L260.0 69.8 L261.0 69.8 L262.0 69.7 L263.0 69.7 L264.0 69.6 L265.0 69.6 L266.0 69.5 L267.0 69.5 L268.0 69.4 L269.0 69.4 L270.0 69.3 L271.0 69.3 L272.0 69.2 L273.0 69.2 L274.0 69.1 L275.0 69.1 L276.0 69.1 L277.0 69.0 L278.0 69.0 L279.0 68.9 L280.0 68.9 L281.0 68.9 L282.0 68.8 L283.0 68.8 L284.0 68.7 L285.0 68.7 L286.0 68.7 L287.0 68.6 L288.0 68.6 L289.0 68.6 L290.0 68.5 L291.0 68.5 L292.0 68.5 L293.0 68.4 L294.0 68.4 L295.0 68.4 L296.0 68.4 L297.0 68.3 L298.0 68.3 L299.0 68.3 L300.0 68.2 L301.0 68.2 L302.0 68.2 L303.0 68.2 L304.0 68.1 L305.0 68.1 L306.0 68.1 L307.0 68.1 L308.0 68.1 L309.0 68.0 L310.0 68.0 L311.0 68.0 L312.0 68.0 L313.0 67.9 L314.0 67.9 L315.0 67.9 L316.0 67.9 L317.0 67.9 L318.0 67.9 L319.0 67.8 L320.0 67.8 L321.0 67.8 L322.0 67.8 L323.0 67.8 L324.0 67.8 L325.0 67.8 L326.0 67.7 L327.0 67.7 L328.0 67.7 L329.0 67.7 L330.0 67.7 L331.0 67.7 L332.0 67.7 L333.0 67.7 L334.0 67.7 L335.0 67.7 L336.0 67.6 L337.0 67.6 L338.0 67.6 L339.0 67.6 L340.0 67.6 L341.0 67.6 L342.0 67.6 L343.0 67.6 L344.0 67.6 L345.0 67.6 L346.0 67.6 L347.0 67.6 L348.0 67.6 L349.0 67.6 L350.0 67.6 L351.0 67.6 L352.0 67.6 L353.0 67.6 L354.0 67.6 L355.0 67.6 L356.0 67.6 L357.0 67.6 L358.0 67.6 L359.0 67.6 L360.0 67.6 L361.0 67.6 L362.0 67.6 L363.0 67.6 L364.0 67.6 L365.0 67.6 L366.0 67.6 L367.0 67.6 L368.0 67.6 L369.0 67.6 L370.0 67.6 L371.0 67.7 L372.0 67.7 L373.0 67.7 L374.0 67.7 L375.0 67.7 L376.0 67.7 L377.0 67.7 L378.0 67.7 L379.0 67.7 L380.0 67.7 L381.0 67.7 L382.0 67.8 L383.0 67.8 L384.0 67.8 L385.0 67.8 L386.0 67.8 L387.0 67.8 L388.0 67.8 L389.0 67.8 L390.0 67.8 L391.0 67.9 L392.0 67.9 L393.0 67.9 L394.0 67.9 L395.0 67.9 L396.0 67.9 L397.0 67.9 L398.0 68.0 L399.0 68.0 L400.0 68.0 L401.0 68.0 L402.0 68.0 L403.0 68.0 L404.0 68.1 L405.0 68.1 L406.0 68.1 L407.0 68.1 L408.0 68.1 L409.0 68.1 L410.0 68.2 L411.0 68.2 L412.0 68.2 L413.0 68.2 L414.0 68.2 L415.0 68.3 L416.0 68.3 L417.0 68.3 L418.0 68.3 L419.0 68.3 L420.0 68.3 L421.0 68.4 L422.0 68.4 L423.0 68.4 L424.0 68.4 L425.0 68.5 L426.0 68.5 L427.0 68.5 L428.0 68.5 L429.0 68.5 L430.0 68.6 L431.0 68.6 L432.0 68.6 L433.0 68.6 L434.0 68.6 L435.0 68.7 L436.0 68.7 L437.0 68.7 L438.0 68.7 L439.0 68.8 L440.0 68.8 L441.0 68.8 L442.0 68.8 L443.0 68.8 L444.0 68.9 L445.0 68.9 L446.0 68.9 L447.0 68.9 L448.0 69.0 L449.0 69.0 L450.0 69.0 L451.0 69.0 L452.0 69.1 L453.0 69.1 L454.0 69.1 L455.0 69.1 L456.0 69.2 L457.0 69.2 L458.0 69.2 L459.0 69.2 L460.0 69.3 L461.0 69.3 L462.0 69.3 L463.0 69.3 L464.0 69.3 L465.0 69.4 L466.0 69.4 L467.0 69.4 L468.0 69.4 L469.0 69.5 L470.0 69.5 L471.0 69.5 L472.0 69.5 L473.0 69.6 L474.0 69.6 L475.0 69.6 L476.0 69.6 L477.0 69.7 L478.0 69.7 L479.0 69.7 L480.0 69.7 L481.0 69.8 L482.0 69.8 L483.0 69.8 L484.0 69.8 L485.0 69.9 L486.0 69.9 L487.0 69.9 L488.0 69.9 L489.0 70.0 L490.0 70.0 L491.0 70.0 L492.0 70.0 L493.0 70.1 L494.0 70.1 L495.0 70.1 L496.0 70.1 L497.0 70.1 L498.0 70.2 L499.0 70.2 L500.0 70.2 L501.0 70.2 L502.0 70.3 L503.0 70.3 L504.0 70.3 L505.0 70.3 L506.0 70.4 L507.0 70.4 L508.0 70.4 L509.0 70.4 L510.0 70.4 L511.0 70.5 L512.0 70.5 L513.0 70.5 L514.0 70.5 L515.0 70.6 L516.0 70.6 L517.0 70.6 L518.0 70.6 L519.0 70.6 L520.0 70.7 L521.0 70.7 L522.0 70.7 L523.0 70.7 L524.0 70.7 L525.0 70.8 L526.0 70.8 L527.0 70.8 L528.0 70.8 L529.0 70.8 L530.0 70.9 L531.0 70.9 L532.0 70.9 L533.0 70.9 L534.0 70.9 L535.0 70.9 L536.0 71.0 L537.0 71.0 L538.0 71.0 L539.0 71.0 L540.0 71.0 L541.0 71.0 L542.0 71.1 L543.0 71.1 L544.0 71.1 L545.0 71.1 L546.0 71.1 L547.0 71.1 L548.0 71.2 L549.0 71.2 L550.0 71.2 L551.0 71.2 L552.0 71.2 L552.6 71.2" fill="none" stroke="#000" stroke-width="2.2"/>
<path d="M91.8 326.2 L92.0 326.2 L92.3 326.2 L92.5 326.2 L92.8 326.2 L93.0 326.2 L93.3 326.2 L93.5 326.2 L93.8 326.2 L94.0 326.2 L94.3 326.2 L94.5 326.2 L94.8 326.2 L95.0 326.2 L95.3 326.2 L95.5 326.2 L95.8 326.2 L96.0 326.3 L96.3 326.3 L96.5 326.3 L96.8 326.3 L97.0 326.3 L97.3 326.3 L97.5 326.3 L97.8 326.3 L98.0 326.3 L98.3 326.3 L98.5 326.3 L98.8 326.3 L99.0 326.3 L99.3 326.4 L99.5 326.4 L99.8 326.4 L100.0 326.4 L100.3 326.4 L100.5 326.4 L100.8 326.4 L101.0 326.4 L101.3 326.4 L101.5 326.4 L101.8 326.5 L102.0 326.5 L102.3 326.5 L102.5 326.5 L102.8 326.5 L103.0 326.5 L103.3 326.5 L103.5 326.6 L103.8 326.6 L104.0 326.6 L104.3 326.6 L104.5 326.6 L104.8 326.6 L105.0 326.6 L105.3 326.7 L105.5 326.7 L105.8 326.7 L106.0 326.7 L106.3 326.7 L106.5 326.7 L106.8 326.7 L107.0 326.8 L107.3 326.8 L107.5 326.8 L107.8 326.8 L108.0 326.8 L108.3 326.8 L108.5 326.9 L108.8 326.9 L109.0 326.9 L109.3 326.9 L109.5 327.0 L109.8 327.0 L110.0 327.0 L110.3 327.1 L110.5 327.1 L110.8 327.2 L111.0 327.2 L111.3 327.2 L111.5 327.3 L111.8 327.3 L112.0 327.4 L112.3 327.4 L112.5 327.5 L112.8 327.5 L113.0 327.6 L113.3 327.6 L113.5 327.7 L113.8 327.7 L114.0 327.8 L114.3 327.8 L114.5 327.9 L114.8 327.9 L115.0 328.0 L115.3 328.0 L115.5 328.1 L115.8 328.1 L116.0 328.2 L116.3 328.3 L116.5 328.3 L116.8 328.4 L117.0 328.4 L117.3 328.5 L117.5 328.5 L117.8 328.6 L118.0 328.7 L118.3 328.7 L118.5 328.8 L118.8 328.8 L119.0 328.9 L119.3 328.9 L119.5 329.0 L119.8 329.1 L120.0 329.1 L120.3 329.2 L120.5 329.2 L120.8 329.3 L121.0 329.4 L121.3 329.4 L121.5 329.5 L121.8 329.5 L122.0 329.6 L122.3 329.7 L122.5 329.7 L122.8 329.8 L123.0 329.9 L123.3 329.9 L123.5 330.0 L123.8 330.1 L124.0 330.1 L124.3 330.2 L124.5 330.3 L124.8 330.4 L125.0 330.4 L125.3 330.5 L125.5 330.6 L125.8 330.6 L126.0 330.7 L126.3 330.8 L126.5 330.9 L126.8 330.9 L127.0 331.0 L127.3 331.1 L127.5 331.2 L127.8 331.2 L128.1 331.3 L128.3 331.4 L128.6 331.5 L128.8 331.5 L129.1 331.6 L129.3 331.7 L129.6 331.8 L129.8 331.9 L130.8 332.2 L131.8 332.5 L132.8 332.8 L133.8 333.1 L134.8 333.4 L135.8 333.7 L136.8 334.0 L137.8 334.3 L138.8 334.6 L139.8 335.0 L140.8 335.3 L141.8 335.6 L142.8 335.9 L143.8 336.2 L144.8 336.5 L145.8 336.9 L146.8 337.2 L147.8 337.5 L148.8 337.8 L149.8 338.2 L150.8 338.5 L151.8 338.8 L152.8 339.2 L153.8 339.5 L154.8 339.9 L155.8 340.2 L156.8 340.6 L157.8 340.9 L158.8 341.3 L159.8 341.6 L160.8 342.0 L161.8 342.4 L162.8 342.7 L163.8 343.1 L164.8 343.4 L165.8 343.8 L166.8 344.1 L167.8 344.5 L168.8 344.8 L169.8 345.1 L170.8 345.5 L171.8 345.8 L172.8 346.2 L173.8 346.5 L174.8 346.8 L175.8 347.2 L176.8 347.5 L177.8 347.8 L178.8 348.1 L179.8 348.5 L180.8 348.8 L181.8 349.1 L182.8 349.4 L183.8 349.7 L184.8 350.0 L185.8 350.3 L186.8 350.6 L187.8 351.0 L188.8 351.4 L189.8 351.8 L190.8 352.2 L191.8 352.6 L192.8 353.0 L193.8 353.4 L194.8 353.8 L195.8 354.2 L196.8 354.6 L197.8 355.0 L198.8 355.4 L199.8 355.8 L200.8 356.3 L201.8 356.7 L202.8 357.1 L203.8 357.5 L204.8 357.9 L205.8 358.4 L206.8 358.8 L207.8 359.2 L208.8 359.6 L209.8 360.1 L210.8 360.5 L211.8 360.9 L212.8 361.4 L213.8 361.8 L214.8 362.2 L215.8 362.6 L216.8 363.1 L217.8 363.5 L218.8 363.9 L219.8 364.4 L220.8 364.8 L221.8 365.2 L222.8 365.6 L223.8 366.1 L224.8 366.5 L225.8 366.9 L226.8 367.3 L227.8 367.8 L228.8 368.2 L229.8 368.6 L230.8 369.0 L231.8 369.4 L232.8 369.9 L233.8 370.3 L234.8 370.7 L235.8 371.1 L236.8 371.5 L237.8 371.9 L238.8 372.3 L239.8 372.7 L240.8 373.1 L241.8 373.5 L242.8 373.9 L243.8 374.3 L244.8 374.7 L245.8 375.1 L246.8 375.5 L247.8 375.9 L248.8 376.3 L249.8 376.7 L250.8 377.0 L251.8 377.4 L252.8 377.8 L253.8 378.2 L254.8 378.6 L255.8 379.0 L256.8 379.3 L257.8 379.7 L258.8 380.1 L259.8 380.4 L260.8 380.8 L261.8 381.2 L262.8 381.6 L263.8 381.9 L264.8 382.3 L265.8 382.6 L266.8 383.0 L267.8 383.4 L268.8 383.7 L269.8 384.1 L270.8 384.4 L271.8 384.8 L272.8 385.1 L273.8 385.5 L274.8 385.8 L275.8 386.2 L276.8 386.5 L277.8 386.8 L278.8 387.2 L279.8 387.5 L280.8 387.9 L281.8 388.2 L282.8 388.5 L283.8 388.9 L284.8 389.2 L285.8 389.5 L286.8 389.8 L287.8 390.2 L288.8 390.5 L289.8 390.8 L290.8 391.1 L291.8 391.5 L292.8 391.8 L293.8 392.1 L294.8 392.4 L295.8 392.7 L296.8 393.0 L297.8 393.3 L298.8 393.6 L299.8 393.9 L300.8 394.2 L301.8 394.5 L302.8 394.8 L303.8 395.1 L304.8 395.4 L305.8 395.7 L306.8 396.0 L307.8 396.3 L308.8 396.6 L309.8 396.9 L310.8 397.2 L311.8 397.5 L312.8 397.8 L313.8 398.0 L314.8 398.3 L315.8 398.6 L316.8 398.9 L317.8 399.2 L318.8 399.4 L319.8 399.7 L320.8 400.0 L321.8 400.3 L322.8 400.5 L323.8 400.8 L324.8 401.1 L325.8 401.4 L326.8 401.6 L327.8 401.9 L328.8 402.2 L329.8 402.4 L330.8 402.7 L331.8 403.0 L332.8 403.2 L333.8 403.5 L334.8 403.7 L335.8 404.0 L336.8 404.3 L337.8 404.5 L338.8 404.8 L339.8 405.0 L340.8 405.3 L341.8 405.5 L342.8 405.8 L343.8 406.0 L344.8 406.3 L345.8 406.6 L346.8 406.8 L347.8 407.1 L348.8 407.3 L349.8 407.5 L350.8 407.8 L351.8 408.0 L352.8 408.3 L353.8 408.5 L354.8 408.8 L355.8 409.0 L356.8 409.3 L357.8 409.5 L358.8 409.8 L359.8 410.0 L360.8 410.2 L361.8 410.5 L362.8 410.7 L363.8 411.0 L364.8 411.2 L365.8 411.5 L366.8 411.7 L367.8 411.9 L368.8 412.2 L369.8 412.4 L370.8 412.7 L371.8 412.9 L372.8 413.1 L373.8 413.4 L374.8 413.6 L375.8 413.8 L376.8 414.1 L377.8 414.3 L378.8 414.6 L379.8 414.8 L380.8 415.0 L381.8 415.3 L382.8 415.5 L383.8 415.7 L384.8 416.0 L385.8 416.2 L386.8 416.5 L387.8 416.7 L388.8 416.9 L389.8 417.2 L390.8 417.4 L391.8 417.6 L392.8 417.9 L393.8 418.1 L394.8 418.3 L395.8 418.6 L396.8 418.8 L397.8 419.0 L398.8 419.3 L399.8 419.5 L400.8 419.7 L401.8 420.0 L402.8 420.2 L403.8 420.4 L404.8 420.7 L405.8 420.9 L406.8 421.1 L407.8 421.4 L408.8 421.6 L409.8 421.8 L410.8 422.1 L411.8 422.3 L412.8 422.5 L413.8 422.7 L414.8 423.0 L415.8 423.2 L416.8 423.4 L417.8 423.7 L418.8 423.9 L419.8 424.1 L420.8 424.3 L421.8 424.6 L422.8 424.8 L423.8 425.0 L424.8 425.2 L425.8 425.4 L426.8 425.7 L427.8 425.9 L428.8 426.1 L429.8 426.3 L430.8 426.5 L431.8 426.8 L432.8 427.0 L433.8 427.2 L434.8 427.4 L435.8 427.6 L436.8 427.8 L437.8 428.0 L438.8 428.3 L439.8 428.5 L440.8 428.7 L441.8 428.9 L442.8 429.1 L443.8 429.3 L444.8 429.5 L445.8 429.7 L446.8 429.9 L447.8 430.1 L448.8 430.3 L449.8 430.5 L450.8 430.7 L451.8 430.9 L452.8 431.1 L453.8 431.3 L454.8 431.5 L455.8 431.7 L456.8 431.9 L457.8 432.1 L458.8 432.3 L459.8 432.5 L460.8 432.7 L461.8 432.9 L462.8 433.1 L463.8 433.3 L464.8 433.4 L465.8 433.6 L466.8 433.8 L467.8 434.0 L468.8 434.2 L469.8 434.4 L470.8 434.5 L471.8 434.7 L472.8 434.9 L473.8 435.1 L474.8 435.2 L475.8 435.4 L476.8 435.6 L477.8 435.8 L478.8 435.9 L479.8 436.1 L480.8 436.3 L481.8 436.4 L482.8 436.6 L483.8 436.8 L484.8 436.9 L485.8 437.1 L486.8 437.2 L487.8 437.4 L488.8 437.5 L489.8 437.7 L490.8 437.9 L491.8 438.0 L492.8 438.2 L493.8 438.3 L494.8 438.5 L495.8 438.6 L496.8 438.7 L497.8 438.9 L498.8 439.0 L499.8 439.2 L500.8 439.3 L501.8 439.4 L502.8 439.6 L503.8 439.7 L504.8 439.8 L505.8 440.0 L506.8 440.1 L507.8 440.2 L508.8 440.4 L509.8 440.5 L510.8 440.6 L511.8 440.7 L512.8 440.8 L513.8 441.0 L514.8 441.1 L515.8 441.2 L516.8 441.3 L517.8 441.4 L518.8 441.6 L519.8 441.7 L520.8 441.8 L521.8 441.9 L522.8 442.0 L523.8 442.1 L524.8 442.2 L525.8 442.4 L526.8 442.5 L527.8 442.6 L528.8 442.7 L529.8 442.8 L530.8 442.9 L531.8 443.0 L532.8 443.1 L533.8 443.2 L534.8 443.3 L535.8 443.4 L536.8 443.6 L537.8 443.7 L538.8 443.8 L539.8 443.9 L540.8 444.0 L541.8 444.1 L542.8 444.2 L543.8 444.3 L544.8 444.4 L545.8 444.5 L546.8 444.6 L547.8 444.7 L548.8 444.8 L549.8 445.0 L550.8 445.1 L551.8 445.2 L552.6 445.3" fill="none" stroke="#0000ff" stroke-width="1.6" stroke-dasharray="7.6 5.3"/>
<path d="M91.8 336.5 L92.0 336.8 L92.3 337.1 L92.5 337.4 L92.8 337.7 L93.0 338.1 L93.3 338.4 L93.5 338.7 L93.8 339.1 L94.0 339.4 L94.3 339.7 L94.5 340.1 L94.8 340.5 L95.0 340.8 L95.3 341.2 L95.5 341.6 L95.8 341.9 L96.0 342.3 L96.3 342.7 L96.5 343.1 L96.8 343.5 L97.0 343.9 L97.3 344.3 L97.5 344.7 L97.8 345.1 L98.0 345.5 L98.3 345.9 L98.5 346.3 L98.8 346.7 L99.0 347.1 L99.3 347.6 L99.5 348.0 L99.8 348.4 L100.0 348.9 L100.3 349.4 L100.5 349.8 L100.8 350.3 L101.0 350.8 L101.3 351.3 L101.5 351.9 L101.8 352.4 L102.0 352.9 L102.3 353.5 L102.5 354.0 L102.8 354.5 L103.0 355.1 L103.3 355.6 L103.5 356.1 L103.8 356.7 L104.0 357.2 L104.3 357.7 L104.5 358.2 L104.8 358.7 L105.0 359.1 L105.3 359.6 L105.5 360.0 L105.8 360.5 L106.0 360.9 L106.3 361.3 L106.5 361.6 L106.8 362.0 L107.0 362.3 L107.3 362.7 L107.5 363.1 L107.8 363.4 L108.0 363.8 L108.3 364.2 L108.5 364.6 L108.8 365.0 L109.0 365.4 L109.3 365.9 L109.5 366.4 L109.8 366.8 L110.0 367.3 L110.3 367.8 L110.5 368.3 L110.8 368.8 L111.0 369.4 L111.3 369.9 L111.5 370.4 L111.8 371.0 L112.0 371.5 L112.3 372.1 L112.5 372.7 L112.8 373.2 L113.0 373.8 L113.3 374.4 L113.5 375.0 L113.8 375.6 L114.0 376.2 L114.3 376.8 L114.5 377.4 L114.8 378.0 L115.0 378.7 L115.3 379.3 L115.5 380.0 L115.8 380.6 L116.0 381.3 L116.3 382.0 L116.5 382.7 L116.8 383.4 L117.0 384.1 L117.3 384.8 L117.5 385.5 L117.8 386.2 L118.0 386.9 L118.3 387.5 L118.5 388.2 L118.8 388.9 L119.0 389.6 L119.3 390.2 L119.5 390.9 L119.8 391.5 L120.0 392.2 L120.3 392.8 L120.5 393.4 L120.8 394.0 L121.0 394.7 L121.3 395.3 L121.5 395.9 L121.8 396.5 L122.0 397.1 L122.3 397.7 L122.5 398.3 L122.8 398.9 L123.0 399.5 L123.3 400.1 L123.5 400.7 L123.8 401.3 L124.0 401.9 L124.3 402.5 L124.5 403.0 L124.8 403.6 L125.0 404.1 L125.3 404.7 L125.5 405.2 L125.8 405.8 L126.0 406.3 L126.3 406.8 L126.5 407.3 L126.8 407.8 L127.0 408.3 L127.3 408.8 L127.5 409.3 L127.8 409.8 L128.1 410.3 L128.3 410.8 L128.6 411.3 L128.8 411.7 L129.1 412.2 L129.3 412.7 L129.6 413.1 L129.8 413.6 L130.8 415.3 L131.8 417.0 L132.8 418.6 L133.8 420.0 L134.8 421.4 L135.8 422.8 L136.8 424.1 L137.8 425.3 L138.8 426.5 L139.8 427.7 L140.8 429.0 L141.8 430.2 L142.8 431.3 L143.8 432.3 L144.8 433.1 L145.8 433.8 L146.8 434.5 L147.8 435.0 L148.8 435.6 L149.8 436.1 L150.8 436.6 L151.8 437.0 L152.8 437.5 L153.8 438.0 L154.8 438.5 L155.8 438.9 L156.8 439.2 L157.8 439.5 L158.8 439.8 L159.8 440.1 L160.8 440.3 L161.8 440.5 L162.8 440.7 L163.8 440.9 L164.8 441.1 L165.8 441.3 L166.8 441.5 L167.8 441.8 L168.8 442.0 L169.8 442.2 L170.8 442.5 L171.8 442.7 L172.8 443.0 L173.8 443.2 L174.8 443.5 L175.8 443.8 L176.8 444.0 L177.8 444.3 L178.8 444.5 L179.8 444.8 L180.8 445.2 L181.8 445.6 L182.8 445.9 L183.8 446.3 L184.8 446.6 L185.8 446.8 L186.8 447.0 L187.8 447.1 L188.8 447.1 L189.8 447.1 L190.8 447.1 L191.8 447.1 L192.8 447.3 L193.8 447.5 L194.8 447.8 L195.8 448.0 L196.8 448.3 L197.8 448.5 L198.8 448.7 L199.8 449.0 L200.8 449.2 L201.8 449.4 L202.8 449.7 L203.8 449.9 L204.8 450.1 L205.8 450.4 L206.8 450.6 L207.8 450.8 L208.8 451.0 L209.8 451.3 L210.8 451.5 L211.8 451.7 L212.8 451.9 L213.8 452.2 L214.8 452.4 L215.8 452.6 L216.8 452.8 L217.8 453.0 L218.8 453.2 L219.8 453.5 L220.8 453.7 L221.8 453.9 L222.8 454.1 L223.8 454.3 L224.8 454.5 L225.8 454.7 L226.8 454.9 L227.8 455.2 L228.8 455.4 L229.8 455.6 L230.8 455.8 L231.8 456.0 L232.8 456.2 L233.8 456.4 L234.8 456.6 L235.8 456.8 L236.8 457.0 L237.8 457.2 L238.8 457.4 L239.8 457.6 L240.8 457.8 L241.8 458.0 L242.8 458.2 L243.8 458.4 L244.8 458.6 L245.8 458.7 L246.8 458.9 L247.8 459.1 L248.8 459.3 L249.8 459.5 L250.8 459.7 L251.8 459.9 L252.8 460.1 L253.8 460.2 L254.8 460.4 L255.8 460.6 L256.8 460.8 L257.8 461.0 L258.8 461.2 L259.8 461.3 L260.8 461.5 L261.8 461.7 L262.8 461.9 L263.8 462.1 L264.8 462.2 L265.8 462.4 L266.8 462.6 L267.8 462.7 L268.8 462.9 L269.8 463.1 L270.8 463.3 L271.8 463.4 L272.8 463.6 L273.8 463.8 L274.8 463.9 L275.8 464.1 L276.8 464.3 L277.8 464.4 L278.8 464.6 L279.8 464.8 L280.8 464.9 L281.8 465.1 L282.8 465.3 L283.8 465.4 L284.8 465.6 L285.8 465.7 L286.8 465.9 L287.8 466.0 L288.8 466.2 L289.8 466.4 L290.8 466.5 L291.8 466.7 L292.8 466.8 L293.8 467.0 L294.8 467.1 L295.8 467.3 L296.8 467.4 L297.8 467.6 L298.8 467.7 L299.8 467.9 L300.8 468.0 L301.8 468.2 L302.8 468.3 L303.8 468.5 L304.8 468.6 L305.8 468.8 L306.8 468.9 L307.8 469.0 L308.8 469.2 L309.8 469.3 L310.8 469.5 L311.8 469.6 L312.8 469.8 L313.8 469.9 L314.8 470.0 L315.8 470.2 L316.8 470.3 L317.8 470.4 L318.8 470.6 L319.8 470.7 L320.8 470.8 L321.8 471.0 L322.8 471.1 L323.8 471.2 L324.8 471.4 L325.8 471.5 L326.8 471.6 L327.8 471.8 L328.8 471.9 L329.8 472.0 L330.8 472.2 L331.8 472.3 L332.8 472.4 L333.8 472.5 L334.8 472.7 L335.8 472.8 L336.8 472.9 L337.8 473.0 L338.8 473.2 L339.8 473.3 L340.8 473.4 L341.8 473.5 L342.8 473.6 L343.8 473.8 L344.8 473.9 L345.8 474.0 L346.8 474.1 L347.8 474.2 L348.8 474.4 L349.8 474.5 L350.8 474.6 L351.8 474.7 L352.8 474.8 L353.8 474.9 L354.8 475.0 L355.8 475.2 L356.8 475.3 L357.8 475.4 L358.8 475.5 L359.8 475.6 L360.8 475.7 L361.8 475.8 L362.8 475.9 L363.8 476.0 L364.8 476.2 L365.8 476.3 L366.8 476.4 L367.8 476.5 L368.8 476.6 L369.8 476.7 L370.8 476.8 L371.8 476.9 L372.8 477.0 L373.8 477.1 L374.8 477.2 L375.8 477.3 L376.8 477.4 L377.8 477.5 L378.8 477.6 L379.8 477.7 L380.8 477.8 L381.8 477.9 L382.8 478.0 L383.8 478.1 L384.8 478.2 L385.8 478.3 L386.8 478.4 L387.8 478.5 L388.8 478.6 L389.8 478.7 L390.8 478.8 L391.8 478.9 L392.8 479.0 L393.8 479.1 L394.8 479.2 L395.8 479.3 L396.8 479.4 L397.8 479.4 L398.8 479.5 L399.8 479.6 L400.8 479.7 L401.8 479.8 L402.8 479.9 L403.8 480.0 L404.8 480.1 L405.8 480.2 L406.8 480.3 L407.8 480.3 L408.8 480.4 L409.8 480.5 L410.8 480.6 L411.8 480.7 L412.8 480.8 L413.8 480.9 L414.8 480.9 L415.8 481.0 L416.8 481.1 L417.8 481.2 L418.8 481.3 L419.8 481.4 L420.8 481.5 L421.8 481.5 L422.8 481.6 L423.8 481.7 L424.8 481.8 L425.8 481.9 L426.8 481.9 L427.8 482.0 L428.8 482.1 L429.8 482.2 L430.8 482.3 L431.8 482.3 L432.8 482.4 L433.8 482.5 L434.8 482.6 L435.8 482.7 L436.8 482.7 L437.8 482.8 L438.8 482.9 L439.8 483.0 L440.8 483.0 L441.8 483.1 L442.8 483.2 L443.8 483.3 L444.8 483.3 L445.8 483.4 L446.8 483.5 L447.8 483.6 L448.8 483.6 L449.8 483.7 L450.8 483.8 L451.8 483.9 L452.8 483.9 L453.8 484.0 L454.8 484.1 L455.8 484.1 L456.8 484.2 L457.8 484.3 L458.8 484.4 L459.8 484.4 L460.8 484.5 L461.8 484.6 L462.8 484.6 L463.8 484.7 L464.8 484.8 L465.8 484.9 L466.8 484.9 L467.8 485.0 L468.8 485.1 L469.8 485.1 L470.8 485.2 L471.8 485.3 L472.8 485.3 L473.8 485.4 L474.8 485.5 L475.8 485.5 L476.8 485.6 L477.8 485.7 L478.8 485.7 L479.8 485.8 L480.8 485.9 L481.8 485.9 L482.8 486.0 L483.8 486.1 L484.8 486.1 L485.8 486.2 L486.8 486.3 L487.8 486.3 L488.8 486.4 L489.8 486.5 L490.8 486.5 L491.8 486.6 L492.8 486.6 L493.8 486.7 L494.8 486.8 L495.8 486.8 L496.8 486.9 L497.8 487.0 L498.8 487.0 L499.8 487.1 L500.8 487.2 L501.8 487.2 L502.8 487.3 L503.8 487.3 L504.8 487.4 L505.8 487.5 L506.8 487.5 L507.8 487.6 L508.8 487.6 L509.8 487.7 L510.8 487.8 L511.8 487.8 L512.8 487.9 L513.8 488.0 L514.8 488.0 L515.8 488.1 L516.8 488.1 L517.8 488.2 L518.8 488.3 L519.8 488.3 L520.8 488.4 L521.8 488.4 L522.8 488.5 L523.8 488.6 L524.8 488.6 L525.8 488.7 L526.8 488.7 L527.8 488.8 L528.8 488.9 L529.8 488.9 L530.8 489.0 L531.8 489.0 L532.8 489.1 L533.8 489.2 L534.8 489.2 L535.8 489.3 L536.8 489.3 L537.8 489.4 L538.8 489.5 L539.8 489.5 L540.8 489.6 L541.8 489.6 L542.8 489.7 L543.8 489.8 L544.8 489.8 L545.8 489.9 L546.8 489.9 L547.8 490.0 L548.8 490.1 L549.8 490.1 L550.8 490.2 L551.8 490.2 L552.6 490.3" fill="none" stroke="#0000ff" stroke-width="1.6" stroke-dasharray="7.6 5.3"/>
<path d="M91.8 326.6 L92.0 326.6 L92.3 326.6 L92.5 326.7 L92.8 326.7 L93.0 326.7 L93.3 326.8 L93.5 326.8 L93.8 326.8 L94.0 326.9 L94.3 326.9 L94.5 326.9 L94.8 327.0 L95.0 327.0 L95.3 327.0 L95.5 327.1 L95.8 327.1 L96.0 327.2 L96.3 327.2 L96.5 327.3 L96.8 327.3 L97.0 327.3 L97.3 327.4 L97.5 327.4 L97.8 327.5 L98.0 327.5 L98.3 327.6 L98.5 327.6 L98.8 327.7 L99.0 327.8 L99.3 327.8 L99.5 327.9 L99.8 327.9 L100.0 328.0 L100.3 328.0 L100.5 328.1 L100.8 328.1 L101.0 328.2 L101.3 328.3 L101.5 328.3 L101.8 328.4 L102.0 328.4 L102.3 328.5 L102.5 328.6 L102.8 328.6 L103.0 328.7 L103.3 328.8 L103.5 328.8 L103.8 328.9 L104.0 329.0 L104.3 329.1 L104.5 329.2 L104.8 329.2 L105.0 329.3 L105.3 329.4 L105.5 329.5 L105.8 329.6 L106.0 329.7 L106.3 329.8 L106.5 329.9 L106.8 329.9 L107.0 330.0 L107.3 330.1 L107.5 330.2 L107.8 330.3 L108.0 330.4 L108.3 330.6 L108.5 330.7 L108.8 330.8 L109.0 330.9 L109.3 331.0 L109.5 331.1 L109.8 331.2 L110.0 331.4 L110.3 331.5 L110.5 331.6 L110.8 331.8 L111.0 331.9 L111.3 332.0 L111.5 332.2 L111.8 332.3 L112.0 332.5 L112.3 332.6 L112.5 332.7 L112.8 332.9 L113.0 333.0 L113.3 333.2 L113.5 333.3 L113.8 333.5 L114.0 333.7 L114.3 333.8 L114.5 334.0 L114.8 334.1 L115.0 334.3 L115.3 334.4 L115.5 334.6 L115.8 334.8 L116.0 334.9 L116.3 335.1 L116.5 335.3 L116.8 335.4 L117.0 335.6 L117.3 335.8 L117.5 336.0 L117.8 336.1 L118.0 336.3 L118.3 336.5 L118.5 336.7 L118.8 336.9 L119.0 337.1 L119.3 337.3 L119.5 337.5 L119.8 337.7 L120.0 337.9 L120.3 338.1 L120.5 338.3 L120.8 338.5 L121.0 338.7 L121.3 338.9 L121.5 339.1 L121.8 339.3 L122.0 339.5 L122.3 339.7 L122.5 339.9 L122.8 340.2 L123.0 340.4 L123.3 340.6 L123.5 340.8 L123.8 341.0 L124.0 341.2 L124.3 341.4 L124.5 341.6 L124.8 341.8 L125.0 342.1 L125.3 342.3 L125.5 342.5 L125.8 342.7 L126.0 342.9 L126.3 343.1 L126.5 343.3 L126.8 343.5 L127.0 343.7 L127.3 343.9 L127.5 344.1 L127.8 344.3 L128.1 344.6 L128.3 344.8 L128.6 345.0 L128.8 345.2 L129.1 345.4 L129.3 345.6 L129.6 345.8 L129.8 346.0 L130.8 346.9 L131.8 347.7 L132.8 348.6 L133.8 349.5 L134.8 350.3 L135.8 351.2 L136.8 352.1 L137.8 353.0 L138.8 353.9 L139.8 354.8 L140.8 355.7 L141.8 356.6 L142.8 357.5 L143.8 358.4 L144.8 359.3 L145.8 360.2 L146.8 361.1 L147.8 362.0 L148.8 363.0 L149.8 363.9 L150.8 364.9 L151.8 365.8 L152.8 366.7 L153.8 367.7 L154.8 368.5 L155.8 369.4 L156.8 370.2 L157.8 371.0 L158.8 371.7 L159.8 372.4 L160.8 373.0 L161.8 373.7 L162.8 374.3 L163.8 374.9 L164.8 375.5 L165.8 376.1 L166.8 376.7 L167.8 377.3 L168.8 377.8 L169.8 378.4 L170.8 378.9 L171.8 379.5 L172.8 380.1 L173.8 380.6 L174.8 381.2 L175.8 381.7 L176.8 382.2 L177.8 382.8 L178.8 383.3 L179.8 383.8 L180.8 384.3 L181.8 384.9 L182.8 385.4 L183.8 385.9 L184.8 386.4 L185.8 387.0 L186.8 387.5 L187.8 388.0 L188.8 388.5 L189.8 389.0 L190.8 389.5 L191.8 389.9 L192.8 390.4 L193.8 390.8 L194.8 391.2 L195.8 391.6 L196.8 392.0 L197.8 392.4 L198.8 392.8 L199.8 393.1 L200.8 393.5 L201.8 393.9 L202.8 394.2 L203.8 394.6 L204.8 395.0 L205.8 395.4 L206.8 395.8 L207.8 396.2 L208.8 396.6 L209.8 397.1 L210.8 397.5 L211.8 398.0 L212.8 398.4 L213.8 398.9 L214.8 399.3 L215.8 399.8 L216.8 400.2 L217.8 400.6 L218.8 401.0 L219.8 401.4 L220.8 401.8 L221.8 402.2 L222.8 402.6 L223.8 402.9 L224.8 403.3 L225.8 403.6 L226.8 403.9 L227.8 404.3 L228.8 404.5 L229.8 404.8 L230.8 405.1 L231.8 405.3 L232.8 405.6 L233.8 405.8 L234.8 406.0 L235.8 406.3 L236.8 406.5 L237.8 406.7 L238.8 406.9 L239.8 407.1 L240.8 407.4 L241.8 407.6 L242.8 407.8 L243.8 408.1 L244.8 408.3 L245.8 408.6 L246.8 408.9 L247.8 409.2 L248.8 409.5 L249.8 409.8 L250.8 410.2 L251.8 410.5 L252.8 410.9 L253.8 411.3 L254.8 411.7 L255.8 412.0 L256.8 412.4 L257.8 412.8 L258.8 413.2 L259.8 413.5 L260.8 413.9 L261.8 414.2 L262.8 414.6 L263.8 414.9 L264.8 415.3 L265.8 415.6 L266.8 415.9 L267.8 416.3 L268.8 416.6 L269.8 417.0 L270.8 417.3 L271.8 417.7 L272.8 418.0 L273.8 418.3 L274.8 418.7 L275.8 419.0 L276.8 419.4 L277.8 419.7 L278.8 420.0 L279.8 420.4 L280.8 420.7 L281.8 421.0 L282.8 421.3 L283.8 421.6 L284.8 421.9 L285.8 422.3 L286.8 422.6 L287.8 422.9 L288.8 423.2 L289.8 423.4 L290.8 423.7 L291.8 424.0 L292.8 424.3 L293.8 424.5 L294.8 424.8 L295.8 425.1 L296.8 425.3 L297.8 425.6 L298.8 425.8 L299.8 426.1 L300.8 426.3 L301.8 426.5 L302.8 426.8 L303.8 427.0 L304.8 427.2 L305.8 427.5 L306.8 427.7 L307.8 427.9 L308.8 428.1 L309.8 428.3 L310.8 428.6 L311.8 428.8 L312.8 429.0 L313.8 429.2 L314.8 429.4 L315.8 429.6 L316.8 429.9 L317.8 430.1 L318.8 430.3 L319.8 430.5 L320.8 430.7 L321.8 430.9 L322.8 431.2 L323.8 431.4 L324.8 431.6 L325.8 431.8 L326.8 432.0 L327.8 432.3 L328.8 432.5 L329.8 432.7 L330.8 432.9 L331.8 433.1 L332.8 433.3 L333.8 433.5 L334.8 433.7 L335.8 434.0 L336.8 434.2 L337.8 434.4 L338.8 434.6 L339.8 434.8 L340.8 435.0 L341.8 435.2 L342.8 435.4 L343.8 435.5 L344.8 435.7 L345.8 435.9 L346.8 436.1 L347.8 436.3 L348.8 436.5 L349.8 436.7 L350.8 436.9 L351.8 437.1 L352.8 437.2 L353.8 437.4 L354.8 437.6 L355.8 437.8 L356.8 437.9 L357.8 438.1 L358.8 438.3 L359.8 438.4 L360.8 438.6 L361.8 438.7 L362.8 438.9 L363.8 439.1 L364.8 439.2 L365.8 439.4 L366.8 439.5 L367.8 439.7 L368.8 439.8 L369.8 440.0 L370.8 440.1 L371.8 440.3 L372.8 440.4 L373.8 440.6 L374.8 440.8 L375.8 440.9 L376.8 441.1 L377.8 441.2 L378.8 441.4 L379.8 441.6 L380.8 441.7 L381.8 441.9 L382.8 442.1 L383.8 442.3 L384.8 442.4 L385.8 442.6 L386.8 442.8 L387.8 443.0 L388.8 443.2 L389.8 443.3 L390.8 443.5 L391.8 443.7 L392.8 443.9 L393.8 444.1 L394.8 444.3 L395.8 444.5 L396.8 444.6 L397.8 444.8 L398.8 445.0 L399.8 445.2 L400.8 445.4 L401.8 445.6 L402.8 445.7 L403.8 445.9 L404.8 446.1 L405.8 446.3 L406.8 446.4 L407.8 446.6 L408.8 446.8 L409.8 447.0 L410.8 447.1 L411.8 447.3 L412.8 447.5 L413.8 447.7 L414.8 447.8 L415.8 448.0 L416.8 448.2 L417.8 448.4 L418.8 448.5 L419.8 448.7 L420.8 448.9 L421.8 449.1 L422.8 449.2 L423.8 449.4 L424.8 449.6 L425.8 449.7 L426.8 449.9 L427.8 450.1 L428.8 450.2 L429.8 450.4 L430.8 450.5 L431.8 450.7 L432.8 450.9 L433.8 451.0 L434.8 451.2 L435.8 451.3 L436.8 451.5 L437.8 451.6 L438.8 451.8 L439.8 451.9 L440.8 452.1 L441.8 452.2 L442.8 452.3 L443.8 452.5 L444.8 452.6 L445.8 452.8 L446.8 452.9 L447.8 453.1 L448.8 453.2 L449.8 453.3 L450.8 453.5 L451.8 453.6 L452.8 453.7 L453.8 453.9 L454.8 454.0 L455.8 454.1 L456.8 454.3 L457.8 454.4 L458.8 454.5 L459.8 454.6 L460.8 454.8 L461.8 454.9 L462.8 455.0 L463.8 455.1 L464.8 455.2 L465.8 455.4 L466.8 455.5 L467.8 455.6 L468.8 455.7 L469.8 455.8 L470.8 455.9 L471.8 456.0 L472.8 456.1 L473.8 456.2 L474.8 456.3 L475.8 456.4 L476.8 456.5 L477.8 456.6 L478.8 456.7 L479.8 456.8 L480.8 456.9 L481.8 457.0 L482.8 457.1 L483.8 457.2 L484.8 457.3 L485.8 457.4 L486.8 457.5 L487.8 457.6 L488.8 457.7 L489.8 457.8 L490.8 457.9 L491.8 457.9 L492.8 458.0 L493.8 458.1 L494.8 458.2 L495.8 458.3 L496.8 458.4 L497.8 458.5 L498.8 458.6 L499.8 458.7 L500.8 458.8 L501.8 458.9 L502.8 459.0 L503.8 459.1 L504.8 459.1 L505.8 459.2 L506.8 459.3 L507.8 459.4 L508.8 459.5 L509.8 459.6 L510.8 459.7 L511.8 459.8 L512.8 459.9 L513.8 460.0 L514.8 460.1 L515.8 460.2 L516.8 460.2 L517.8 460.3 L518.8 460.4 L519.8 460.5 L520.8 460.6 L521.8 460.7 L522.8 460.8 L523.8 460.9 L524.8 461.0 L525.8 461.0 L526.8 461.1 L527.8 461.2 L528.8 461.3 L529.8 461.4 L530.8 461.5 L531.8 461.6 L532.8 461.6 L533.8 461.7 L534.8 461.8 L535.8 461.9 L536.8 462.0 L537.8 462.1 L538.8 462.2 L539.8 462.2 L540.8 462.3 L541.8 462.4 L542.8 462.5 L543.8 462.6 L544.8 462.6 L545.8 462.7 L546.8 462.8 L547.8 462.9 L548.8 463.0 L549.8 463.1 L550.8 463.1 L551.8 463.2 L552.6 463.3" fill="none" stroke="#0000ff" stroke-width="2.2"/>
<path d="M107.80 31.2 V290.2 M107.80 329.2 V522.5" stroke="#000" stroke-width="1.6" stroke-dasharray="1.4 2.95" fill="none"/>
<path d="M192.00 31.2 V290.2 M192.00 329.2 V522.5" stroke="#000" stroke-width="1.6" stroke-dasharray="1.4 2.95" fill="none"/>
<path d="M338.60 31.2 V290.2 M338.60 329.2 V522.5" stroke="#000" stroke-width="1.6" stroke-dasharray="1.4 2.95" fill="none"/>
<path d="M88.50 290.20 v-12.40 M88.50 29.20 v12.40M119.44 290.20 v-6.20 M119.44 29.20 v6.20M150.38 290.20 v-6.20 M150.38 29.20 v6.20M181.32 290.20 v-6.20 M181.32 29.20 v6.20M212.26 290.20 v-6.20 M212.26 29.20 v6.20M243.20 290.20 v-12.40 M243.20 29.20 v12.40M274.14 290.20 v-6.20 M274.14 29.20 v6.20M305.08 290.20 v-6.20 M305.08 29.20 v6.20M336.02 290.20 v-6.20 M336.02 29.20 v6.20M366.96 290.20 v-6.20 M366.96 29.20 v6.20M397.90 290.20 v-12.40 M397.90 29.20 v12.40M428.84 290.20 v-6.20 M428.84 29.20 v6.20M459.78 290.20 v-6.20 M459.78 29.20 v6.20M490.72 290.20 v-6.20 M490.72 29.20 v6.20M521.66 290.20 v-6.20 M521.66 29.20 v6.20M552.60 290.20 v-12.40 M552.60 29.20 v12.40M88.50 522.50 v-12.40 M88.50 325.00 v12.40M119.44 522.50 v-6.20 M119.44 325.00 v6.20M150.38 522.50 v-6.20 M150.38 325.00 v6.20M181.32 522.50 v-6.20 M181.32 325.00 v6.20M212.26 522.50 v-6.20 M212.26 325.00 v6.20M243.20 522.50 v-12.40 M243.20 325.00 v12.40M274.14 522.50 v-6.20 M274.14 325.00 v6.20M305.08 522.50 v-6.20 M305.08 325.00 v6.20M336.02 522.50 v-6.20 M336.02 325.00 v6.20M366.96 522.50 v-6.20 M366.96 325.00 v6.20M397.90 522.50 v-12.40 M397.90 325.00 v12.40M428.84 522.50 v-6.20 M428.84 325.00 v6.20M459.78 522.50 v-6.20 M459.78 325.00 v6.20M490.72 522.50 v-6.20 M490.72 325.00 v6.20M521.66 522.50 v-6.20 M521.66 325.00 v6.20M552.60 522.50 v-12.40 M552.60 325.00 v12.40M88.50 290.20 h12.40 M552.60 290.20 h-12.40M88.50 274.86 h6.20 M552.60 274.86 h-6.20M88.50 259.52 h6.20 M552.60 259.52 h-6.20M88.50 244.18 h6.20 M552.60 244.18 h-6.20M88.50 228.84 h6.20 M552.60 228.84 h-6.20M88.50 213.50 h12.40 M552.60 213.50 h-12.40M88.50 198.16 h6.20 M552.60 198.16 h-6.20M88.50 182.82 h6.20 M552.60 182.82 h-6.20M88.50 167.48 h6.20 M552.60 167.48 h-6.20M88.50 152.14 h6.20 M552.60 152.14 h-6.20M88.50 136.80 h12.40 M552.60 136.80 h-12.40M88.50 121.46 h6.20 M552.60 121.46 h-6.20M88.50 106.12 h6.20 M552.60 106.12 h-6.20M88.50 90.78 h6.20 M552.60 90.78 h-6.20M88.50 75.44 h6.20 M552.60 75.44 h-6.20M88.50 60.10 h12.40 M552.60 60.10 h-12.40M88.50 44.76 h6.20 M552.60 44.76 h-6.20M88.50 29.42 h6.20 M552.60 29.42 h-6.20M88.50 522.50 h12.40 M552.60 522.50 h-12.40M88.50 502.75 h6.20 M552.60 502.75 h-6.20M88.50 483.00 h6.20 M552.60 483.00 h-6.20M88.50 463.25 h6.20 M552.60 463.25 h-6.20M88.50 443.50 h6.20 M552.60 443.50 h-6.20M88.50 423.75 h12.40 M552.60 423.75 h-12.40M88.50 404.00 h6.20 M552.60 404.00 h-6.20M88.50 384.25 h6.20 M552.60 384.25 h-6.20M88.50 364.50 h6.20 M552.60 364.50 h-6.20M88.50 344.75 h6.20 M552.60 344.75 h-6.20M88.50 325.00 h12.40 M552.60 325.00 h-12.40" stroke="#000" stroke-width="1.5" fill="none"/>
<rect x="88.50" y="29.20" width="464.10" height="261.00" fill="none" stroke="#000" stroke-width="1.5"/>
<rect x="88.50" y="325.00" width="464.10" height="197.50" fill="none" stroke="#000" stroke-width="1.5"/>
<path d="M375.2 216.7 H420.8" stroke="#000" stroke-width="1.6" fill="none"/>
<path d="M375.2 240.0 H420.8" stroke="#ff0000" stroke-width="1.6" fill="none"/>
<path d="M375.2 262.8 H420.8" stroke="#0000ff" stroke-width="1.6" fill="none"/>
<path d="M429.14 209.31 L437.33 209.31M433.24 209.31 L433.24 221.60M439.68 216.92 L440.26 215.16 L441.43 214.00 L442.60 213.41 L444.36 213.41 L445.53 214.00 L446.69 215.16 L447.28 216.92 L447.28 218.09 L446.69 219.84 L445.53 221.01 L444.36 221.60 L442.60 221.60 L441.43 221.01 L440.26 219.84 L439.68 218.09 L439.68 216.92M450.21 213.41 L451.96 213.41 L451.96 209.31M454.30 213.41 L451.96 213.41 L451.96 219.26 L452.55 221.01 L453.72 221.60 L454.89 221.60M464.83 213.41 L464.83 215.16 L463.66 214.00 L462.49 213.41 L460.74 213.41 L459.56 214.00 L458.39 215.16 L457.81 216.92 L457.81 218.09 L458.39 219.84 L459.56 221.01 L460.74 221.60 L462.49 221.60 L463.66 221.01 L464.83 219.84 L464.83 215.16M464.83 219.84 L464.83 221.60M469.51 209.31 L469.51 221.60" stroke="#000" stroke-width="1.55" fill="none" stroke-linecap="round" stroke-linejoin="round"/>
<path d="M430.90 232.41 L435.00 232.41 L436.75 233.00 L437.92 234.17 L438.50 235.34 L439.09 237.09 L439.09 240.02 L438.50 241.77 L437.92 242.94 L436.75 244.11 L435.00 244.70 L430.90 244.70 L430.90 232.41M449.62 236.51 L449.62 238.26 L448.45 237.09 L447.28 236.51 L445.53 236.51 L444.36 237.09 L443.19 238.26 L442.60 240.02 L442.60 241.19 L443.19 242.94 L444.36 244.11 L445.53 244.70 L447.28 244.70 L448.45 244.11 L449.62 242.94 L449.62 238.26M449.62 242.94 L449.62 244.70M454.30 236.51 L454.30 240.02 L454.89 238.26 L456.06 237.09 L457.23 236.51 L458.98 236.51M454.30 240.02 L454.30 244.70M461.91 232.41 L461.91 242.36 L467.76 236.51M461.91 242.36 L461.91 244.70M464.25 240.02 L468.34 244.70M482.26 244.70 L482.26 232.41 L486.94 244.70 L491.62 232.41 L491.62 244.70M502.74 236.51 L502.74 238.26 L501.57 237.09 L500.40 236.51 L498.64 236.51 L497.47 237.09 L496.30 238.26 L495.72 240.02 L495.72 241.19 L496.30 242.94 L497.47 244.11 L498.64 244.70 L500.40 244.70 L501.57 244.11 L502.74 242.94 L502.74 238.26M502.74 242.94 L502.74 244.70M506.25 236.51 L508.00 236.51 L508.00 232.41M510.34 236.51 L508.00 236.51 L508.00 242.36 L508.59 244.11 L509.76 244.70 L510.93 244.70M513.27 236.51 L515.02 236.51 L515.02 232.41M517.36 236.51 L515.02 236.51 L515.02 242.36 L515.61 244.11 L516.78 244.70 L517.95 244.70M520.87 240.02 L521.46 238.26 L522.63 237.09 L523.80 236.51 L525.55 236.51 L526.72 237.09 L527.31 237.68 L527.89 238.85 L527.89 240.02 L520.87 240.02 L520.87 241.19 L521.46 242.94 L522.63 244.11 L523.80 244.70 L525.55 244.70 L526.72 244.11 L527.89 242.94M531.99 236.51 L531.99 240.02 L532.57 238.26 L533.74 237.09 L534.91 236.51 L536.67 236.51M531.99 240.02 L531.99 244.70" stroke="#ff0000" stroke-width="1.55" fill="none" stroke-linecap="round" stroke-linejoin="round"/>
<path d="M430.90 260.46 L430.90 254.61 L436.17 254.61 L437.92 255.20 L438.50 255.78 L439.09 256.95 L439.09 258.12 L438.50 259.29 L437.92 259.88 L436.17 260.46 L430.90 260.46 L430.90 266.90 L436.17 266.90 L437.92 266.31 L438.50 265.73 L439.09 264.56 L439.09 262.80 L438.50 261.63 L437.92 261.05 L436.17 260.46M449.62 258.71 L449.62 260.46 L448.45 259.29 L447.28 258.71 L445.53 258.71 L444.36 259.29 L443.19 260.46 L442.60 262.22 L442.60 263.39 L443.19 265.14 L444.36 266.31 L445.53 266.90 L447.28 266.90 L448.45 266.31 L449.62 265.14 L449.62 260.46M449.62 265.14 L449.62 266.90M454.30 258.71 L454.30 262.22 L454.89 260.46 L456.06 259.29 L457.23 258.71 L458.98 258.71M454.30 262.22 L454.30 266.90M460.15 271.00 L460.74 271.00 L461.91 270.41 L463.08 269.24 L464.25 266.90 L460.74 258.71M464.25 266.90 L467.76 258.71M470.68 262.22 L471.27 260.46 L472.44 259.29 L473.61 258.71 L475.36 258.71 L476.53 259.29 L477.70 260.46 L478.29 262.22 L478.29 263.39 L477.70 265.14 L476.53 266.31 L475.36 266.90 L473.61 266.90 L472.44 266.31 L471.27 265.14 L470.68 263.39 L470.68 262.22M482.38 258.71 L482.38 261.05 L484.14 259.29 L485.31 258.71 L487.06 258.71 L488.23 259.29 L488.82 261.05 L488.82 266.90M482.38 261.05 L482.38 266.90M492.91 265.14 L493.50 266.31 L495.25 266.90 L497.01 266.90 L498.76 266.31 L499.35 265.14 L499.35 264.56 L498.76 263.39 L497.59 262.80 L494.67 262.22 L493.50 261.63 L492.91 260.46 L493.50 259.29 L495.25 258.71 L497.01 258.71 L498.76 259.29 L499.35 260.46" stroke="#0000ff" stroke-width="1.55" fill="none" stroke-linecap="round" stroke-linejoin="round"/>
<path d="M68.05 289.48 L68.64 286.56 L69.81 284.80 L71.56 284.21 L72.73 284.21 L74.49 284.80 L75.66 286.56 L76.25 289.48 L76.25 291.24 L75.66 294.16 L74.49 295.92 L72.73 296.50 L71.56 296.50 L69.81 295.92 L68.64 294.16 L68.05 291.24 L68.05 289.48" stroke="#000" stroke-width="1.55" fill="none" stroke-linecap="round" stroke-linejoin="round"/>
<path d="M46.41 209.86 L47.58 209.27 L49.34 207.52 L49.34 219.80M56.36 212.78 L56.94 209.86 L58.11 208.10 L59.87 207.52 L61.04 207.52 L62.79 208.10 L63.96 209.86 L64.55 212.78 L64.55 214.54 L63.96 217.46 L62.79 219.22 L61.04 219.80 L59.87 219.80 L58.11 219.22 L56.94 217.46 L56.36 214.54 L56.36 212.78M68.06 212.78 L68.64 209.86 L69.81 208.10 L71.57 207.52 L72.74 207.52 L74.49 208.10 L75.66 209.86 L76.25 212.78 L76.25 214.54 L75.66 217.46 L74.49 219.22 L72.74 219.80 L71.57 219.80 L69.81 219.22 L68.64 217.46 L68.06 214.54 L68.06 212.78" stroke="#000" stroke-width="1.55" fill="none" stroke-linecap="round" stroke-linejoin="round"/>
<path d="M45.24 133.74 L45.24 133.16 L45.83 131.98 L46.41 131.40 L47.58 130.81 L49.92 130.81 L51.09 131.40 L51.68 131.98 L52.26 133.16 L52.26 134.32 L51.68 135.50 L50.51 137.25 L44.66 143.10 L52.85 143.10M56.36 136.08 L56.94 133.16 L58.11 131.40 L59.87 130.81 L61.04 130.81 L62.79 131.40 L63.96 133.16 L64.55 136.08 L64.55 137.84 L63.96 140.76 L62.79 142.51 L61.04 143.10 L59.87 143.10 L58.11 142.51 L56.94 140.76 L56.36 137.84 L56.36 136.08M68.06 136.08 L68.64 133.16 L69.81 131.40 L71.57 130.81 L72.74 130.81 L74.49 131.40 L75.66 133.16 L76.25 136.08 L76.25 137.84 L75.66 140.76 L74.49 142.51 L72.74 143.10 L71.57 143.10 L69.81 142.51 L68.64 140.76 L68.06 137.84 L68.06 136.08" stroke="#000" stroke-width="1.55" fill="none" stroke-linecap="round" stroke-linejoin="round"/>
<path d="M44.66 64.06 L45.24 65.23 L45.83 65.81 L47.58 66.40 L49.34 66.40 L51.09 65.81 L52.26 64.64 L52.85 62.89 L52.85 61.72 L52.26 59.96 L51.68 59.38 L50.51 58.79 L48.75 58.79 L52.26 54.11 L45.83 54.11M56.36 59.38 L56.94 56.45 L58.11 54.70 L59.87 54.11 L61.04 54.11 L62.79 54.70 L63.96 56.45 L64.55 59.38 L64.55 61.13 L63.96 64.06 L62.79 65.81 L61.04 66.40 L59.87 66.40 L58.11 65.81 L56.94 64.06 L56.36 61.13 L56.36 59.38M68.06 59.38 L68.64 56.45 L69.81 54.70 L71.57 54.11 L72.74 54.11 L74.49 54.70 L75.66 56.45 L76.25 59.38 L76.25 61.13 L75.66 64.06 L74.49 65.81 L72.74 66.40 L71.57 66.40 L69.81 65.81 L68.64 64.06 L68.06 61.13 L68.06 59.38" stroke="#000" stroke-width="1.55" fill="none" stroke-linecap="round" stroke-linejoin="round"/>
<path d="M67.65 521.88 L68.24 518.95 L69.41 517.20 L71.16 516.62 L72.33 516.62 L74.09 517.20 L75.26 518.95 L75.84 521.88 L75.84 523.63 L75.26 526.56 L74.09 528.31 L72.33 528.90 L71.16 528.90 L69.41 528.31 L68.24 526.56 L67.65 523.63 L67.65 521.88" stroke="#000" stroke-width="1.55" fill="none" stroke-linecap="round" stroke-linejoin="round"/>
<path d="M50.10 423.13 L50.69 420.20 L51.86 418.45 L53.61 417.86 L54.78 417.86 L56.54 418.45 L57.71 420.20 L58.29 423.13 L58.29 424.88 L57.71 427.81 L56.54 429.56 L54.78 430.15 L53.61 430.15 L51.86 429.56 L50.69 427.81 L50.10 424.88 L50.10 423.13M62.39 429.56 L62.97 428.98 L63.56 429.56 L62.97 430.15 L62.39 429.56M67.65 427.81 L68.24 428.98 L68.82 429.56 L70.58 430.15 L72.33 430.15 L74.09 429.56 L75.26 428.39 L75.84 426.64 L75.84 425.47 L75.26 423.71 L74.09 422.54 L72.33 421.96 L70.58 421.96 L68.82 422.54 L68.24 423.13 L68.82 417.86 L74.67 417.86" stroke="#000" stroke-width="1.55" fill="none" stroke-linecap="round" stroke-linejoin="round"/>
<path d="M69.41 321.45 L70.58 320.87 L72.33 319.11 L72.33 331.40" stroke="#000" stroke-width="1.55" fill="none" stroke-linecap="round" stroke-linejoin="round"/>
<path d="M84.41 306.78 L84.99 303.86 L86.16 302.10 L87.92 301.51 L89.09 301.51 L90.84 302.10 L92.01 303.86 L92.59 306.78 L92.59 308.54 L92.01 311.46 L90.84 313.22 L89.09 313.80 L87.92 313.80 L86.16 313.22 L84.99 311.46 L84.41 308.54 L84.41 306.78" stroke="#000" stroke-width="1.55" fill="none" stroke-linecap="round" stroke-linejoin="round"/>
<path d="M84.41 539.18 L84.99 536.25 L86.16 534.50 L87.92 533.92 L89.09 533.92 L90.84 534.50 L92.01 536.25 L92.59 539.18 L92.59 540.94 L92.01 543.86 L90.84 545.62 L89.09 546.20 L87.92 546.20 L86.16 545.62 L84.99 543.86 L84.41 540.94 L84.41 539.18" stroke="#000" stroke-width="1.55" fill="none" stroke-linecap="round" stroke-linejoin="round"/>
<path d="M239.11 311.46 L239.69 312.63 L240.28 313.22 L242.03 313.80 L243.79 313.80 L245.54 313.22 L246.71 312.05 L247.30 310.29 L247.30 309.12 L246.71 307.37 L245.54 306.19 L243.79 305.61 L242.03 305.61 L240.28 306.19 L239.69 306.78 L240.28 301.51 L246.13 301.51" stroke="#000" stroke-width="1.55" fill="none" stroke-linecap="round" stroke-linejoin="round"/>
<path d="M239.11 543.86 L239.69 545.03 L240.28 545.62 L242.03 546.20 L243.79 546.20 L245.54 545.62 L246.71 544.45 L247.30 542.69 L247.30 541.52 L246.71 539.77 L245.54 538.60 L243.79 538.01 L242.03 538.01 L240.28 538.60 L239.69 539.18 L240.28 533.92 L246.13 533.92" stroke="#000" stroke-width="1.55" fill="none" stroke-linecap="round" stroke-linejoin="round"/>
<path d="M389.71 303.86 L390.88 303.27 L392.64 301.51 L392.64 313.80M399.66 306.78 L400.24 303.86 L401.41 302.10 L403.17 301.51 L404.34 301.51 L406.09 302.10 L407.26 303.86 L407.85 306.78 L407.85 308.54 L407.26 311.46 L406.09 313.22 L404.34 313.80 L403.17 313.80 L401.41 313.22 L400.24 311.46 L399.66 308.54 L399.66 306.78" stroke="#000" stroke-width="1.55" fill="none" stroke-linecap="round" stroke-linejoin="round"/>
<path d="M389.71 536.25 L390.88 535.67 L392.64 533.92 L392.64 546.20M399.66 539.18 L400.24 536.25 L401.41 534.50 L403.17 533.92 L404.34 533.92 L406.09 534.50 L407.26 536.25 L407.85 539.18 L407.85 540.94 L407.26 543.86 L406.09 545.62 L404.34 546.20 L403.17 546.20 L401.41 545.62 L400.24 543.86 L399.66 540.94 L399.66 539.18" stroke="#000" stroke-width="1.55" fill="none" stroke-linecap="round" stroke-linejoin="round"/>
<path d="M544.41 303.86 L545.58 303.27 L547.33 301.51 L547.33 313.80M554.36 311.46 L554.94 312.63 L555.52 313.22 L557.28 313.80 L559.03 313.80 L560.79 313.22 L561.96 312.05 L562.55 310.29 L562.55 309.12 L561.96 307.37 L560.79 306.19 L559.03 305.61 L557.28 305.61 L555.52 306.19 L554.94 306.78 L555.52 301.51 L561.38 301.51" stroke="#000" stroke-width="1.55" fill="none" stroke-linecap="round" stroke-linejoin="round"/>
<path d="M544.41 536.25 L545.58 535.67 L547.33 533.92 L547.33 546.20M554.36 543.86 L554.94 545.03 L555.52 545.62 L557.28 546.20 L559.03 546.20 L560.79 545.62 L561.96 544.45 L562.55 542.69 L562.55 541.52 L561.96 539.77 L560.79 538.60 L559.03 538.01 L557.28 538.01 L555.52 538.60 L554.94 539.18 L555.52 533.92 L561.38 533.92" stroke="#000" stroke-width="1.55" fill="none" stroke-linecap="round" stroke-linejoin="round"/>
<path d="M259.22 564.37 L259.22 558.51 L264.49 558.51 L266.24 559.10 L266.83 559.68 L267.41 560.85 L267.41 562.02 L266.83 563.19 L266.24 563.78 L264.49 564.37 L259.22 564.37 L259.22 570.80M263.32 564.37 L267.41 570.80M277.94 562.61 L277.94 564.37 L276.77 563.19 L275.60 562.61 L273.85 562.61 L272.68 563.19 L271.51 564.37 L270.92 566.12 L270.92 567.29 L271.51 569.04 L272.68 570.21 L273.85 570.80 L275.60 570.80 L276.77 570.21 L277.94 569.04 L277.94 564.37M277.94 569.04 L277.94 570.80M289.06 558.51 L289.06 564.37 L287.89 563.19 L286.72 562.61 L284.96 562.61 L283.79 563.19 L282.62 564.37 L282.04 566.12 L282.04 567.29 L282.62 569.04 L283.79 570.21 L284.96 570.80 L286.72 570.80 L287.89 570.21 L289.06 569.04 L289.06 564.37M289.06 569.04 L289.06 570.80M293.74 562.61 L293.74 570.80M293.15 558.51 L293.74 557.93 L294.32 558.51 L293.74 559.10 L293.15 558.51M298.42 562.61 L298.42 568.46 L299.00 570.21 L300.17 570.80 L301.93 570.80 L303.10 570.21 L304.85 568.46 L304.85 562.61M304.85 568.46 L304.85 570.80M308.95 569.04 L309.53 570.21 L311.29 570.80 L313.04 570.80 L314.80 570.21 L315.38 569.04 L315.38 568.46 L314.80 567.29 L313.63 566.70 L310.70 566.12 L309.53 565.53 L308.95 564.37 L309.53 563.19 L311.29 562.61 L313.04 562.61 L314.80 563.19 L315.38 564.37M333.98 556.17 L329.89 556.17 L329.89 574.89 L333.98 574.89M338.08 558.51 L338.08 568.46 L343.93 562.61M338.08 568.46 L338.08 570.80M340.42 566.12 L344.51 570.80M348.02 562.61 L348.02 564.37 L349.19 563.19 L350.36 562.61 L352.12 562.61 L353.29 563.19 L354.46 564.37 L355.04 566.12 L355.04 567.29 L354.46 569.04 L353.29 570.21 L352.12 570.80 L350.36 570.80 L349.19 570.21 L348.02 569.04 L348.02 564.37M348.02 569.04 L348.02 574.89M365.57 564.37 L364.40 563.19 L363.23 562.61 L361.48 562.61 L360.31 563.19 L359.14 564.37 L358.55 566.12 L358.55 567.29 L359.14 569.04 L360.31 570.21 L361.48 570.80 L363.23 570.80 L364.40 570.21 L365.57 569.04M369.08 556.17 L373.18 556.17 L373.18 574.89 L369.08 574.89" stroke="#000" stroke-width="1.55" fill="none" stroke-linecap="round" stroke-linejoin="round"/>
<path d="M119.50 49.16 L119.50 43.31 L124.77 43.31 L126.52 43.90 L127.10 44.48 L127.69 45.66 L127.69 46.83 L127.10 48.00 L126.52 48.58 L124.77 49.16 L119.50 49.16 L119.50 55.60M123.59 49.16 L127.69 55.60" stroke="#000" stroke-width="1.55" fill="none" stroke-linecap="round" stroke-linejoin="round"/>
<path d="M130.85 54.23 L130.85 57.74 L131.55 57.04 L132.25 56.69 L133.31 56.69 L134.01 57.04 L134.71 57.74 L135.06 58.79 L135.06 59.49 L134.71 60.55 L134.01 61.25 L133.31 61.60 L132.25 61.60 L131.55 61.25 L130.85 60.55 L130.85 57.74M130.85 60.55 L130.85 61.60" stroke="#000" stroke-width="1.6" fill="none" stroke-linecap="round" stroke-linejoin="round"/>
<path d="M203.90 49.16 L203.90 43.31 L209.16 43.31 L210.92 43.90 L211.50 44.48 L212.09 45.66 L212.09 46.83 L211.50 48.00 L210.92 48.58 L209.16 49.16 L203.90 49.16 L203.90 55.60M208.00 49.16 L212.09 55.60" stroke="#000" stroke-width="1.55" fill="none" stroke-linecap="round" stroke-linejoin="round"/>
<path d="M215.25 57.74 L215.25 54.23 L219.81 54.23M215.25 57.74 L218.06 57.74M215.25 57.74 L215.25 61.60 L219.81 61.60M221.92 56.69 L221.92 61.60M221.57 54.23 L221.92 53.88 L222.27 54.23 L221.92 54.58 L221.57 54.23M224.73 56.69 L224.73 58.09 L225.78 57.04 L226.48 56.69 L227.53 56.69 L228.24 57.04 L228.59 58.09 L228.59 61.60M224.73 58.09 L224.73 61.60" stroke="#000" stroke-width="1.6" fill="none" stroke-linecap="round" stroke-linejoin="round"/>
<path d="M350.48 47.04 L350.48 46.45 L351.07 45.28 L351.65 44.70 L352.82 44.11 L355.16 44.11 L356.33 44.70 L356.92 45.28 L357.50 46.45 L357.50 47.62 L356.92 48.80 L355.75 50.55 L349.90 56.40 L358.09 56.40M362.18 55.81 L362.77 55.23 L363.35 55.81 L362.77 56.40 L362.18 55.81M368.03 47.04 L368.03 46.45 L368.62 45.28 L369.20 44.70 L370.38 44.11 L372.71 44.11 L373.88 44.70 L374.47 45.28 L375.06 46.45 L375.06 47.62 L374.47 48.80 L373.30 50.55 L367.45 56.40 L375.64 56.40" stroke="#000" stroke-width="1.55" fill="none" stroke-linecap="round" stroke-linejoin="round"/>
<path d="M389.15 49.96 L389.15 44.11 L394.42 44.11 L396.17 44.70 L396.76 45.28 L397.34 46.45 L397.34 47.62 L396.76 48.80 L396.17 49.38 L394.42 49.96 L389.15 49.96 L389.15 56.40M393.25 49.96 L397.34 56.40" stroke="#000" stroke-width="1.55" fill="none" stroke-linecap="round" stroke-linejoin="round"/>
<path d="M404.36 55.03 L404.36 58.54 L403.66 57.84 L402.96 57.49 L401.91 57.49 L401.20 57.84 L400.50 58.54 L400.15 59.59 L400.15 60.29 L400.50 61.35 L401.20 62.05 L401.91 62.40 L402.96 62.40 L403.66 62.05 L404.36 61.35 L404.36 58.54M404.36 61.35 L404.36 62.40" stroke="#000" stroke-width="1.6" fill="none" stroke-linecap="round" stroke-linejoin="round"/>
<path d="M-59.49 -12.29 L-54.81 0.00 L-50.13 -12.29" stroke="#000" stroke-width="1.55" fill="none" stroke-linecap="round" stroke-linejoin="round" transform="translate(26.5 159.6) rotate(-90)"/>
<path d="M-44.28 2.14 L-44.99 1.44 L-45.69 1.09 L-46.74 1.09 L-47.44 1.44 L-48.15 2.14 L-48.50 3.19 L-48.50 3.89 L-48.15 4.95 L-47.44 5.65 L-46.74 6.00 L-45.69 6.00 L-44.99 5.65 L-44.28 4.95M-41.83 1.09 L-41.83 6.00M-42.18 -1.37 L-41.83 -1.72 L-41.48 -1.37 L-41.83 -1.02 L-42.18 -1.37M-39.02 1.09 L-39.02 3.19 L-38.67 2.14 L-37.97 1.44 L-37.26 1.09 L-36.21 1.09M-39.02 3.19 L-39.02 6.00M-30.60 2.14 L-31.30 1.44 L-32.00 1.09 L-33.05 1.09 L-33.75 1.44 L-34.46 2.14 L-34.81 3.19 L-34.81 3.89 L-34.46 4.95 L-33.75 5.65 L-33.05 6.00 L-32.00 6.00 L-31.30 5.65 L-30.60 4.95" stroke="#000" stroke-width="1.6" fill="none" stroke-linecap="round" stroke-linejoin="round" transform="translate(26.5 159.6) rotate(-90)"/>
<path d="M-13.86 -14.62 L-17.96 -14.62 L-17.96 4.09 L-13.86 4.09M-9.77 -12.29 L-9.77 -2.34 L-3.92 -8.19M-9.77 -2.34 L-9.77 0.00M-7.43 -4.68 L-3.33 0.00M0.18 -8.19 L0.18 -5.85 L1.93 -7.60 L3.10 -8.19 L4.86 -8.19 L6.03 -7.60 L6.61 -5.85 L8.37 -7.60 L9.54 -8.19 L11.29 -8.19 L12.46 -7.60 L13.05 -5.85 L13.05 0.00M0.18 -5.85 L0.18 0.00M6.61 -5.85 L6.61 0.00M27.55 -1.75 L28.14 -0.58 L29.89 0.00 L31.65 0.00 L33.40 -0.58 L33.99 -1.75 L33.99 -2.34 L33.40 -3.51 L32.23 -4.09 L29.31 -4.68 L28.14 -5.26 L27.55 -6.43 L28.14 -7.60 L29.89 -8.19 L31.65 -8.19 L33.40 -7.60 L33.99 -6.43" stroke="#000" stroke-width="1.55" fill="none" stroke-linecap="round" stroke-linejoin="round" transform="translate(26.5 159.6) rotate(-90)"/>
<path d="M37.15 -10.16 L43.47 -10.16M46.98 -12.97 L47.68 -13.32 L48.73 -14.37 L48.73 -7.00" stroke="#000" stroke-width="1.6" fill="none" stroke-linecap="round" stroke-linejoin="round" transform="translate(26.5 159.6) rotate(-90)"/>
<path d="M53.64 -14.62 L57.74 -14.62 L57.74 4.09 L53.64 4.09" stroke="#000" stroke-width="1.55" fill="none" stroke-linecap="round" stroke-linejoin="round" transform="translate(26.5 159.6) rotate(-90)"/>
<path d="M-64.06 -8.19 L-62.30 -8.19 L-62.30 -9.95 L-61.72 -11.70 L-60.55 -12.29 L-59.38 -12.29M-62.30 0.00 L-62.30 -8.19 L-59.96 -8.19" stroke="#000" stroke-width="1.55" fill="none" stroke-linecap="round" stroke-linejoin="round" transform="translate(32.0 424.3) rotate(-90)"/>
<path d="M-56.80 -1.37 L-56.80 2.14 L-56.10 1.44 L-55.40 1.09 L-54.35 1.09 L-53.64 1.44 L-52.94 2.14 L-52.59 3.19 L-52.59 3.89 L-52.94 4.95 L-53.64 5.65 L-54.35 6.00 L-55.40 6.00 L-56.10 5.65 L-56.80 4.95 L-56.80 2.14M-56.80 4.95 L-56.80 6.00M-46.27 1.09 L-46.27 2.14 L-46.98 1.44 L-47.68 1.09 L-48.73 1.09 L-49.43 1.44 L-50.13 2.14 L-50.49 3.19 L-50.49 3.89 L-50.13 4.95 L-49.43 5.65 L-48.73 6.00 L-47.68 6.00 L-46.98 5.65 L-46.27 4.95 L-46.27 2.14M-46.27 4.95 L-46.27 6.00M-43.47 1.09 L-43.47 3.19 L-43.11 2.14 L-42.41 1.44 L-41.71 1.09 L-40.66 1.09M-43.47 3.19 L-43.47 6.00" stroke="#000" stroke-width="1.6" fill="none" stroke-linecap="round" stroke-linejoin="round" transform="translate(32.0 424.3) rotate(-90)"/>
<path d="M-37.97 -7.02 L-27.44 -7.02M-37.97 -3.51 L-27.44 -3.51M-18.66 -14.62 L-19.83 -13.45 L-21.00 -11.70 L-22.17 -9.36 L-22.76 -6.43 L-22.76 -4.09 L-22.17 -1.17 L-21.00 1.17 L-19.83 2.92 L-18.66 4.09M-16.32 -12.29 L-11.64 0.00 L-6.96 -12.29" stroke="#000" stroke-width="1.55" fill="none" stroke-linecap="round" stroke-linejoin="round" transform="translate(32.0 424.3) rotate(-90)"/>
<path d="M-4.97 -1.37 L-4.97 2.14 L-4.27 1.44 L-3.57 1.09 L-2.52 1.09 L-1.81 1.44 L-1.11 2.14 L-0.76 3.19 L-0.76 3.89 L-1.11 4.95 L-1.81 5.65 L-2.52 6.00 L-3.57 6.00 L-4.27 5.65 L-4.97 4.95 L-4.97 2.14M-4.97 4.95 L-4.97 6.00M5.56 1.09 L5.56 2.14 L4.86 1.44 L4.15 1.09 L3.10 1.09 L2.40 1.44 L1.70 2.14 L1.35 3.19 L1.35 3.89 L1.70 4.95 L2.40 5.65 L3.10 6.00 L4.15 6.00 L4.86 5.65 L5.56 4.95 L5.56 2.14M5.56 4.95 L5.56 6.00M8.37 1.09 L8.37 3.19 L8.72 2.14 L9.42 1.44 L10.12 1.09 L11.17 1.09M8.37 3.19 L8.37 6.00" stroke="#000" stroke-width="1.6" fill="none" stroke-linecap="round" stroke-linejoin="round" transform="translate(32.0 424.3) rotate(-90)"/>
<path d="M12.69 4.09 L23.22 -14.62M24.98 -12.29 L29.66 0.00 L34.34 -12.29" stroke="#000" stroke-width="1.55" fill="none" stroke-linecap="round" stroke-linejoin="round" transform="translate(32.0 424.3) rotate(-90)"/>
<path d="M35.63 1.09 L36.68 1.09 L36.68 -1.37M38.08 1.09 L36.68 1.09 L36.68 4.60 L37.03 5.65 L37.73 6.00 L38.43 6.00M40.19 3.19 L40.54 2.14 L41.24 1.44 L41.94 1.09 L43.00 1.09 L43.70 1.44 L44.40 2.14 L44.75 3.19 L44.75 3.89 L44.40 4.95 L43.70 5.65 L43.00 6.00 L41.94 6.00 L41.24 5.65 L40.54 4.95 L40.19 3.89 L40.19 3.19M46.51 1.09 L47.56 1.09 L47.56 -1.37M48.96 1.09 L47.56 1.09 L47.56 4.60 L47.91 5.65 L48.61 6.00 L49.32 6.00" stroke="#000" stroke-width="1.6" fill="none" stroke-linecap="round" stroke-linejoin="round" transform="translate(32.0 424.3) rotate(-90)"/>
<path d="M51.77 -14.62 L52.94 -13.45 L54.11 -11.70 L55.28 -9.36 L55.87 -6.43 L55.87 -4.09 L55.28 -1.17 L54.11 1.17 L52.94 2.92 L51.77 4.09" stroke="#000" stroke-width="1.55" fill="none" stroke-linecap="round" stroke-linejoin="round" transform="translate(32.0 424.3) rotate(-90)"/>
<path d="M59.61 -12.62 L59.61 -12.97 L59.96 -13.67 L60.31 -14.02 L61.02 -14.37 L62.42 -14.37 L63.12 -14.02 L63.47 -13.67 L63.82 -12.97 L63.82 -12.27 L63.47 -11.56 L62.77 -10.51 L59.26 -7.00 L64.17 -7.00" stroke="#000" stroke-width="1.6" fill="none" stroke-linecap="round" stroke-linejoin="round" transform="translate(32.0 424.3) rotate(-90)"/>
</svg>
</body></html>
